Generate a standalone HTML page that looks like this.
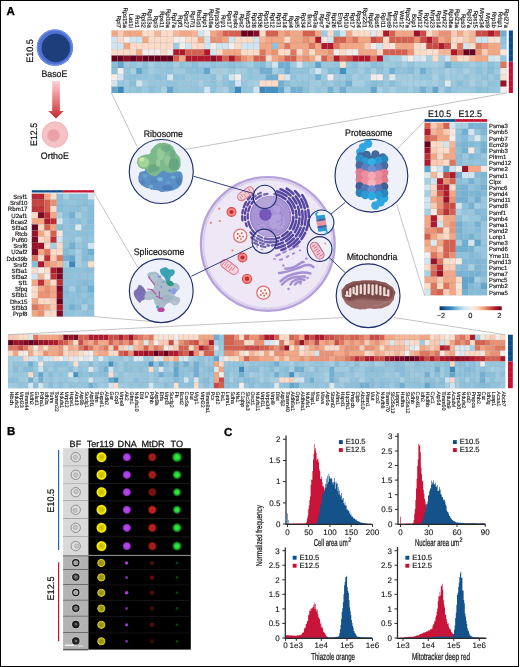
<!DOCTYPE html>
<html><head><meta charset="utf-8"><title>Figure</title><style>html,body{margin:0;padding:0;background:#fff}svg{display:block}</style></head><body><svg width="520" height="667" viewBox="0 0 520 667" style="text-rendering:geometricPrecision"><g stroke="#8a8f99" stroke-width="0.35" stroke-opacity="0.4"><rect x="111.50" y="30.50" width="6.17" height="6.25" fill="#f4a582"/><rect x="117.67" y="30.50" width="6.17" height="6.25" fill="#facbb2"/><rect x="123.84" y="30.50" width="6.17" height="6.25" fill="#f4a582"/><rect x="130.02" y="30.50" width="6.17" height="6.25" fill="#f4a582"/><rect x="136.19" y="30.50" width="6.17" height="6.25" fill="#f4a582"/><rect x="142.36" y="30.50" width="6.17" height="6.25" fill="#fddbc7"/><rect x="148.53" y="30.50" width="6.17" height="6.25" fill="#fddbc7"/><rect x="154.70" y="30.50" width="6.17" height="6.25" fill="#f7b597"/><rect x="160.88" y="30.50" width="6.17" height="6.25" fill="#fddbc7"/><rect x="167.05" y="30.50" width="6.17" height="6.25" fill="#fddbc7"/><rect x="173.22" y="30.50" width="6.17" height="6.25" fill="#f7b597"/><rect x="179.39" y="30.50" width="6.17" height="6.25" fill="#f4a582"/><rect x="185.56" y="30.50" width="6.17" height="6.25" fill="#f4a582"/><rect x="191.74" y="30.50" width="6.17" height="6.25" fill="#f7b597"/><rect x="197.91" y="30.50" width="6.17" height="6.25" fill="#d1e5f0"/><rect x="204.08" y="30.50" width="6.17" height="6.25" fill="#f3eeeb"/><rect x="210.25" y="30.50" width="6.17" height="6.25" fill="#f4a582"/><rect x="216.42" y="30.50" width="6.17" height="6.25" fill="#eb9072"/><rect x="222.60" y="30.50" width="6.17" height="6.25" fill="#d6604d"/><rect x="228.77" y="30.50" width="6.17" height="6.25" fill="#d6604d"/><rect x="234.94" y="30.50" width="6.17" height="6.25" fill="#d6604d"/><rect x="241.11" y="30.50" width="6.17" height="6.25" fill="#67001f"/><rect x="247.28" y="30.50" width="6.17" height="6.25" fill="#67001f"/><rect x="253.46" y="30.50" width="6.17" height="6.25" fill="#8c0c25"/><rect x="259.63" y="30.50" width="6.17" height="6.25" fill="#fddbc7"/><rect x="265.80" y="30.50" width="6.17" height="6.25" fill="#d6604d"/><rect x="271.97" y="30.50" width="6.17" height="6.25" fill="#d6604d"/><rect x="278.14" y="30.50" width="6.17" height="6.25" fill="#f4a582"/><rect x="284.32" y="30.50" width="6.17" height="6.25" fill="#eb9072"/><rect x="290.49" y="30.50" width="6.17" height="6.25" fill="#f4a582"/><rect x="296.66" y="30.50" width="6.17" height="6.25" fill="#f4a582"/><rect x="302.83" y="30.50" width="6.17" height="6.25" fill="#d6604d"/><rect x="309.00" y="30.50" width="6.17" height="6.25" fill="#d6604d"/><rect x="315.18" y="30.50" width="6.17" height="6.25" fill="#f4a582"/><rect x="321.35" y="30.50" width="6.17" height="6.25" fill="#9dcae1"/><rect x="327.52" y="30.50" width="6.17" height="6.25" fill="#fddbc7"/><rect x="333.69" y="30.50" width="6.17" height="6.25" fill="#91c4de"/><rect x="339.86" y="30.50" width="6.17" height="6.25" fill="#d1e5f0"/><rect x="346.04" y="30.50" width="6.17" height="6.25" fill="#f4a582"/><rect x="352.21" y="30.50" width="6.17" height="6.25" fill="#fddbc7"/><rect x="358.38" y="30.50" width="6.17" height="6.25" fill="#fddbc7"/><rect x="364.55" y="30.50" width="6.17" height="6.25" fill="#fddbc7"/><rect x="370.72" y="30.50" width="6.17" height="6.25" fill="#dbe8ee"/><rect x="376.90" y="30.50" width="6.17" height="6.25" fill="#fddbc7"/><rect x="383.07" y="30.50" width="6.17" height="6.25" fill="#b2182b"/><rect x="389.24" y="30.50" width="6.17" height="6.25" fill="#d6604d"/><rect x="395.41" y="30.50" width="6.17" height="6.25" fill="#f4a582"/><rect x="401.58" y="30.50" width="6.17" height="6.25" fill="#f4a582"/><rect x="407.76" y="30.50" width="6.17" height="6.25" fill="#f4a582"/><rect x="413.93" y="30.50" width="6.17" height="6.25" fill="#9b1127"/><rect x="420.10" y="30.50" width="6.17" height="6.25" fill="#cb4a43"/><rect x="426.27" y="30.50" width="6.17" height="6.25" fill="#fddbc7"/><rect x="432.44" y="30.50" width="6.17" height="6.25" fill="#f7b597"/><rect x="438.62" y="30.50" width="6.17" height="6.25" fill="#eb9072"/><rect x="444.79" y="30.50" width="6.17" height="6.25" fill="#eb9072"/><rect x="450.96" y="30.50" width="6.17" height="6.25" fill="#facbb2"/><rect x="457.13" y="30.50" width="6.17" height="6.25" fill="#f4a582"/><rect x="463.30" y="30.50" width="6.17" height="6.25" fill="#facbb2"/><rect x="469.48" y="30.50" width="6.17" height="6.25" fill="#f7b597"/><rect x="475.65" y="30.50" width="6.17" height="6.25" fill="#cb4a43"/><rect x="481.82" y="30.50" width="6.17" height="6.25" fill="#cb4a43"/><rect x="487.99" y="30.50" width="6.17" height="6.25" fill="#b2182b"/><rect x="494.16" y="30.50" width="6.17" height="6.25" fill="#cb4a43"/><rect x="500.34" y="30.50" width="6.17" height="6.25" fill="#70afd2"/><rect x="111.50" y="36.75" width="6.17" height="6.25" fill="#d1e5f0"/><rect x="117.67" y="36.75" width="6.17" height="6.25" fill="#fddbc7"/><rect x="123.84" y="36.75" width="6.17" height="6.25" fill="#f3eeeb"/><rect x="130.02" y="36.75" width="6.17" height="6.25" fill="#d1e5f0"/><rect x="136.19" y="36.75" width="6.17" height="6.25" fill="#d1e5f0"/><rect x="142.36" y="36.75" width="6.17" height="6.25" fill="#f4a582"/><rect x="148.53" y="36.75" width="6.17" height="6.25" fill="#fddbc7"/><rect x="154.70" y="36.75" width="6.17" height="6.25" fill="#fddbc7"/><rect x="160.88" y="36.75" width="6.17" height="6.25" fill="#fddbc7"/><rect x="167.05" y="36.75" width="6.17" height="6.25" fill="#fddbc7"/><rect x="173.22" y="36.75" width="6.17" height="6.25" fill="#f3eeeb"/><rect x="179.39" y="36.75" width="6.17" height="6.25" fill="#f3eeeb"/><rect x="185.56" y="36.75" width="6.17" height="6.25" fill="#fddbc7"/><rect x="191.74" y="36.75" width="6.17" height="6.25" fill="#fddbc7"/><rect x="197.91" y="36.75" width="6.17" height="6.25" fill="#f4a582"/><rect x="204.08" y="36.75" width="6.17" height="6.25" fill="#d1e5f0"/><rect x="210.25" y="36.75" width="6.17" height="6.25" fill="#eb9072"/><rect x="216.42" y="36.75" width="6.17" height="6.25" fill="#eb9072"/><rect x="222.60" y="36.75" width="6.17" height="6.25" fill="#f4a582"/><rect x="228.77" y="36.75" width="6.17" height="6.25" fill="#d1e5f0"/><rect x="234.94" y="36.75" width="6.17" height="6.25" fill="#fddbc7"/><rect x="241.11" y="36.75" width="6.17" height="6.25" fill="#fddbc7"/><rect x="247.28" y="36.75" width="6.17" height="6.25" fill="#fddbc7"/><rect x="253.46" y="36.75" width="6.17" height="6.25" fill="#d1e5f0"/><rect x="259.63" y="36.75" width="6.17" height="6.25" fill="#f7b597"/><rect x="265.80" y="36.75" width="6.17" height="6.25" fill="#f4a582"/><rect x="271.97" y="36.75" width="6.17" height="6.25" fill="#f4a582"/><rect x="278.14" y="36.75" width="6.17" height="6.25" fill="#f4a582"/><rect x="284.32" y="36.75" width="6.17" height="6.25" fill="#fddbc7"/><rect x="290.49" y="36.75" width="6.17" height="6.25" fill="#f4a582"/><rect x="296.66" y="36.75" width="6.17" height="6.25" fill="#f4a582"/><rect x="302.83" y="36.75" width="6.17" height="6.25" fill="#eb9072"/><rect x="309.00" y="36.75" width="6.17" height="6.25" fill="#f4a582"/><rect x="315.18" y="36.75" width="6.17" height="6.25" fill="#b2182b"/><rect x="321.35" y="36.75" width="6.17" height="6.25" fill="#f6e8e0"/><rect x="327.52" y="36.75" width="6.17" height="6.25" fill="#d1e5f0"/><rect x="333.69" y="36.75" width="6.17" height="6.25" fill="#d6604d"/><rect x="339.86" y="36.75" width="6.17" height="6.25" fill="#d6604d"/><rect x="346.04" y="36.75" width="6.17" height="6.25" fill="#eb9072"/><rect x="352.21" y="36.75" width="6.17" height="6.25" fill="#df755d"/><rect x="358.38" y="36.75" width="6.17" height="6.25" fill="#f4a582"/><rect x="364.55" y="36.75" width="6.17" height="6.25" fill="#f4a582"/><rect x="370.72" y="36.75" width="6.17" height="6.25" fill="#cb4a43"/><rect x="376.90" y="36.75" width="6.17" height="6.25" fill="#d6604d"/><rect x="383.07" y="36.75" width="6.17" height="6.25" fill="#fddbc7"/><rect x="389.24" y="36.75" width="6.17" height="6.25" fill="#d6604d"/><rect x="395.41" y="36.75" width="6.17" height="6.25" fill="#d6604d"/><rect x="401.58" y="36.75" width="6.17" height="6.25" fill="#d6604d"/><rect x="407.76" y="36.75" width="6.17" height="6.25" fill="#d6604d"/><rect x="413.93" y="36.75" width="6.17" height="6.25" fill="#eb9072"/><rect x="420.10" y="36.75" width="6.17" height="6.25" fill="#cb4a43"/><rect x="426.27" y="36.75" width="6.17" height="6.25" fill="#b2182b"/><rect x="432.44" y="36.75" width="6.17" height="6.25" fill="#d6604d"/><rect x="438.62" y="36.75" width="6.17" height="6.25" fill="#f4a582"/><rect x="444.79" y="36.75" width="6.17" height="6.25" fill="#eb9072"/><rect x="450.96" y="36.75" width="6.17" height="6.25" fill="#fddbc7"/><rect x="457.13" y="36.75" width="6.17" height="6.25" fill="#fddbc7"/><rect x="463.30" y="36.75" width="6.17" height="6.25" fill="#facbb2"/><rect x="469.48" y="36.75" width="6.17" height="6.25" fill="#f7b597"/><rect x="475.65" y="36.75" width="6.17" height="6.25" fill="#d1e5f0"/><rect x="481.82" y="36.75" width="6.17" height="6.25" fill="#d1e5f0"/><rect x="487.99" y="36.75" width="6.17" height="6.25" fill="#fae1d2"/><rect x="494.16" y="36.75" width="6.17" height="6.25" fill="#fae1d2"/><rect x="500.34" y="36.75" width="6.17" height="6.25" fill="#8fc3dd"/><rect x="111.50" y="43.00" width="6.17" height="6.25" fill="#d1e5f0"/><rect x="117.67" y="43.00" width="6.17" height="6.25" fill="#d1e5f0"/><rect x="123.84" y="43.00" width="6.17" height="6.25" fill="#f4a582"/><rect x="130.02" y="43.00" width="6.17" height="6.25" fill="#fddbc7"/><rect x="136.19" y="43.00" width="6.17" height="6.25" fill="#fddbc7"/><rect x="142.36" y="43.00" width="6.17" height="6.25" fill="#fddbc7"/><rect x="148.53" y="43.00" width="6.17" height="6.25" fill="#fddbc7"/><rect x="154.70" y="43.00" width="6.17" height="6.25" fill="#fddbc7"/><rect x="160.88" y="43.00" width="6.17" height="6.25" fill="#fddbc7"/><rect x="167.05" y="43.00" width="6.17" height="6.25" fill="#fddbc7"/><rect x="173.22" y="43.00" width="6.17" height="6.25" fill="#9dcbe1"/><rect x="179.39" y="43.00" width="6.17" height="6.25" fill="#f3eeeb"/><rect x="185.56" y="43.00" width="6.17" height="6.25" fill="#d1e5f0"/><rect x="191.74" y="43.00" width="6.17" height="6.25" fill="#fddbc7"/><rect x="197.91" y="43.00" width="6.17" height="6.25" fill="#fddbc7"/><rect x="204.08" y="43.00" width="6.17" height="6.25" fill="#d1e5f0"/><rect x="210.25" y="43.00" width="6.17" height="6.25" fill="#f3eeeb"/><rect x="216.42" y="43.00" width="6.17" height="6.25" fill="#d1e5f0"/><rect x="222.60" y="43.00" width="6.17" height="6.25" fill="#d1e5f0"/><rect x="228.77" y="43.00" width="6.17" height="6.25" fill="#f3eeeb"/><rect x="234.94" y="43.00" width="6.17" height="6.25" fill="#fddbc7"/><rect x="241.11" y="43.00" width="6.17" height="6.25" fill="#d1e5f0"/><rect x="247.28" y="43.00" width="6.17" height="6.25" fill="#d1e5f0"/><rect x="253.46" y="43.00" width="6.17" height="6.25" fill="#d1e5f0"/><rect x="259.63" y="43.00" width="6.17" height="6.25" fill="#f4a582"/><rect x="265.80" y="43.00" width="6.17" height="6.25" fill="#f4a582"/><rect x="271.97" y="43.00" width="6.17" height="6.25" fill="#8dc2dc"/><rect x="278.14" y="43.00" width="6.17" height="6.25" fill="#f4a582"/><rect x="284.32" y="43.00" width="6.17" height="6.25" fill="#df755d"/><rect x="290.49" y="43.00" width="6.17" height="6.25" fill="#f4a582"/><rect x="296.66" y="43.00" width="6.17" height="6.25" fill="#f4a582"/><rect x="302.83" y="43.00" width="6.17" height="6.25" fill="#f4a582"/><rect x="309.00" y="43.00" width="6.17" height="6.25" fill="#df755d"/><rect x="315.18" y="43.00" width="6.17" height="6.25" fill="#f4a582"/><rect x="321.35" y="43.00" width="6.17" height="6.25" fill="#b2182b"/><rect x="327.52" y="43.00" width="6.17" height="6.25" fill="#b2182b"/><rect x="333.69" y="43.00" width="6.17" height="6.25" fill="#df755d"/><rect x="339.86" y="43.00" width="6.17" height="6.25" fill="#f4a582"/><rect x="346.04" y="43.00" width="6.17" height="6.25" fill="#f4a582"/><rect x="352.21" y="43.00" width="6.17" height="6.25" fill="#f4a582"/><rect x="358.38" y="43.00" width="6.17" height="6.25" fill="#f4a582"/><rect x="364.55" y="43.00" width="6.17" height="6.25" fill="#facbb2"/><rect x="370.72" y="43.00" width="6.17" height="6.25" fill="#f3eeeb"/><rect x="376.90" y="43.00" width="6.17" height="6.25" fill="#d1e5f0"/><rect x="383.07" y="43.00" width="6.17" height="6.25" fill="#fddbc7"/><rect x="389.24" y="43.00" width="6.17" height="6.25" fill="#f6e8e0"/><rect x="395.41" y="43.00" width="6.17" height="6.25" fill="#f4a582"/><rect x="401.58" y="43.00" width="6.17" height="6.25" fill="#f4a582"/><rect x="407.76" y="43.00" width="6.17" height="6.25" fill="#f4a582"/><rect x="413.93" y="43.00" width="6.17" height="6.25" fill="#fddbc7"/><rect x="420.10" y="43.00" width="6.17" height="6.25" fill="#fae1d2"/><rect x="426.27" y="43.00" width="6.17" height="6.25" fill="#cb4a43"/><rect x="432.44" y="43.00" width="6.17" height="6.25" fill="#cb4a43"/><rect x="438.62" y="43.00" width="6.17" height="6.25" fill="#b2182b"/><rect x="444.79" y="43.00" width="6.17" height="6.25" fill="#cb4a43"/><rect x="450.96" y="43.00" width="6.17" height="6.25" fill="#fddbc7"/><rect x="457.13" y="43.00" width="6.17" height="6.25" fill="#df755d"/><rect x="463.30" y="43.00" width="6.17" height="6.25" fill="#d1e5f0"/><rect x="469.48" y="43.00" width="6.17" height="6.25" fill="#fddbc7"/><rect x="475.65" y="43.00" width="6.17" height="6.25" fill="#df755d"/><rect x="481.82" y="43.00" width="6.17" height="6.25" fill="#eb9072"/><rect x="487.99" y="43.00" width="6.17" height="6.25" fill="#f4a582"/><rect x="494.16" y="43.00" width="6.17" height="6.25" fill="#f4a582"/><rect x="500.34" y="43.00" width="6.17" height="6.25" fill="#95c6df"/><rect x="111.50" y="49.25" width="6.17" height="6.25" fill="#fddbc7"/><rect x="117.67" y="49.25" width="6.17" height="6.25" fill="#fddbc7"/><rect x="123.84" y="49.25" width="6.17" height="6.25" fill="#fddbc7"/><rect x="130.02" y="49.25" width="6.17" height="6.25" fill="#fddbc7"/><rect x="136.19" y="49.25" width="6.17" height="6.25" fill="#f4a582"/><rect x="142.36" y="49.25" width="6.17" height="6.25" fill="#f3eeeb"/><rect x="148.53" y="49.25" width="6.17" height="6.25" fill="#f3eeeb"/><rect x="154.70" y="49.25" width="6.17" height="6.25" fill="#f3eeeb"/><rect x="160.88" y="49.25" width="6.17" height="6.25" fill="#fddbc7"/><rect x="167.05" y="49.25" width="6.17" height="6.25" fill="#f3eeeb"/><rect x="173.22" y="49.25" width="6.17" height="6.25" fill="#b2182b"/><rect x="179.39" y="49.25" width="6.17" height="6.25" fill="#b2182b"/><rect x="185.56" y="49.25" width="6.17" height="6.25" fill="#d6604d"/><rect x="191.74" y="49.25" width="6.17" height="6.25" fill="#d6604d"/><rect x="197.91" y="49.25" width="6.17" height="6.25" fill="#d6604d"/><rect x="204.08" y="49.25" width="6.17" height="6.25" fill="#b2182b"/><rect x="210.25" y="49.25" width="6.17" height="6.25" fill="#d1e5f0"/><rect x="216.42" y="49.25" width="6.17" height="6.25" fill="#fddbc7"/><rect x="222.60" y="49.25" width="6.17" height="6.25" fill="#f4a582"/><rect x="228.77" y="49.25" width="6.17" height="6.25" fill="#f4a582"/><rect x="234.94" y="49.25" width="6.17" height="6.25" fill="#f4a582"/><rect x="241.11" y="49.25" width="6.17" height="6.25" fill="#fddbc7"/><rect x="247.28" y="49.25" width="6.17" height="6.25" fill="#fddbc7"/><rect x="253.46" y="49.25" width="6.17" height="6.25" fill="#fddbc7"/><rect x="259.63" y="49.25" width="6.17" height="6.25" fill="#df755d"/><rect x="265.80" y="49.25" width="6.17" height="6.25" fill="#f4a582"/><rect x="271.97" y="49.25" width="6.17" height="6.25" fill="#eb9072"/><rect x="278.14" y="49.25" width="6.17" height="6.25" fill="#fddbc7"/><rect x="284.32" y="49.25" width="6.17" height="6.25" fill="#fddbc7"/><rect x="290.49" y="49.25" width="6.17" height="6.25" fill="#df755d"/><rect x="296.66" y="49.25" width="6.17" height="6.25" fill="#fddbc7"/><rect x="302.83" y="49.25" width="6.17" height="6.25" fill="#f4a582"/><rect x="309.00" y="49.25" width="6.17" height="6.25" fill="#fddbc7"/><rect x="315.18" y="49.25" width="6.17" height="6.25" fill="#f4a582"/><rect x="321.35" y="49.25" width="6.17" height="6.25" fill="#f4a582"/><rect x="327.52" y="49.25" width="6.17" height="6.25" fill="#eb9072"/><rect x="333.69" y="49.25" width="6.17" height="6.25" fill="#f3eeeb"/><rect x="339.86" y="49.25" width="6.17" height="6.25" fill="#fddbc7"/><rect x="346.04" y="49.25" width="6.17" height="6.25" fill="#f6e8e0"/><rect x="352.21" y="49.25" width="6.17" height="6.25" fill="#f3eeeb"/><rect x="358.38" y="49.25" width="6.17" height="6.25" fill="#f4a582"/><rect x="364.55" y="49.25" width="6.17" height="6.25" fill="#f4a582"/><rect x="370.72" y="49.25" width="6.17" height="6.25" fill="#f4a582"/><rect x="376.90" y="49.25" width="6.17" height="6.25" fill="#fddbc7"/><rect x="383.07" y="49.25" width="6.17" height="6.25" fill="#d6604d"/><rect x="389.24" y="49.25" width="6.17" height="6.25" fill="#d6604d"/><rect x="395.41" y="49.25" width="6.17" height="6.25" fill="#d6604d"/><rect x="401.58" y="49.25" width="6.17" height="6.25" fill="#d6604d"/><rect x="407.76" y="49.25" width="6.17" height="6.25" fill="#eb9072"/><rect x="413.93" y="49.25" width="6.17" height="6.25" fill="#fddbc7"/><rect x="420.10" y="49.25" width="6.17" height="6.25" fill="#fddbc7"/><rect x="426.27" y="49.25" width="6.17" height="6.25" fill="#fae1d2"/><rect x="432.44" y="49.25" width="6.17" height="6.25" fill="#fddbc7"/><rect x="438.62" y="49.25" width="6.17" height="6.25" fill="#f7b597"/><rect x="444.79" y="49.25" width="6.17" height="6.25" fill="#f7b597"/><rect x="450.96" y="49.25" width="6.17" height="6.25" fill="#b2182b"/><rect x="457.13" y="49.25" width="6.17" height="6.25" fill="#d6604d"/><rect x="463.30" y="49.25" width="6.17" height="6.25" fill="#67001f"/><rect x="469.48" y="49.25" width="6.17" height="6.25" fill="#67001f"/><rect x="475.65" y="49.25" width="6.17" height="6.25" fill="#eb9072"/><rect x="481.82" y="49.25" width="6.17" height="6.25" fill="#facbb2"/><rect x="487.99" y="49.25" width="6.17" height="6.25" fill="#f4a582"/><rect x="494.16" y="49.25" width="6.17" height="6.25" fill="#f4a582"/><rect x="500.34" y="49.25" width="6.17" height="6.25" fill="#f6e8e0"/><rect x="111.50" y="55.50" width="6.17" height="6.25" fill="#67001f"/><rect x="117.67" y="55.50" width="6.17" height="6.25" fill="#67001f"/><rect x="123.84" y="55.50" width="6.17" height="6.25" fill="#8c0c25"/><rect x="130.02" y="55.50" width="6.17" height="6.25" fill="#67001f"/><rect x="136.19" y="55.50" width="6.17" height="6.25" fill="#8c0c25"/><rect x="142.36" y="55.50" width="6.17" height="6.25" fill="#67001f"/><rect x="148.53" y="55.50" width="6.17" height="6.25" fill="#67001f"/><rect x="154.70" y="55.50" width="6.17" height="6.25" fill="#67001f"/><rect x="160.88" y="55.50" width="6.17" height="6.25" fill="#67001f"/><rect x="167.05" y="55.50" width="6.17" height="6.25" fill="#67001f"/><rect x="173.22" y="55.50" width="6.17" height="6.25" fill="#d6604d"/><rect x="179.39" y="55.50" width="6.17" height="6.25" fill="#f4a582"/><rect x="185.56" y="55.50" width="6.17" height="6.25" fill="#b2182b"/><rect x="191.74" y="55.50" width="6.17" height="6.25" fill="#b2182b"/><rect x="197.91" y="55.50" width="6.17" height="6.25" fill="#b2182b"/><rect x="204.08" y="55.50" width="6.17" height="6.25" fill="#b2182b"/><rect x="210.25" y="55.50" width="6.17" height="6.25" fill="#8c0c25"/><rect x="216.42" y="55.50" width="6.17" height="6.25" fill="#b2182b"/><rect x="222.60" y="55.50" width="6.17" height="6.25" fill="#d6604d"/><rect x="228.77" y="55.50" width="6.17" height="6.25" fill="#b2182b"/><rect x="234.94" y="55.50" width="6.17" height="6.25" fill="#d6604d"/><rect x="241.11" y="55.50" width="6.17" height="6.25" fill="#eb9072"/><rect x="247.28" y="55.50" width="6.17" height="6.25" fill="#f4a582"/><rect x="253.46" y="55.50" width="6.17" height="6.25" fill="#d6604d"/><rect x="259.63" y="55.50" width="6.17" height="6.25" fill="#d6604d"/><rect x="265.80" y="55.50" width="6.17" height="6.25" fill="#fddbc7"/><rect x="271.97" y="55.50" width="6.17" height="6.25" fill="#f4a582"/><rect x="278.14" y="55.50" width="6.17" height="6.25" fill="#eb9072"/><rect x="284.32" y="55.50" width="6.17" height="6.25" fill="#d6604d"/><rect x="290.49" y="55.50" width="6.17" height="6.25" fill="#d6604d"/><rect x="296.66" y="55.50" width="6.17" height="6.25" fill="#f4a582"/><rect x="302.83" y="55.50" width="6.17" height="6.25" fill="#eb9072"/><rect x="309.00" y="55.50" width="6.17" height="6.25" fill="#f4a582"/><rect x="315.18" y="55.50" width="6.17" height="6.25" fill="#fddbc7"/><rect x="321.35" y="55.50" width="6.17" height="6.25" fill="#d6604d"/><rect x="327.52" y="55.50" width="6.17" height="6.25" fill="#eb9072"/><rect x="333.69" y="55.50" width="6.17" height="6.25" fill="#b2182b"/><rect x="339.86" y="55.50" width="6.17" height="6.25" fill="#d6604d"/><rect x="346.04" y="55.50" width="6.17" height="6.25" fill="#cb4a43"/><rect x="352.21" y="55.50" width="6.17" height="6.25" fill="#b2182b"/><rect x="358.38" y="55.50" width="6.17" height="6.25" fill="#b2182b"/><rect x="364.55" y="55.50" width="6.17" height="6.25" fill="#b2182b"/><rect x="370.72" y="55.50" width="6.17" height="6.25" fill="#df755d"/><rect x="376.90" y="55.50" width="6.17" height="6.25" fill="#b2182b"/><rect x="383.07" y="55.50" width="6.17" height="6.25" fill="#97c7df"/><rect x="389.24" y="55.50" width="6.17" height="6.25" fill="#a5cfe3"/><rect x="395.41" y="55.50" width="6.17" height="6.25" fill="#a5cfe3"/><rect x="401.58" y="55.50" width="6.17" height="6.25" fill="#d1e5f0"/><rect x="407.76" y="55.50" width="6.17" height="6.25" fill="#f3eeeb"/><rect x="413.93" y="55.50" width="6.17" height="6.25" fill="#d1e5f0"/><rect x="420.10" y="55.50" width="6.17" height="6.25" fill="#dbe8ee"/><rect x="426.27" y="55.50" width="6.17" height="6.25" fill="#a5cfe3"/><rect x="432.44" y="55.50" width="6.17" height="6.25" fill="#fddbc7"/><rect x="438.62" y="55.50" width="6.17" height="6.25" fill="#a5cfe3"/><rect x="444.79" y="55.50" width="6.17" height="6.25" fill="#d1e5f0"/><rect x="450.96" y="55.50" width="6.17" height="6.25" fill="#f7b597"/><rect x="457.13" y="55.50" width="6.17" height="6.25" fill="#fddbc7"/><rect x="463.30" y="55.50" width="6.17" height="6.25" fill="#fddbc7"/><rect x="469.48" y="55.50" width="6.17" height="6.25" fill="#f7b597"/><rect x="475.65" y="55.50" width="6.17" height="6.25" fill="#f4a582"/><rect x="481.82" y="55.50" width="6.17" height="6.25" fill="#f4a582"/><rect x="487.99" y="55.50" width="6.17" height="6.25" fill="#d1e5f0"/><rect x="494.16" y="55.50" width="6.17" height="6.25" fill="#dbe8ee"/><rect x="500.34" y="55.50" width="6.17" height="6.25" fill="#98c8e0"/><rect x="111.50" y="61.75" width="6.17" height="6.25" fill="#89bfdb"/><rect x="117.67" y="61.75" width="6.17" height="6.25" fill="#61a6cd"/><rect x="123.84" y="61.75" width="6.17" height="6.25" fill="#9dcae1"/><rect x="130.02" y="61.75" width="6.17" height="6.25" fill="#91c5de"/><rect x="136.19" y="61.75" width="6.17" height="6.25" fill="#9ecbe1"/><rect x="142.36" y="61.75" width="6.17" height="6.25" fill="#8bc0db"/><rect x="148.53" y="61.75" width="6.17" height="6.25" fill="#a3cee3"/><rect x="154.70" y="61.75" width="6.17" height="6.25" fill="#92c5de"/><rect x="160.88" y="61.75" width="6.17" height="6.25" fill="#97c7df"/><rect x="167.05" y="61.75" width="6.17" height="6.25" fill="#8fc3dd"/><rect x="173.22" y="61.75" width="6.17" height="6.25" fill="#a3cee3"/><rect x="179.39" y="61.75" width="6.17" height="6.25" fill="#8dc2dc"/><rect x="185.56" y="61.75" width="6.17" height="6.25" fill="#95c6df"/><rect x="191.74" y="61.75" width="6.17" height="6.25" fill="#86beda"/><rect x="197.91" y="61.75" width="6.17" height="6.25" fill="#9bcae1"/><rect x="204.08" y="61.75" width="6.17" height="6.25" fill="#99c9e0"/><rect x="210.25" y="61.75" width="6.17" height="6.25" fill="#8bc1dc"/><rect x="216.42" y="61.75" width="6.17" height="6.25" fill="#94c6df"/><rect x="222.60" y="61.75" width="6.17" height="6.25" fill="#91c4de"/><rect x="228.77" y="61.75" width="6.17" height="6.25" fill="#89bfdb"/><rect x="234.94" y="61.75" width="6.17" height="6.25" fill="#90c4dd"/><rect x="241.11" y="61.75" width="6.17" height="6.25" fill="#94c6df"/><rect x="247.28" y="61.75" width="6.17" height="6.25" fill="#a1cde2"/><rect x="253.46" y="61.75" width="6.17" height="6.25" fill="#8bc0dc"/><rect x="259.63" y="61.75" width="6.17" height="6.25" fill="#83bcd9"/><rect x="265.80" y="61.75" width="6.17" height="6.25" fill="#a5cfe3"/><rect x="271.97" y="61.75" width="6.17" height="6.25" fill="#d1e5f0"/><rect x="278.14" y="61.75" width="6.17" height="6.25" fill="#70afd2"/><rect x="284.32" y="61.75" width="6.17" height="6.25" fill="#70afd2"/><rect x="290.49" y="61.75" width="6.17" height="6.25" fill="#9ecbe1"/><rect x="296.66" y="61.75" width="6.17" height="6.25" fill="#d1e5f0"/><rect x="302.83" y="61.75" width="6.17" height="6.25" fill="#9dcbe1"/><rect x="309.00" y="61.75" width="6.17" height="6.25" fill="#97c7df"/><rect x="315.18" y="61.75" width="6.17" height="6.25" fill="#61a6cd"/><rect x="321.35" y="61.75" width="6.17" height="6.25" fill="#98c8e0"/><rect x="327.52" y="61.75" width="6.17" height="6.25" fill="#96c7df"/><rect x="333.69" y="61.75" width="6.17" height="6.25" fill="#91c4de"/><rect x="339.86" y="61.75" width="6.17" height="6.25" fill="#fae1d2"/><rect x="346.04" y="61.75" width="6.17" height="6.25" fill="#96c7df"/><rect x="352.21" y="61.75" width="6.17" height="6.25" fill="#88bfdb"/><rect x="358.38" y="61.75" width="6.17" height="6.25" fill="#a4cee3"/><rect x="364.55" y="61.75" width="6.17" height="6.25" fill="#9ccae1"/><rect x="370.72" y="61.75" width="6.17" height="6.25" fill="#88bfdb"/><rect x="376.90" y="61.75" width="6.17" height="6.25" fill="#91c5de"/><rect x="383.07" y="61.75" width="6.17" height="6.25" fill="#a0cce2"/><rect x="389.24" y="61.75" width="6.17" height="6.25" fill="#9ac9e0"/><rect x="395.41" y="61.75" width="6.17" height="6.25" fill="#92c5de"/><rect x="401.58" y="61.75" width="6.17" height="6.25" fill="#9fcce2"/><rect x="407.76" y="61.75" width="6.17" height="6.25" fill="#90c4dd"/><rect x="413.93" y="61.75" width="6.17" height="6.25" fill="#a0cce2"/><rect x="420.10" y="61.75" width="6.17" height="6.25" fill="#9ecbe1"/><rect x="426.27" y="61.75" width="6.17" height="6.25" fill="#9dcbe1"/><rect x="432.44" y="61.75" width="6.17" height="6.25" fill="#a6cfe4"/><rect x="438.62" y="61.75" width="6.17" height="6.25" fill="#9bcae1"/><rect x="444.79" y="61.75" width="6.17" height="6.25" fill="#70afd2"/><rect x="450.96" y="61.75" width="6.17" height="6.25" fill="#90c4dd"/><rect x="457.13" y="61.75" width="6.17" height="6.25" fill="#8ec3dd"/><rect x="463.30" y="61.75" width="6.17" height="6.25" fill="#97c8df"/><rect x="469.48" y="61.75" width="6.17" height="6.25" fill="#a1cce2"/><rect x="475.65" y="61.75" width="6.17" height="6.25" fill="#91c4de"/><rect x="481.82" y="61.75" width="6.17" height="6.25" fill="#9bcae1"/><rect x="487.99" y="61.75" width="6.17" height="6.25" fill="#8cc1dc"/><rect x="494.16" y="61.75" width="6.17" height="6.25" fill="#98c8e0"/><rect x="500.34" y="61.75" width="6.17" height="6.25" fill="#df755d"/><rect x="111.50" y="68.00" width="6.17" height="6.25" fill="#8ac0db"/><rect x="117.67" y="68.00" width="6.17" height="6.25" fill="#f3eeeb"/><rect x="123.84" y="68.00" width="6.17" height="6.25" fill="#92c5de"/><rect x="130.02" y="68.00" width="6.17" height="6.25" fill="#a6cfe4"/><rect x="136.19" y="68.00" width="6.17" height="6.25" fill="#61a6cd"/><rect x="142.36" y="68.00" width="6.17" height="6.25" fill="#8cc1dc"/><rect x="148.53" y="68.00" width="6.17" height="6.25" fill="#a1cde2"/><rect x="154.70" y="68.00" width="6.17" height="6.25" fill="#98c8e0"/><rect x="160.88" y="68.00" width="6.17" height="6.25" fill="#93c5de"/><rect x="167.05" y="68.00" width="6.17" height="6.25" fill="#8ec3dd"/><rect x="173.22" y="68.00" width="6.17" height="6.25" fill="#9ccae1"/><rect x="179.39" y="68.00" width="6.17" height="6.25" fill="#9bcae1"/><rect x="185.56" y="68.00" width="6.17" height="6.25" fill="#8bc1dc"/><rect x="191.74" y="68.00" width="6.17" height="6.25" fill="#8cc1dc"/><rect x="197.91" y="68.00" width="6.17" height="6.25" fill="#8cc2dc"/><rect x="204.08" y="68.00" width="6.17" height="6.25" fill="#61a6cd"/><rect x="210.25" y="68.00" width="6.17" height="6.25" fill="#a2cde3"/><rect x="216.42" y="68.00" width="6.17" height="6.25" fill="#a0cce2"/><rect x="222.60" y="68.00" width="6.17" height="6.25" fill="#a6cfe4"/><rect x="228.77" y="68.00" width="6.17" height="6.25" fill="#97c8e0"/><rect x="234.94" y="68.00" width="6.17" height="6.25" fill="#a5cfe3"/><rect x="241.11" y="68.00" width="6.17" height="6.25" fill="#9ecbe1"/><rect x="247.28" y="68.00" width="6.17" height="6.25" fill="#8dc2dc"/><rect x="253.46" y="68.00" width="6.17" height="6.25" fill="#94c6df"/><rect x="259.63" y="68.00" width="6.17" height="6.25" fill="#70afd2"/><rect x="265.80" y="68.00" width="6.17" height="6.25" fill="#70afd2"/><rect x="271.97" y="68.00" width="6.17" height="6.25" fill="#a3cee3"/><rect x="278.14" y="68.00" width="6.17" height="6.25" fill="#94c6df"/><rect x="284.32" y="68.00" width="6.17" height="6.25" fill="#70afd2"/><rect x="290.49" y="68.00" width="6.17" height="6.25" fill="#8fc3dd"/><rect x="296.66" y="68.00" width="6.17" height="6.25" fill="#90c3dd"/><rect x="302.83" y="68.00" width="6.17" height="6.25" fill="#8fc3dd"/><rect x="309.00" y="68.00" width="6.17" height="6.25" fill="#a5cfe3"/><rect x="315.18" y="68.00" width="6.17" height="6.25" fill="#d1e5f0"/><rect x="321.35" y="68.00" width="6.17" height="6.25" fill="#a1cde2"/><rect x="327.52" y="68.00" width="6.17" height="6.25" fill="#83bcd9"/><rect x="333.69" y="68.00" width="6.17" height="6.25" fill="#87beda"/><rect x="339.86" y="68.00" width="6.17" height="6.25" fill="#4191c2"/><rect x="346.04" y="68.00" width="6.17" height="6.25" fill="#93c6de"/><rect x="352.21" y="68.00" width="6.17" height="6.25" fill="#90c4dd"/><rect x="358.38" y="68.00" width="6.17" height="6.25" fill="#9fcce2"/><rect x="364.55" y="68.00" width="6.17" height="6.25" fill="#8dc2dc"/><rect x="370.72" y="68.00" width="6.17" height="6.25" fill="#a5cfe3"/><rect x="376.90" y="68.00" width="6.17" height="6.25" fill="#8ec2dd"/><rect x="383.07" y="68.00" width="6.17" height="6.25" fill="#9dcae1"/><rect x="389.24" y="68.00" width="6.17" height="6.25" fill="#70afd2"/><rect x="395.41" y="68.00" width="6.17" height="6.25" fill="#8ec2dd"/><rect x="401.58" y="68.00" width="6.17" height="6.25" fill="#8dc2dc"/><rect x="407.76" y="68.00" width="6.17" height="6.25" fill="#85bdda"/><rect x="413.93" y="68.00" width="6.17" height="6.25" fill="#9ccae1"/><rect x="420.10" y="68.00" width="6.17" height="6.25" fill="#70afd2"/><rect x="426.27" y="68.00" width="6.17" height="6.25" fill="#90c4dd"/><rect x="432.44" y="68.00" width="6.17" height="6.25" fill="#9bcae1"/><rect x="438.62" y="68.00" width="6.17" height="6.25" fill="#97c7df"/><rect x="444.79" y="68.00" width="6.17" height="6.25" fill="#a6cfe4"/><rect x="450.96" y="68.00" width="6.17" height="6.25" fill="#9fcce2"/><rect x="457.13" y="68.00" width="6.17" height="6.25" fill="#94c6df"/><rect x="463.30" y="68.00" width="6.17" height="6.25" fill="#a5cfe3"/><rect x="469.48" y="68.00" width="6.17" height="6.25" fill="#98c8e0"/><rect x="475.65" y="68.00" width="6.17" height="6.25" fill="#8bc0dc"/><rect x="481.82" y="68.00" width="6.17" height="6.25" fill="#96c7df"/><rect x="487.99" y="68.00" width="6.17" height="6.25" fill="#87beda"/><rect x="494.16" y="68.00" width="6.17" height="6.25" fill="#9ccae1"/><rect x="500.34" y="68.00" width="6.17" height="6.25" fill="#f6e8e0"/><rect x="111.50" y="74.25" width="6.17" height="6.25" fill="#f3eeeb"/><rect x="117.67" y="74.25" width="6.17" height="6.25" fill="#d1e5f0"/><rect x="123.84" y="74.25" width="6.17" height="6.25" fill="#8fc3dd"/><rect x="130.02" y="74.25" width="6.17" height="6.25" fill="#8bc0dc"/><rect x="136.19" y="74.25" width="6.17" height="6.25" fill="#8fc3dd"/><rect x="142.36" y="74.25" width="6.17" height="6.25" fill="#8fc3dd"/><rect x="148.53" y="74.25" width="6.17" height="6.25" fill="#92c5de"/><rect x="154.70" y="74.25" width="6.17" height="6.25" fill="#89bfdb"/><rect x="160.88" y="74.25" width="6.17" height="6.25" fill="#8ec2dd"/><rect x="167.05" y="74.25" width="6.17" height="6.25" fill="#d1e5f0"/><rect x="173.22" y="74.25" width="6.17" height="6.25" fill="#8bc1dc"/><rect x="179.39" y="74.25" width="6.17" height="6.25" fill="#8cc1dc"/><rect x="185.56" y="74.25" width="6.17" height="6.25" fill="#97c8df"/><rect x="191.74" y="74.25" width="6.17" height="6.25" fill="#94c6de"/><rect x="197.91" y="74.25" width="6.17" height="6.25" fill="#98c8e0"/><rect x="204.08" y="74.25" width="6.17" height="6.25" fill="#97c8e0"/><rect x="210.25" y="74.25" width="6.17" height="6.25" fill="#89bfdb"/><rect x="216.42" y="74.25" width="6.17" height="6.25" fill="#a7d0e4"/><rect x="222.60" y="74.25" width="6.17" height="6.25" fill="#92c5de"/><rect x="228.77" y="74.25" width="6.17" height="6.25" fill="#d1e5f0"/><rect x="234.94" y="74.25" width="6.17" height="6.25" fill="#f3eeeb"/><rect x="241.11" y="74.25" width="6.17" height="6.25" fill="#99c9e0"/><rect x="247.28" y="74.25" width="6.17" height="6.25" fill="#8ec3dd"/><rect x="253.46" y="74.25" width="6.17" height="6.25" fill="#92c5de"/><rect x="259.63" y="74.25" width="6.17" height="6.25" fill="#96c7df"/><rect x="265.80" y="74.25" width="6.17" height="6.25" fill="#70afd2"/><rect x="271.97" y="74.25" width="6.17" height="6.25" fill="#70afd2"/><rect x="278.14" y="74.25" width="6.17" height="6.25" fill="#fddbc7"/><rect x="284.32" y="74.25" width="6.17" height="6.25" fill="#d1e5f0"/><rect x="290.49" y="74.25" width="6.17" height="6.25" fill="#8fc3dd"/><rect x="296.66" y="74.25" width="6.17" height="6.25" fill="#99c9e0"/><rect x="302.83" y="74.25" width="6.17" height="6.25" fill="#9bc9e1"/><rect x="309.00" y="74.25" width="6.17" height="6.25" fill="#94c6de"/><rect x="315.18" y="74.25" width="6.17" height="6.25" fill="#70afd2"/><rect x="321.35" y="74.25" width="6.17" height="6.25" fill="#9ac9e0"/><rect x="327.52" y="74.25" width="6.17" height="6.25" fill="#f3eeeb"/><rect x="333.69" y="74.25" width="6.17" height="6.25" fill="#9dcbe1"/><rect x="339.86" y="74.25" width="6.17" height="6.25" fill="#9fcce2"/><rect x="346.04" y="74.25" width="6.17" height="6.25" fill="#8fc3dd"/><rect x="352.21" y="74.25" width="6.17" height="6.25" fill="#a2cde2"/><rect x="358.38" y="74.25" width="6.17" height="6.25" fill="#95c7df"/><rect x="364.55" y="74.25" width="6.17" height="6.25" fill="#9ecbe1"/><rect x="370.72" y="74.25" width="6.17" height="6.25" fill="#f3eeeb"/><rect x="376.90" y="74.25" width="6.17" height="6.25" fill="#f3eeeb"/><rect x="383.07" y="74.25" width="6.17" height="6.25" fill="#99c8e0"/><rect x="389.24" y="74.25" width="6.17" height="6.25" fill="#dbe8ee"/><rect x="395.41" y="74.25" width="6.17" height="6.25" fill="#9fcbe2"/><rect x="401.58" y="74.25" width="6.17" height="6.25" fill="#9ccae1"/><rect x="407.76" y="74.25" width="6.17" height="6.25" fill="#9fcce2"/><rect x="413.93" y="74.25" width="6.17" height="6.25" fill="#9bcae1"/><rect x="420.10" y="74.25" width="6.17" height="6.25" fill="#92c5de"/><rect x="426.27" y="74.25" width="6.17" height="6.25" fill="#8fc3dd"/><rect x="432.44" y="74.25" width="6.17" height="6.25" fill="#a5cfe3"/><rect x="438.62" y="74.25" width="6.17" height="6.25" fill="#8dc2dc"/><rect x="444.79" y="74.25" width="6.17" height="6.25" fill="#a3cee3"/><rect x="450.96" y="74.25" width="6.17" height="6.25" fill="#99c9e0"/><rect x="457.13" y="74.25" width="6.17" height="6.25" fill="#9ccae1"/><rect x="463.30" y="74.25" width="6.17" height="6.25" fill="#92c5de"/><rect x="469.48" y="74.25" width="6.17" height="6.25" fill="#a0cce2"/><rect x="475.65" y="74.25" width="6.17" height="6.25" fill="#98c8e0"/><rect x="481.82" y="74.25" width="6.17" height="6.25" fill="#8fc3dd"/><rect x="487.99" y="74.25" width="6.17" height="6.25" fill="#9ac9e0"/><rect x="494.16" y="74.25" width="6.17" height="6.25" fill="#8cc1dc"/><rect x="500.34" y="74.25" width="6.17" height="6.25" fill="#fae1d2"/><rect x="111.50" y="80.50" width="6.17" height="6.25" fill="#d1e5f0"/><rect x="117.67" y="80.50" width="6.17" height="6.25" fill="#94c6df"/><rect x="123.84" y="80.50" width="6.17" height="6.25" fill="#9bcae1"/><rect x="130.02" y="80.50" width="6.17" height="6.25" fill="#88bfdb"/><rect x="136.19" y="80.50" width="6.17" height="6.25" fill="#d1e5f0"/><rect x="142.36" y="80.50" width="6.17" height="6.25" fill="#a2cde3"/><rect x="148.53" y="80.50" width="6.17" height="6.25" fill="#94c6df"/><rect x="154.70" y="80.50" width="6.17" height="6.25" fill="#97c7df"/><rect x="160.88" y="80.50" width="6.17" height="6.25" fill="#97c7df"/><rect x="167.05" y="80.50" width="6.17" height="6.25" fill="#90c4dd"/><rect x="173.22" y="80.50" width="6.17" height="6.25" fill="#90c4dd"/><rect x="179.39" y="80.50" width="6.17" height="6.25" fill="#93c6de"/><rect x="185.56" y="80.50" width="6.17" height="6.25" fill="#93c5de"/><rect x="191.74" y="80.50" width="6.17" height="6.25" fill="#96c7df"/><rect x="197.91" y="80.50" width="6.17" height="6.25" fill="#a5cfe3"/><rect x="204.08" y="80.50" width="6.17" height="6.25" fill="#94c6df"/><rect x="210.25" y="80.50" width="6.17" height="6.25" fill="#8cc1dc"/><rect x="216.42" y="80.50" width="6.17" height="6.25" fill="#9ccae1"/><rect x="222.60" y="80.50" width="6.17" height="6.25" fill="#8ec2dd"/><rect x="228.77" y="80.50" width="6.17" height="6.25" fill="#83bcd9"/><rect x="234.94" y="80.50" width="6.17" height="6.25" fill="#d1e5f0"/><rect x="241.11" y="80.50" width="6.17" height="6.25" fill="#93c6de"/><rect x="247.28" y="80.50" width="6.17" height="6.25" fill="#9ecbe2"/><rect x="253.46" y="80.50" width="6.17" height="6.25" fill="#a4cee3"/><rect x="259.63" y="80.50" width="6.17" height="6.25" fill="#fddbc7"/><rect x="265.80" y="80.50" width="6.17" height="6.25" fill="#fddbc7"/><rect x="271.97" y="80.50" width="6.17" height="6.25" fill="#fddbc7"/><rect x="278.14" y="80.50" width="6.17" height="6.25" fill="#70afd2"/><rect x="284.32" y="80.50" width="6.17" height="6.25" fill="#87beda"/><rect x="290.49" y="80.50" width="6.17" height="6.25" fill="#95c7df"/><rect x="296.66" y="80.50" width="6.17" height="6.25" fill="#91c5de"/><rect x="302.83" y="80.50" width="6.17" height="6.25" fill="#90c4dd"/><rect x="309.00" y="80.50" width="6.17" height="6.25" fill="#9ccae1"/><rect x="315.18" y="80.50" width="6.17" height="6.25" fill="#a0cce2"/><rect x="321.35" y="80.50" width="6.17" height="6.25" fill="#90c4dd"/><rect x="327.52" y="80.50" width="6.17" height="6.25" fill="#99c9e0"/><rect x="333.69" y="80.50" width="6.17" height="6.25" fill="#8cc1dc"/><rect x="339.86" y="80.50" width="6.17" height="6.25" fill="#90c4dd"/><rect x="346.04" y="80.50" width="6.17" height="6.25" fill="#70afd2"/><rect x="352.21" y="80.50" width="6.17" height="6.25" fill="#a3cee3"/><rect x="358.38" y="80.50" width="6.17" height="6.25" fill="#a5cfe3"/><rect x="364.55" y="80.50" width="6.17" height="6.25" fill="#91c4de"/><rect x="370.72" y="80.50" width="6.17" height="6.25" fill="#86beda"/><rect x="376.90" y="80.50" width="6.17" height="6.25" fill="#8cc1dc"/><rect x="383.07" y="80.50" width="6.17" height="6.25" fill="#96c7df"/><rect x="389.24" y="80.50" width="6.17" height="6.25" fill="#86bdda"/><rect x="395.41" y="80.50" width="6.17" height="6.25" fill="#96c7df"/><rect x="401.58" y="80.50" width="6.17" height="6.25" fill="#a3cde3"/><rect x="407.76" y="80.50" width="6.17" height="6.25" fill="#a2cde2"/><rect x="413.93" y="80.50" width="6.17" height="6.25" fill="#a5cfe4"/><rect x="420.10" y="80.50" width="6.17" height="6.25" fill="#a5cfe3"/><rect x="426.27" y="80.50" width="6.17" height="6.25" fill="#9ac9e0"/><rect x="432.44" y="80.50" width="6.17" height="6.25" fill="#a2cde3"/><rect x="438.62" y="80.50" width="6.17" height="6.25" fill="#94c6df"/><rect x="444.79" y="80.50" width="6.17" height="6.25" fill="#dbe8ee"/><rect x="450.96" y="80.50" width="6.17" height="6.25" fill="#95c7df"/><rect x="457.13" y="80.50" width="6.17" height="6.25" fill="#87beda"/><rect x="463.30" y="80.50" width="6.17" height="6.25" fill="#93c5de"/><rect x="469.48" y="80.50" width="6.17" height="6.25" fill="#a8d0e4"/><rect x="475.65" y="80.50" width="6.17" height="6.25" fill="#93c6de"/><rect x="481.82" y="80.50" width="6.17" height="6.25" fill="#a1cde2"/><rect x="487.99" y="80.50" width="6.17" height="6.25" fill="#8ec2dd"/><rect x="494.16" y="80.50" width="6.17" height="6.25" fill="#91c5de"/><rect x="500.34" y="80.50" width="6.17" height="6.25" fill="#9b1127"/><rect x="111.50" y="86.75" width="6.17" height="6.25" fill="#61a6cd"/><rect x="117.67" y="86.75" width="6.17" height="6.25" fill="#3b88bd"/><rect x="123.84" y="86.75" width="6.17" height="6.25" fill="#99c8e0"/><rect x="130.02" y="86.75" width="6.17" height="6.25" fill="#96c7df"/><rect x="136.19" y="86.75" width="6.17" height="6.25" fill="#8cc1dc"/><rect x="142.36" y="86.75" width="6.17" height="6.25" fill="#9ac9e0"/><rect x="148.53" y="86.75" width="6.17" height="6.25" fill="#89bfdb"/><rect x="154.70" y="86.75" width="6.17" height="6.25" fill="#93c6de"/><rect x="160.88" y="86.75" width="6.17" height="6.25" fill="#a8d0e4"/><rect x="167.05" y="86.75" width="6.17" height="6.25" fill="#61a6cd"/><rect x="173.22" y="86.75" width="6.17" height="6.25" fill="#8ec2dc"/><rect x="179.39" y="86.75" width="6.17" height="6.25" fill="#94c6df"/><rect x="185.56" y="86.75" width="6.17" height="6.25" fill="#93c5de"/><rect x="191.74" y="86.75" width="6.17" height="6.25" fill="#91c5de"/><rect x="197.91" y="86.75" width="6.17" height="6.25" fill="#94c6df"/><rect x="204.08" y="86.75" width="6.17" height="6.25" fill="#d1e5f0"/><rect x="210.25" y="86.75" width="6.17" height="6.25" fill="#8dc2dc"/><rect x="216.42" y="86.75" width="6.17" height="6.25" fill="#9fcce2"/><rect x="222.60" y="86.75" width="6.17" height="6.25" fill="#a8d0e4"/><rect x="228.77" y="86.75" width="6.17" height="6.25" fill="#83bcd9"/><rect x="234.94" y="86.75" width="6.17" height="6.25" fill="#3b88bd"/><rect x="241.11" y="86.75" width="6.17" height="6.25" fill="#90c4dd"/><rect x="247.28" y="86.75" width="6.17" height="6.25" fill="#93c6de"/><rect x="253.46" y="86.75" width="6.17" height="6.25" fill="#d1e5f0"/><rect x="259.63" y="86.75" width="6.17" height="6.25" fill="#3b88bd"/><rect x="265.80" y="86.75" width="6.17" height="6.25" fill="#4191c2"/><rect x="271.97" y="86.75" width="6.17" height="6.25" fill="#4191c2"/><rect x="278.14" y="86.75" width="6.17" height="6.25" fill="#61a6cd"/><rect x="284.32" y="86.75" width="6.17" height="6.25" fill="#a5cfe3"/><rect x="290.49" y="86.75" width="6.17" height="6.25" fill="#70afd2"/><rect x="296.66" y="86.75" width="6.17" height="6.25" fill="#70afd2"/><rect x="302.83" y="86.75" width="6.17" height="6.25" fill="#8cc1dc"/><rect x="309.00" y="86.75" width="6.17" height="6.25" fill="#9fcce2"/><rect x="315.18" y="86.75" width="6.17" height="6.25" fill="#95c6df"/><rect x="321.35" y="86.75" width="6.17" height="6.25" fill="#9dcae1"/><rect x="327.52" y="86.75" width="6.17" height="6.25" fill="#70afd2"/><rect x="333.69" y="86.75" width="6.17" height="6.25" fill="#98c8e0"/><rect x="339.86" y="86.75" width="6.17" height="6.25" fill="#70afd2"/><rect x="346.04" y="86.75" width="6.17" height="6.25" fill="#95c7df"/><rect x="352.21" y="86.75" width="6.17" height="6.25" fill="#92c5de"/><rect x="358.38" y="86.75" width="6.17" height="6.25" fill="#91c5de"/><rect x="364.55" y="86.75" width="6.17" height="6.25" fill="#90c4dd"/><rect x="370.72" y="86.75" width="6.17" height="6.25" fill="#61a6cd"/><rect x="376.90" y="86.75" width="6.17" height="6.25" fill="#a5cfe3"/><rect x="383.07" y="86.75" width="6.17" height="6.25" fill="#96c7df"/><rect x="389.24" y="86.75" width="6.17" height="6.25" fill="#a5cfe3"/><rect x="395.41" y="86.75" width="6.17" height="6.25" fill="#97c7df"/><rect x="401.58" y="86.75" width="6.17" height="6.25" fill="#92c5de"/><rect x="407.76" y="86.75" width="6.17" height="6.25" fill="#9bcae1"/><rect x="413.93" y="86.75" width="6.17" height="6.25" fill="#90c4dd"/><rect x="420.10" y="86.75" width="6.17" height="6.25" fill="#70afd2"/><rect x="426.27" y="86.75" width="6.17" height="6.25" fill="#91c4de"/><rect x="432.44" y="86.75" width="6.17" height="6.25" fill="#61a6cd"/><rect x="438.62" y="86.75" width="6.17" height="6.25" fill="#9fcbe2"/><rect x="444.79" y="86.75" width="6.17" height="6.25" fill="#83bcd9"/><rect x="450.96" y="86.75" width="6.17" height="6.25" fill="#92c5de"/><rect x="457.13" y="86.75" width="6.17" height="6.25" fill="#97c7df"/><rect x="463.30" y="86.75" width="6.17" height="6.25" fill="#95c7df"/><rect x="469.48" y="86.75" width="6.17" height="6.25" fill="#93c6de"/><rect x="475.65" y="86.75" width="6.17" height="6.25" fill="#88bfdb"/><rect x="481.82" y="86.75" width="6.17" height="6.25" fill="#8ec3dd"/><rect x="487.99" y="86.75" width="6.17" height="6.25" fill="#94c6df"/><rect x="494.16" y="86.75" width="6.17" height="6.25" fill="#97c8df"/><rect x="500.34" y="86.75" width="6.17" height="6.25" fill="#f3eeeb"/></g>
<rect x="508.8" y="30.5" width="4.1" height="31.25" fill="#0d4d8c"/><rect x="508.8" y="61.75" width="4.1" height="31.25" fill="#c8102e"/>
<g font-family="Liberation Sans, Arial, Helvetica, sans-serif" font-size="5.95" fill="#111" stroke="#111" stroke-width="0.15">
<text transform="translate(116.70,27.9) rotate(91.5)" text-anchor="end">Rpl7</text>
<text transform="translate(122.85,27.9) rotate(91.5)" text-anchor="end">Rps15a</text>
<text transform="translate(129.00,27.9) rotate(91.5)" text-anchor="end">Las1l</text>
<text transform="translate(135.15,27.9) rotate(91.5)" text-anchor="end">Rrs1</text>
<text transform="translate(141.30,27.9) rotate(91.5)" text-anchor="end">Rpl32</text>
<text transform="translate(147.45,27.9) rotate(91.5)" text-anchor="end">Rpl13a</text>
<text transform="translate(153.60,27.9) rotate(91.5)" text-anchor="end">Rpl3</text>
<text transform="translate(159.75,27.9) rotate(91.5)" text-anchor="end">Rps11</text>
<text transform="translate(165.90,27.9) rotate(91.5)" text-anchor="end">Rpl10a</text>
<text transform="translate(172.05,27.9) rotate(91.5)" text-anchor="end">Rpl7a</text>
<text transform="translate(178.20,27.9) rotate(91.5)" text-anchor="end">Rpf1</text>
<text transform="translate(184.35,27.9) rotate(91.5)" text-anchor="end">Rps27</text>
<text transform="translate(190.50,27.9) rotate(91.5)" text-anchor="end">Rpl7l1</text>
<text transform="translate(196.65,27.9) rotate(91.5)" text-anchor="end">Rsl1d1</text>
<text transform="translate(202.80,27.9) rotate(91.5)" text-anchor="end">Rplp1</text>
<text transform="translate(208.95,27.9) rotate(91.5)" text-anchor="end">Rpl18a</text>
<text transform="translate(215.10,27.9) rotate(91.5)" text-anchor="end">Mrps30</text>
<text transform="translate(221.25,27.9) rotate(91.5)" text-anchor="end">Rrp1</text>
<text transform="translate(227.40,27.9) rotate(91.5)" text-anchor="end">Rps17</text>
<text transform="translate(233.55,27.9) rotate(91.5)" text-anchor="end">Rps4x</text>
<text transform="translate(239.70,27.9) rotate(91.5)" text-anchor="end">Rps2</text>
<text transform="translate(245.85,27.9) rotate(91.5)" text-anchor="end">Nop53</text>
<text transform="translate(252.00,27.9) rotate(91.5)" text-anchor="end">Rpl38</text>
<text transform="translate(258.15,27.9) rotate(91.5)" text-anchor="end">Rpl36</text>
<text transform="translate(264.30,27.9) rotate(91.5)" text-anchor="end">Rps10</text>
<text transform="translate(270.45,27.9) rotate(91.5)" text-anchor="end">Rpl12</text>
<text transform="translate(276.60,27.9) rotate(91.5)" text-anchor="end">Rpl31</text>
<text transform="translate(282.75,27.9) rotate(91.5)" text-anchor="end">Rpl14</text>
<text transform="translate(288.90,27.9) rotate(91.5)" text-anchor="end">Rpl4</text>
<text transform="translate(295.05,27.9) rotate(91.5)" text-anchor="end">Rpl5</text>
<text transform="translate(301.20,27.9) rotate(91.5)" text-anchor="end">Rpl34</text>
<text transform="translate(307.35,27.9) rotate(91.5)" text-anchor="end">Brix1</text>
<text transform="translate(313.50,27.9) rotate(91.5)" text-anchor="end">Rps3a</text>
<text transform="translate(319.65,27.9) rotate(91.5)" text-anchor="end">Rps7</text>
<text transform="translate(325.80,27.9) rotate(91.5)" text-anchor="end">Rrp7a</text>
<text transform="translate(331.95,27.9) rotate(91.5)" text-anchor="end">Rpl26</text>
<text transform="translate(338.10,27.9) rotate(91.5)" text-anchor="end">Emg1</text>
<text transform="translate(344.25,27.9) rotate(91.5)" text-anchor="end">Rpl10</text>
<text transform="translate(350.40,27.9) rotate(91.5)" text-anchor="end">Rpl17</text>
<text transform="translate(356.55,27.9) rotate(91.5)" text-anchor="end">Rps24</text>
<text transform="translate(362.70,27.9) rotate(91.5)" text-anchor="end">Rpl22l1</text>
<text transform="translate(368.85,27.9) rotate(91.5)" text-anchor="end">Rplp2</text>
<text transform="translate(375.00,27.9) rotate(91.5)" text-anchor="end">Rps5</text>
<text transform="translate(381.15,27.9) rotate(91.5)" text-anchor="end">Rpl11</text>
<text transform="translate(387.30,27.9) rotate(91.5)" text-anchor="end">Mrps9</text>
<text transform="translate(393.45,27.9) rotate(91.5)" text-anchor="end">Rps12</text>
<text transform="translate(399.60,27.9) rotate(91.5)" text-anchor="end">Wdr12</text>
<text transform="translate(405.75,27.9) rotate(91.5)" text-anchor="end">Rps27a</text>
<text transform="translate(411.90,27.9) rotate(91.5)" text-anchor="end">Bop1</text>
<text transform="translate(418.05,27.9) rotate(91.5)" text-anchor="end">Mrpl12</text>
<text transform="translate(424.20,27.9) rotate(91.5)" text-anchor="end">Rpl27</text>
<text transform="translate(430.35,27.9) rotate(91.5)" text-anchor="end">Mrpl23</text>
<text transform="translate(436.50,27.9) rotate(91.5)" text-anchor="end">Rps14</text>
<text transform="translate(442.65,27.9) rotate(91.5)" text-anchor="end">Mrpl22</text>
<text transform="translate(448.80,27.9) rotate(91.5)" text-anchor="end">Rpl36a</text>
<text transform="translate(454.95,27.9) rotate(91.5)" text-anchor="end">Rpl23a</text>
<text transform="translate(461.10,27.9) rotate(91.5)" text-anchor="end">Rps3</text>
<text transform="translate(467.25,27.9) rotate(91.5)" text-anchor="end">Rpl37a</text>
<text transform="translate(473.40,27.9) rotate(91.5)" text-anchor="end">Rps15</text>
<text transform="translate(479.55,27.9) rotate(91.5)" text-anchor="end">Mrps34</text>
<text transform="translate(485.70,27.9) rotate(91.5)" text-anchor="end">Mrpl9</text>
<text transform="translate(491.85,27.9) rotate(91.5)" text-anchor="end">Rrp1b</text>
<text transform="translate(498.00,27.9) rotate(91.5)" text-anchor="end">Rrbp1</text>
<text transform="translate(504.15,27.9) rotate(91.5)" text-anchor="end">Rpl27a</text>
</g>
<g stroke="#8a8f99" stroke-width="0.35" stroke-opacity="0.4"><rect x="8.10" y="334.70" width="5.02" height="5.35" fill="#facbb2"/><rect x="13.12" y="334.70" width="5.02" height="5.35" fill="#facbb2"/><rect x="18.14" y="334.70" width="5.02" height="5.35" fill="#fddbc7"/><rect x="23.16" y="334.70" width="5.02" height="5.35" fill="#fddbc7"/><rect x="28.18" y="334.70" width="5.02" height="5.35" fill="#dbe8ee"/><rect x="33.20" y="334.70" width="5.02" height="5.35" fill="#df755d"/><rect x="38.23" y="334.70" width="5.02" height="5.35" fill="#f4a582"/><rect x="43.25" y="334.70" width="5.02" height="5.35" fill="#f4a582"/><rect x="48.27" y="334.70" width="5.02" height="5.35" fill="#f4a582"/><rect x="53.29" y="334.70" width="5.02" height="5.35" fill="#f4a582"/><rect x="58.31" y="334.70" width="5.02" height="5.35" fill="#eb9072"/><rect x="63.33" y="334.70" width="5.02" height="5.35" fill="#7e0723"/><rect x="68.35" y="334.70" width="5.02" height="5.35" fill="#9b1127"/><rect x="73.37" y="334.70" width="5.02" height="5.35" fill="#7e0723"/><rect x="78.39" y="334.70" width="5.02" height="5.35" fill="#d6604d"/><rect x="83.41" y="334.70" width="5.02" height="5.35" fill="#d6604d"/><rect x="88.44" y="334.70" width="5.02" height="5.35" fill="#b2182b"/><rect x="93.46" y="334.70" width="5.02" height="5.35" fill="#b2182b"/><rect x="98.48" y="334.70" width="5.02" height="5.35" fill="#b2182b"/><rect x="103.50" y="334.70" width="5.02" height="5.35" fill="#b2182b"/><rect x="108.52" y="334.70" width="5.02" height="5.35" fill="#cb4a43"/><rect x="113.54" y="334.70" width="5.02" height="5.35" fill="#cb4a43"/><rect x="118.56" y="334.70" width="5.02" height="5.35" fill="#b2182b"/><rect x="123.58" y="334.70" width="5.02" height="5.35" fill="#cb4a43"/><rect x="128.60" y="334.70" width="5.02" height="5.35" fill="#9b1127"/><rect x="133.62" y="334.70" width="5.02" height="5.35" fill="#d6604d"/><rect x="138.65" y="334.70" width="5.02" height="5.35" fill="#df755d"/><rect x="143.67" y="334.70" width="5.02" height="5.35" fill="#eb9072"/><rect x="148.69" y="334.70" width="5.02" height="5.35" fill="#df755d"/><rect x="153.71" y="334.70" width="5.02" height="5.35" fill="#fddbc7"/><rect x="158.73" y="334.70" width="5.02" height="5.35" fill="#fae1d2"/><rect x="163.75" y="334.70" width="5.02" height="5.35" fill="#fae1d2"/><rect x="168.77" y="334.70" width="5.02" height="5.35" fill="#fddbc7"/><rect x="173.79" y="334.70" width="5.02" height="5.35" fill="#f3eeeb"/><rect x="178.81" y="334.70" width="5.02" height="5.35" fill="#fddbc7"/><rect x="183.83" y="334.70" width="5.02" height="5.35" fill="#fddbc7"/><rect x="188.86" y="334.70" width="5.02" height="5.35" fill="#fddbc7"/><rect x="193.88" y="334.70" width="5.02" height="5.35" fill="#fddbc7"/><rect x="198.90" y="334.70" width="5.02" height="5.35" fill="#f4a582"/><rect x="203.92" y="334.70" width="5.02" height="5.35" fill="#f4a582"/><rect x="208.94" y="334.70" width="5.02" height="5.35" fill="#f4a582"/><rect x="213.96" y="334.70" width="5.02" height="5.35" fill="#70afd2"/><rect x="218.98" y="334.70" width="5.02" height="5.35" fill="#95c6df"/><rect x="224.00" y="334.70" width="5.02" height="5.35" fill="#d6604d"/><rect x="229.02" y="334.70" width="5.02" height="5.35" fill="#d6604d"/><rect x="234.04" y="334.70" width="5.02" height="5.35" fill="#eb9072"/><rect x="239.07" y="334.70" width="5.02" height="5.35" fill="#fddbc7"/><rect x="244.09" y="334.70" width="5.02" height="5.35" fill="#d6604d"/><rect x="249.11" y="334.70" width="5.02" height="5.35" fill="#eb9072"/><rect x="254.13" y="334.70" width="5.02" height="5.35" fill="#eb9072"/><rect x="259.15" y="334.70" width="5.02" height="5.35" fill="#d6604d"/><rect x="264.17" y="334.70" width="5.02" height="5.35" fill="#b2182b"/><rect x="269.19" y="334.70" width="5.02" height="5.35" fill="#b2182b"/><rect x="274.21" y="334.70" width="5.02" height="5.35" fill="#d6604d"/><rect x="279.23" y="334.70" width="5.02" height="5.35" fill="#fddbc7"/><rect x="284.25" y="334.70" width="5.02" height="5.35" fill="#fddbc7"/><rect x="289.28" y="334.70" width="5.02" height="5.35" fill="#d6604d"/><rect x="294.30" y="334.70" width="5.02" height="5.35" fill="#df755d"/><rect x="299.32" y="334.70" width="5.02" height="5.35" fill="#f4a582"/><rect x="304.34" y="334.70" width="5.02" height="5.35" fill="#b2182b"/><rect x="309.36" y="334.70" width="5.02" height="5.35" fill="#cb4a43"/><rect x="314.38" y="334.70" width="5.02" height="5.35" fill="#b2182b"/><rect x="319.40" y="334.70" width="5.02" height="5.35" fill="#b2182b"/><rect x="324.42" y="334.70" width="5.02" height="5.35" fill="#cb4a43"/><rect x="329.44" y="334.70" width="5.02" height="5.35" fill="#cb4a43"/><rect x="334.47" y="334.70" width="5.02" height="5.35" fill="#d6604d"/><rect x="339.49" y="334.70" width="5.02" height="5.35" fill="#d6604d"/><rect x="344.51" y="334.70" width="5.02" height="5.35" fill="#df755d"/><rect x="349.53" y="334.70" width="5.02" height="5.35" fill="#d6604d"/><rect x="354.55" y="334.70" width="5.02" height="5.35" fill="#d6604d"/><rect x="359.57" y="334.70" width="5.02" height="5.35" fill="#df755d"/><rect x="364.59" y="334.70" width="5.02" height="5.35" fill="#eb9072"/><rect x="369.61" y="334.70" width="5.02" height="5.35" fill="#cb4a43"/><rect x="374.63" y="334.70" width="5.02" height="5.35" fill="#cb4a43"/><rect x="379.65" y="334.70" width="5.02" height="5.35" fill="#d6604d"/><rect x="384.68" y="334.70" width="5.02" height="5.35" fill="#f4a582"/><rect x="389.70" y="334.70" width="5.02" height="5.35" fill="#f4a582"/><rect x="394.72" y="334.70" width="5.02" height="5.35" fill="#f7b597"/><rect x="399.74" y="334.70" width="5.02" height="5.35" fill="#f7b597"/><rect x="404.76" y="334.70" width="5.02" height="5.35" fill="#f7b597"/><rect x="409.78" y="334.70" width="5.02" height="5.35" fill="#f7b597"/><rect x="414.80" y="334.70" width="5.02" height="5.35" fill="#f7b597"/><rect x="419.82" y="334.70" width="5.02" height="5.35" fill="#f4a582"/><rect x="424.84" y="334.70" width="5.02" height="5.35" fill="#f4a582"/><rect x="429.86" y="334.70" width="5.02" height="5.35" fill="#fddbc7"/><rect x="434.88" y="334.70" width="5.02" height="5.35" fill="#facbb2"/><rect x="439.91" y="334.70" width="5.02" height="5.35" fill="#fddbc7"/><rect x="444.93" y="334.70" width="5.02" height="5.35" fill="#f6e8e0"/><rect x="449.95" y="334.70" width="5.02" height="5.35" fill="#fae1d2"/><rect x="454.97" y="334.70" width="5.02" height="5.35" fill="#eb9072"/><rect x="459.99" y="334.70" width="5.02" height="5.35" fill="#df755d"/><rect x="465.01" y="334.70" width="5.02" height="5.35" fill="#f4a582"/><rect x="470.03" y="334.70" width="5.02" height="5.35" fill="#b2182b"/><rect x="475.05" y="334.70" width="5.02" height="5.35" fill="#a5cfe3"/><rect x="480.07" y="334.70" width="5.02" height="5.35" fill="#f6e8e0"/><rect x="485.10" y="334.70" width="5.02" height="5.35" fill="#fddbc7"/><rect x="490.12" y="334.70" width="5.02" height="5.35" fill="#facbb2"/><rect x="495.14" y="334.70" width="5.02" height="5.35" fill="#f3eeeb"/><rect x="500.16" y="334.70" width="5.02" height="5.35" fill="#fddbc7"/><rect x="8.10" y="340.05" width="5.02" height="5.35" fill="#67001f"/><rect x="13.12" y="340.05" width="5.02" height="5.35" fill="#9b1127"/><rect x="18.14" y="340.05" width="5.02" height="5.35" fill="#9b1127"/><rect x="23.16" y="340.05" width="5.02" height="5.35" fill="#7e0723"/><rect x="28.18" y="340.05" width="5.02" height="5.35" fill="#67001f"/><rect x="33.20" y="340.05" width="5.02" height="5.35" fill="#7e0723"/><rect x="38.23" y="340.05" width="5.02" height="5.35" fill="#9b1127"/><rect x="43.25" y="340.05" width="5.02" height="5.35" fill="#9b1127"/><rect x="48.27" y="340.05" width="5.02" height="5.35" fill="#b2182b"/><rect x="53.29" y="340.05" width="5.02" height="5.35" fill="#b2182b"/><rect x="58.31" y="340.05" width="5.02" height="5.35" fill="#cb4a43"/><rect x="63.33" y="340.05" width="5.02" height="5.35" fill="#d6604d"/><rect x="68.35" y="340.05" width="5.02" height="5.35" fill="#eb9072"/><rect x="73.37" y="340.05" width="5.02" height="5.35" fill="#fddbc7"/><rect x="78.39" y="340.05" width="5.02" height="5.35" fill="#cb4a43"/><rect x="83.41" y="340.05" width="5.02" height="5.35" fill="#eb9072"/><rect x="88.44" y="340.05" width="5.02" height="5.35" fill="#f4a582"/><rect x="93.46" y="340.05" width="5.02" height="5.35" fill="#df755d"/><rect x="98.48" y="340.05" width="5.02" height="5.35" fill="#f4a582"/><rect x="103.50" y="340.05" width="5.02" height="5.35" fill="#f4a582"/><rect x="108.52" y="340.05" width="5.02" height="5.35" fill="#d6604d"/><rect x="113.54" y="340.05" width="5.02" height="5.35" fill="#eb9072"/><rect x="118.56" y="340.05" width="5.02" height="5.35" fill="#df755d"/><rect x="123.58" y="340.05" width="5.02" height="5.35" fill="#eb9072"/><rect x="128.60" y="340.05" width="5.02" height="5.35" fill="#d6604d"/><rect x="133.62" y="340.05" width="5.02" height="5.35" fill="#facbb2"/><rect x="138.65" y="340.05" width="5.02" height="5.35" fill="#f4a582"/><rect x="143.67" y="340.05" width="5.02" height="5.35" fill="#dbe8ee"/><rect x="148.69" y="340.05" width="5.02" height="5.35" fill="#f4a582"/><rect x="153.71" y="340.05" width="5.02" height="5.35" fill="#f3eeeb"/><rect x="158.73" y="340.05" width="5.02" height="5.35" fill="#facbb2"/><rect x="163.75" y="340.05" width="5.02" height="5.35" fill="#facbb2"/><rect x="168.77" y="340.05" width="5.02" height="5.35" fill="#cb4a43"/><rect x="173.79" y="340.05" width="5.02" height="5.35" fill="#fddbc7"/><rect x="178.81" y="340.05" width="5.02" height="5.35" fill="#eb9072"/><rect x="183.83" y="340.05" width="5.02" height="5.35" fill="#df755d"/><rect x="188.86" y="340.05" width="5.02" height="5.35" fill="#d6604d"/><rect x="193.88" y="340.05" width="5.02" height="5.35" fill="#cb4a43"/><rect x="198.90" y="340.05" width="5.02" height="5.35" fill="#f4a582"/><rect x="203.92" y="340.05" width="5.02" height="5.35" fill="#eb9072"/><rect x="208.94" y="340.05" width="5.02" height="5.35" fill="#b2182b"/><rect x="213.96" y="340.05" width="5.02" height="5.35" fill="#a5cfe3"/><rect x="218.98" y="340.05" width="5.02" height="5.35" fill="#97c7df"/><rect x="224.00" y="340.05" width="5.02" height="5.35" fill="#d6604d"/><rect x="229.02" y="340.05" width="5.02" height="5.35" fill="#d6604d"/><rect x="234.04" y="340.05" width="5.02" height="5.35" fill="#df755d"/><rect x="239.07" y="340.05" width="5.02" height="5.35" fill="#df755d"/><rect x="244.09" y="340.05" width="5.02" height="5.35" fill="#fddbc7"/><rect x="249.11" y="340.05" width="5.02" height="5.35" fill="#fddbc7"/><rect x="254.13" y="340.05" width="5.02" height="5.35" fill="#eb9072"/><rect x="259.15" y="340.05" width="5.02" height="5.35" fill="#eb9072"/><rect x="264.17" y="340.05" width="5.02" height="5.35" fill="#d1e5f0"/><rect x="269.19" y="340.05" width="5.02" height="5.35" fill="#dbe8ee"/><rect x="274.21" y="340.05" width="5.02" height="5.35" fill="#f3eeeb"/><rect x="279.23" y="340.05" width="5.02" height="5.35" fill="#df755d"/><rect x="284.25" y="340.05" width="5.02" height="5.35" fill="#fddbc7"/><rect x="289.28" y="340.05" width="5.02" height="5.35" fill="#f4a582"/><rect x="294.30" y="340.05" width="5.02" height="5.35" fill="#d6604d"/><rect x="299.32" y="340.05" width="5.02" height="5.35" fill="#9b1127"/><rect x="304.34" y="340.05" width="5.02" height="5.35" fill="#df755d"/><rect x="309.36" y="340.05" width="5.02" height="5.35" fill="#eb9072"/><rect x="314.38" y="340.05" width="5.02" height="5.35" fill="#cb4a43"/><rect x="319.40" y="340.05" width="5.02" height="5.35" fill="#f4a582"/><rect x="324.42" y="340.05" width="5.02" height="5.35" fill="#eb9072"/><rect x="329.44" y="340.05" width="5.02" height="5.35" fill="#f4a582"/><rect x="334.47" y="340.05" width="5.02" height="5.35" fill="#cb4a43"/><rect x="339.49" y="340.05" width="5.02" height="5.35" fill="#df755d"/><rect x="344.51" y="340.05" width="5.02" height="5.35" fill="#f4a582"/><rect x="349.53" y="340.05" width="5.02" height="5.35" fill="#eb9072"/><rect x="354.55" y="340.05" width="5.02" height="5.35" fill="#f4a582"/><rect x="359.57" y="340.05" width="5.02" height="5.35" fill="#eb9072"/><rect x="364.59" y="340.05" width="5.02" height="5.35" fill="#facbb2"/><rect x="369.61" y="340.05" width="5.02" height="5.35" fill="#f4a582"/><rect x="374.63" y="340.05" width="5.02" height="5.35" fill="#eb9072"/><rect x="379.65" y="340.05" width="5.02" height="5.35" fill="#f7b597"/><rect x="384.68" y="340.05" width="5.02" height="5.35" fill="#facbb2"/><rect x="389.70" y="340.05" width="5.02" height="5.35" fill="#dbe8ee"/><rect x="394.72" y="340.05" width="5.02" height="5.35" fill="#facbb2"/><rect x="399.74" y="340.05" width="5.02" height="5.35" fill="#facbb2"/><rect x="404.76" y="340.05" width="5.02" height="5.35" fill="#dbe8ee"/><rect x="409.78" y="340.05" width="5.02" height="5.35" fill="#fddbc7"/><rect x="414.80" y="340.05" width="5.02" height="5.35" fill="#fddbc7"/><rect x="419.82" y="340.05" width="5.02" height="5.35" fill="#9bcae1"/><rect x="424.84" y="340.05" width="5.02" height="5.35" fill="#f6e8e0"/><rect x="429.86" y="340.05" width="5.02" height="5.35" fill="#facbb2"/><rect x="434.88" y="340.05" width="5.02" height="5.35" fill="#facbb2"/><rect x="439.91" y="340.05" width="5.02" height="5.35" fill="#d1e5f0"/><rect x="444.93" y="340.05" width="5.02" height="5.35" fill="#fddbc7"/><rect x="449.95" y="340.05" width="5.02" height="5.35" fill="#f4a582"/><rect x="454.97" y="340.05" width="5.02" height="5.35" fill="#df755d"/><rect x="459.99" y="340.05" width="5.02" height="5.35" fill="#eb9072"/><rect x="465.01" y="340.05" width="5.02" height="5.35" fill="#df755d"/><rect x="470.03" y="340.05" width="5.02" height="5.35" fill="#fddbc7"/><rect x="475.05" y="340.05" width="5.02" height="5.35" fill="#d6604d"/><rect x="480.07" y="340.05" width="5.02" height="5.35" fill="#d6604d"/><rect x="485.10" y="340.05" width="5.02" height="5.35" fill="#df755d"/><rect x="490.12" y="340.05" width="5.02" height="5.35" fill="#eb9072"/><rect x="495.14" y="340.05" width="5.02" height="5.35" fill="#eb9072"/><rect x="500.16" y="340.05" width="5.02" height="5.35" fill="#eb9072"/><rect x="8.10" y="345.40" width="5.02" height="5.35" fill="#df755d"/><rect x="13.12" y="345.40" width="5.02" height="5.35" fill="#df755d"/><rect x="18.14" y="345.40" width="5.02" height="5.35" fill="#cb4a43"/><rect x="23.16" y="345.40" width="5.02" height="5.35" fill="#df755d"/><rect x="28.18" y="345.40" width="5.02" height="5.35" fill="#f7b597"/><rect x="33.20" y="345.40" width="5.02" height="5.35" fill="#f6e8e0"/><rect x="38.23" y="345.40" width="5.02" height="5.35" fill="#f7b597"/><rect x="43.25" y="345.40" width="5.02" height="5.35" fill="#fddbc7"/><rect x="48.27" y="345.40" width="5.02" height="5.35" fill="#f4a582"/><rect x="53.29" y="345.40" width="5.02" height="5.35" fill="#f4a582"/><rect x="58.31" y="345.40" width="5.02" height="5.35" fill="#eb9072"/><rect x="63.33" y="345.40" width="5.02" height="5.35" fill="#fddbc7"/><rect x="68.35" y="345.40" width="5.02" height="5.35" fill="#f4a582"/><rect x="73.37" y="345.40" width="5.02" height="5.35" fill="#f7b597"/><rect x="78.39" y="345.40" width="5.02" height="5.35" fill="#df755d"/><rect x="83.41" y="345.40" width="5.02" height="5.35" fill="#cb4a43"/><rect x="88.44" y="345.40" width="5.02" height="5.35" fill="#df755d"/><rect x="93.46" y="345.40" width="5.02" height="5.35" fill="#f4a582"/><rect x="98.48" y="345.40" width="5.02" height="5.35" fill="#eb9072"/><rect x="103.50" y="345.40" width="5.02" height="5.35" fill="#df755d"/><rect x="108.52" y="345.40" width="5.02" height="5.35" fill="#facbb2"/><rect x="113.54" y="345.40" width="5.02" height="5.35" fill="#d6604d"/><rect x="118.56" y="345.40" width="5.02" height="5.35" fill="#facbb2"/><rect x="123.58" y="345.40" width="5.02" height="5.35" fill="#fddbc7"/><rect x="128.60" y="345.40" width="5.02" height="5.35" fill="#d1e5f0"/><rect x="133.62" y="345.40" width="5.02" height="5.35" fill="#f7b597"/><rect x="138.65" y="345.40" width="5.02" height="5.35" fill="#f4a582"/><rect x="143.67" y="345.40" width="5.02" height="5.35" fill="#d6604d"/><rect x="148.69" y="345.40" width="5.02" height="5.35" fill="#f4a582"/><rect x="153.71" y="345.40" width="5.02" height="5.35" fill="#df755d"/><rect x="158.73" y="345.40" width="5.02" height="5.35" fill="#eb9072"/><rect x="163.75" y="345.40" width="5.02" height="5.35" fill="#f3eeeb"/><rect x="168.77" y="345.40" width="5.02" height="5.35" fill="#fddbc7"/><rect x="173.79" y="345.40" width="5.02" height="5.35" fill="#facbb2"/><rect x="178.81" y="345.40" width="5.02" height="5.35" fill="#d6604d"/><rect x="183.83" y="345.40" width="5.02" height="5.35" fill="#d6604d"/><rect x="188.86" y="345.40" width="5.02" height="5.35" fill="#fddbc7"/><rect x="193.88" y="345.40" width="5.02" height="5.35" fill="#eb9072"/><rect x="198.90" y="345.40" width="5.02" height="5.35" fill="#b2182b"/><rect x="203.92" y="345.40" width="5.02" height="5.35" fill="#cb4a43"/><rect x="208.94" y="345.40" width="5.02" height="5.35" fill="#df755d"/><rect x="213.96" y="345.40" width="5.02" height="5.35" fill="#d1e5f0"/><rect x="218.98" y="345.40" width="5.02" height="5.35" fill="#9ac9e0"/><rect x="224.00" y="345.40" width="5.02" height="5.35" fill="#d6604d"/><rect x="229.02" y="345.40" width="5.02" height="5.35" fill="#d6604d"/><rect x="234.04" y="345.40" width="5.02" height="5.35" fill="#d6604d"/><rect x="239.07" y="345.40" width="5.02" height="5.35" fill="#d6604d"/><rect x="244.09" y="345.40" width="5.02" height="5.35" fill="#cb4a43"/><rect x="249.11" y="345.40" width="5.02" height="5.35" fill="#cb4a43"/><rect x="254.13" y="345.40" width="5.02" height="5.35" fill="#cb4a43"/><rect x="259.15" y="345.40" width="5.02" height="5.35" fill="#d6604d"/><rect x="264.17" y="345.40" width="5.02" height="5.35" fill="#d6604d"/><rect x="269.19" y="345.40" width="5.02" height="5.35" fill="#df755d"/><rect x="274.21" y="345.40" width="5.02" height="5.35" fill="#eb9072"/><rect x="279.23" y="345.40" width="5.02" height="5.35" fill="#d6604d"/><rect x="284.25" y="345.40" width="5.02" height="5.35" fill="#9b1127"/><rect x="289.28" y="345.40" width="5.02" height="5.35" fill="#fddbc7"/><rect x="294.30" y="345.40" width="5.02" height="5.35" fill="#f4a582"/><rect x="299.32" y="345.40" width="5.02" height="5.35" fill="#f6e8e0"/><rect x="304.34" y="345.40" width="5.02" height="5.35" fill="#facbb2"/><rect x="309.36" y="345.40" width="5.02" height="5.35" fill="#f4a582"/><rect x="314.38" y="345.40" width="5.02" height="5.35" fill="#eb9072"/><rect x="319.40" y="345.40" width="5.02" height="5.35" fill="#f4a582"/><rect x="324.42" y="345.40" width="5.02" height="5.35" fill="#fddbc7"/><rect x="329.44" y="345.40" width="5.02" height="5.35" fill="#fddbc7"/><rect x="334.47" y="345.40" width="5.02" height="5.35" fill="#fddbc7"/><rect x="339.49" y="345.40" width="5.02" height="5.35" fill="#f4a582"/><rect x="344.51" y="345.40" width="5.02" height="5.35" fill="#eb9072"/><rect x="349.53" y="345.40" width="5.02" height="5.35" fill="#eb9072"/><rect x="354.55" y="345.40" width="5.02" height="5.35" fill="#eb9072"/><rect x="359.57" y="345.40" width="5.02" height="5.35" fill="#facbb2"/><rect x="364.59" y="345.40" width="5.02" height="5.35" fill="#eb9072"/><rect x="369.61" y="345.40" width="5.02" height="5.35" fill="#eb9072"/><rect x="374.63" y="345.40" width="5.02" height="5.35" fill="#f4a582"/><rect x="379.65" y="345.40" width="5.02" height="5.35" fill="#fddbc7"/><rect x="384.68" y="345.40" width="5.02" height="5.35" fill="#f4a582"/><rect x="389.70" y="345.40" width="5.02" height="5.35" fill="#f7b597"/><rect x="394.72" y="345.40" width="5.02" height="5.35" fill="#f7b597"/><rect x="399.74" y="345.40" width="5.02" height="5.35" fill="#f7b597"/><rect x="404.76" y="345.40" width="5.02" height="5.35" fill="#facbb2"/><rect x="409.78" y="345.40" width="5.02" height="5.35" fill="#dbe8ee"/><rect x="414.80" y="345.40" width="5.02" height="5.35" fill="#f3eeeb"/><rect x="419.82" y="345.40" width="5.02" height="5.35" fill="#f4a582"/><rect x="424.84" y="345.40" width="5.02" height="5.35" fill="#f7b597"/><rect x="429.86" y="345.40" width="5.02" height="5.35" fill="#facbb2"/><rect x="434.88" y="345.40" width="5.02" height="5.35" fill="#f7b597"/><rect x="439.91" y="345.40" width="5.02" height="5.35" fill="#b2182b"/><rect x="444.93" y="345.40" width="5.02" height="5.35" fill="#bd2e35"/><rect x="449.95" y="345.40" width="5.02" height="5.35" fill="#f7b597"/><rect x="454.97" y="345.40" width="5.02" height="5.35" fill="#dbe8ee"/><rect x="459.99" y="345.40" width="5.02" height="5.35" fill="#dbe8ee"/><rect x="465.01" y="345.40" width="5.02" height="5.35" fill="#dbe8ee"/><rect x="470.03" y="345.40" width="5.02" height="5.35" fill="#a5cfe3"/><rect x="475.05" y="345.40" width="5.02" height="5.35" fill="#df755d"/><rect x="480.07" y="345.40" width="5.02" height="5.35" fill="#f4a582"/><rect x="485.10" y="345.40" width="5.02" height="5.35" fill="#eb9072"/><rect x="490.12" y="345.40" width="5.02" height="5.35" fill="#eb9072"/><rect x="495.14" y="345.40" width="5.02" height="5.35" fill="#df755d"/><rect x="500.16" y="345.40" width="5.02" height="5.35" fill="#df755d"/><rect x="8.10" y="350.75" width="5.02" height="5.35" fill="#fddbc7"/><rect x="13.12" y="350.75" width="5.02" height="5.35" fill="#f4a582"/><rect x="18.14" y="350.75" width="5.02" height="5.35" fill="#f6e8e0"/><rect x="23.16" y="350.75" width="5.02" height="5.35" fill="#f3eeeb"/><rect x="28.18" y="350.75" width="5.02" height="5.35" fill="#f4a582"/><rect x="33.20" y="350.75" width="5.02" height="5.35" fill="#fddbc7"/><rect x="38.23" y="350.75" width="5.02" height="5.35" fill="#facbb2"/><rect x="43.25" y="350.75" width="5.02" height="5.35" fill="#eb9072"/><rect x="48.27" y="350.75" width="5.02" height="5.35" fill="#f4a582"/><rect x="53.29" y="350.75" width="5.02" height="5.35" fill="#f4a582"/><rect x="58.31" y="350.75" width="5.02" height="5.35" fill="#eb9072"/><rect x="63.33" y="350.75" width="5.02" height="5.35" fill="#fddbc7"/><rect x="68.35" y="350.75" width="5.02" height="5.35" fill="#facbb2"/><rect x="73.37" y="350.75" width="5.02" height="5.35" fill="#facbb2"/><rect x="78.39" y="350.75" width="5.02" height="5.35" fill="#fddbc7"/><rect x="83.41" y="350.75" width="5.02" height="5.35" fill="#f6e8e0"/><rect x="88.44" y="350.75" width="5.02" height="5.35" fill="#f3eeeb"/><rect x="93.46" y="350.75" width="5.02" height="5.35" fill="#f7b597"/><rect x="98.48" y="350.75" width="5.02" height="5.35" fill="#f4a582"/><rect x="103.50" y="350.75" width="5.02" height="5.35" fill="#f4a582"/><rect x="108.52" y="350.75" width="5.02" height="5.35" fill="#fddbc7"/><rect x="113.54" y="350.75" width="5.02" height="5.35" fill="#fddbc7"/><rect x="118.56" y="350.75" width="5.02" height="5.35" fill="#d6604d"/><rect x="123.58" y="350.75" width="5.02" height="5.35" fill="#cb4a43"/><rect x="128.60" y="350.75" width="5.02" height="5.35" fill="#eb9072"/><rect x="133.62" y="350.75" width="5.02" height="5.35" fill="#9b1127"/><rect x="138.65" y="350.75" width="5.02" height="5.35" fill="#b2182b"/><rect x="143.67" y="350.75" width="5.02" height="5.35" fill="#9b1127"/><rect x="148.69" y="350.75" width="5.02" height="5.35" fill="#b2182b"/><rect x="153.71" y="350.75" width="5.02" height="5.35" fill="#67001f"/><rect x="158.73" y="350.75" width="5.02" height="5.35" fill="#9b1127"/><rect x="163.75" y="350.75" width="5.02" height="5.35" fill="#67001f"/><rect x="168.77" y="350.75" width="5.02" height="5.35" fill="#b2182b"/><rect x="173.79" y="350.75" width="5.02" height="5.35" fill="#b2182b"/><rect x="178.81" y="350.75" width="5.02" height="5.35" fill="#cb4a43"/><rect x="183.83" y="350.75" width="5.02" height="5.35" fill="#d6604d"/><rect x="188.86" y="350.75" width="5.02" height="5.35" fill="#9b1127"/><rect x="193.88" y="350.75" width="5.02" height="5.35" fill="#eb9072"/><rect x="198.90" y="350.75" width="5.02" height="5.35" fill="#facbb2"/><rect x="203.92" y="350.75" width="5.02" height="5.35" fill="#d6604d"/><rect x="208.94" y="350.75" width="5.02" height="5.35" fill="#d6604d"/><rect x="213.96" y="350.75" width="5.02" height="5.35" fill="#a5cfe3"/><rect x="218.98" y="350.75" width="5.02" height="5.35" fill="#a5cfe3"/><rect x="224.00" y="350.75" width="5.02" height="5.35" fill="#eb9072"/><rect x="229.02" y="350.75" width="5.02" height="5.35" fill="#eb9072"/><rect x="234.04" y="350.75" width="5.02" height="5.35" fill="#f4a582"/><rect x="239.07" y="350.75" width="5.02" height="5.35" fill="#fddbc7"/><rect x="244.09" y="350.75" width="5.02" height="5.35" fill="#f6e8e0"/><rect x="249.11" y="350.75" width="5.02" height="5.35" fill="#f7b597"/><rect x="254.13" y="350.75" width="5.02" height="5.35" fill="#facbb2"/><rect x="259.15" y="350.75" width="5.02" height="5.35" fill="#fddbc7"/><rect x="264.17" y="350.75" width="5.02" height="5.35" fill="#f4a582"/><rect x="269.19" y="350.75" width="5.02" height="5.35" fill="#fddbc7"/><rect x="274.21" y="350.75" width="5.02" height="5.35" fill="#eb9072"/><rect x="279.23" y="350.75" width="5.02" height="5.35" fill="#eb9072"/><rect x="284.25" y="350.75" width="5.02" height="5.35" fill="#f4a582"/><rect x="289.28" y="350.75" width="5.02" height="5.35" fill="#f4a582"/><rect x="294.30" y="350.75" width="5.02" height="5.35" fill="#f4a582"/><rect x="299.32" y="350.75" width="5.02" height="5.35" fill="#fddbc7"/><rect x="304.34" y="350.75" width="5.02" height="5.35" fill="#facbb2"/><rect x="309.36" y="350.75" width="5.02" height="5.35" fill="#facbb2"/><rect x="314.38" y="350.75" width="5.02" height="5.35" fill="#d1e5f0"/><rect x="319.40" y="350.75" width="5.02" height="5.35" fill="#eb9072"/><rect x="324.42" y="350.75" width="5.02" height="5.35" fill="#eb9072"/><rect x="329.44" y="350.75" width="5.02" height="5.35" fill="#eb9072"/><rect x="334.47" y="350.75" width="5.02" height="5.35" fill="#f4a582"/><rect x="339.49" y="350.75" width="5.02" height="5.35" fill="#f4a582"/><rect x="344.51" y="350.75" width="5.02" height="5.35" fill="#eb9072"/><rect x="349.53" y="350.75" width="5.02" height="5.35" fill="#f4a582"/><rect x="354.55" y="350.75" width="5.02" height="5.35" fill="#f4a582"/><rect x="359.57" y="350.75" width="5.02" height="5.35" fill="#f4a582"/><rect x="364.59" y="350.75" width="5.02" height="5.35" fill="#fddbc7"/><rect x="369.61" y="350.75" width="5.02" height="5.35" fill="#facbb2"/><rect x="374.63" y="350.75" width="5.02" height="5.35" fill="#f4a582"/><rect x="379.65" y="350.75" width="5.02" height="5.35" fill="#f7b597"/><rect x="384.68" y="350.75" width="5.02" height="5.35" fill="#facbb2"/><rect x="389.70" y="350.75" width="5.02" height="5.35" fill="#facbb2"/><rect x="394.72" y="350.75" width="5.02" height="5.35" fill="#f7b597"/><rect x="399.74" y="350.75" width="5.02" height="5.35" fill="#facbb2"/><rect x="404.76" y="350.75" width="5.02" height="5.35" fill="#f3eeeb"/><rect x="409.78" y="350.75" width="5.02" height="5.35" fill="#f7b597"/><rect x="414.80" y="350.75" width="5.02" height="5.35" fill="#f4a582"/><rect x="419.82" y="350.75" width="5.02" height="5.35" fill="#df755d"/><rect x="424.84" y="350.75" width="5.02" height="5.35" fill="#df755d"/><rect x="429.86" y="350.75" width="5.02" height="5.35" fill="#eb9072"/><rect x="434.88" y="350.75" width="5.02" height="5.35" fill="#df755d"/><rect x="439.91" y="350.75" width="5.02" height="5.35" fill="#f6e8e0"/><rect x="444.93" y="350.75" width="5.02" height="5.35" fill="#f7b597"/><rect x="449.95" y="350.75" width="5.02" height="5.35" fill="#f4a582"/><rect x="454.97" y="350.75" width="5.02" height="5.35" fill="#f3eeeb"/><rect x="459.99" y="350.75" width="5.02" height="5.35" fill="#dbe8ee"/><rect x="465.01" y="350.75" width="5.02" height="5.35" fill="#fddbc7"/><rect x="470.03" y="350.75" width="5.02" height="5.35" fill="#fddbc7"/><rect x="475.05" y="350.75" width="5.02" height="5.35" fill="#fddbc7"/><rect x="480.07" y="350.75" width="5.02" height="5.35" fill="#f6e8e0"/><rect x="485.10" y="350.75" width="5.02" height="5.35" fill="#f4a582"/><rect x="490.12" y="350.75" width="5.02" height="5.35" fill="#eb9072"/><rect x="495.14" y="350.75" width="5.02" height="5.35" fill="#eb9072"/><rect x="500.16" y="350.75" width="5.02" height="5.35" fill="#f3eeeb"/><rect x="8.10" y="356.10" width="5.02" height="5.35" fill="#a5cfe3"/><rect x="13.12" y="356.10" width="5.02" height="5.35" fill="#a5cfe3"/><rect x="18.14" y="356.10" width="5.02" height="5.35" fill="#a5cfe3"/><rect x="23.16" y="356.10" width="5.02" height="5.35" fill="#fddbc7"/><rect x="28.18" y="356.10" width="5.02" height="5.35" fill="#d1e5f0"/><rect x="33.20" y="356.10" width="5.02" height="5.35" fill="#d1e5f0"/><rect x="38.23" y="356.10" width="5.02" height="5.35" fill="#a5cfe3"/><rect x="43.25" y="356.10" width="5.02" height="5.35" fill="#d1e5f0"/><rect x="48.27" y="356.10" width="5.02" height="5.35" fill="#d1e5f0"/><rect x="53.29" y="356.10" width="5.02" height="5.35" fill="#fae1d2"/><rect x="58.31" y="356.10" width="5.02" height="5.35" fill="#f3eeeb"/><rect x="63.33" y="356.10" width="5.02" height="5.35" fill="#d1e5f0"/><rect x="68.35" y="356.10" width="5.02" height="5.35" fill="#fae1d2"/><rect x="73.37" y="356.10" width="5.02" height="5.35" fill="#dbe8ee"/><rect x="78.39" y="356.10" width="5.02" height="5.35" fill="#f3eeeb"/><rect x="83.41" y="356.10" width="5.02" height="5.35" fill="#dbe8ee"/><rect x="88.44" y="356.10" width="5.02" height="5.35" fill="#f3eeeb"/><rect x="93.46" y="356.10" width="5.02" height="5.35" fill="#a5cfe3"/><rect x="98.48" y="356.10" width="5.02" height="5.35" fill="#dbe8ee"/><rect x="103.50" y="356.10" width="5.02" height="5.35" fill="#a5cfe3"/><rect x="108.52" y="356.10" width="5.02" height="5.35" fill="#97c7df"/><rect x="113.54" y="356.10" width="5.02" height="5.35" fill="#9ac9e0"/><rect x="118.56" y="356.10" width="5.02" height="5.35" fill="#93c6de"/><rect x="123.58" y="356.10" width="5.02" height="5.35" fill="#a5cfe3"/><rect x="128.60" y="356.10" width="5.02" height="5.35" fill="#91c5de"/><rect x="133.62" y="356.10" width="5.02" height="5.35" fill="#dbe8ee"/><rect x="138.65" y="356.10" width="5.02" height="5.35" fill="#dbe8ee"/><rect x="143.67" y="356.10" width="5.02" height="5.35" fill="#9ccae1"/><rect x="148.69" y="356.10" width="5.02" height="5.35" fill="#a5cfe3"/><rect x="153.71" y="356.10" width="5.02" height="5.35" fill="#fae1d2"/><rect x="158.73" y="356.10" width="5.02" height="5.35" fill="#dbe8ee"/><rect x="163.75" y="356.10" width="5.02" height="5.35" fill="#f7b597"/><rect x="168.77" y="356.10" width="5.02" height="5.35" fill="#facbb2"/><rect x="173.79" y="356.10" width="5.02" height="5.35" fill="#f4a582"/><rect x="178.81" y="356.10" width="5.02" height="5.35" fill="#d1e5f0"/><rect x="183.83" y="356.10" width="5.02" height="5.35" fill="#dbe8ee"/><rect x="188.86" y="356.10" width="5.02" height="5.35" fill="#a5cfe3"/><rect x="193.88" y="356.10" width="5.02" height="5.35" fill="#9ccae1"/><rect x="198.90" y="356.10" width="5.02" height="5.35" fill="#90c4dd"/><rect x="203.92" y="356.10" width="5.02" height="5.35" fill="#9bcae1"/><rect x="208.94" y="356.10" width="5.02" height="5.35" fill="#91c4de"/><rect x="213.96" y="356.10" width="5.02" height="5.35" fill="#61a6cd"/><rect x="218.98" y="356.10" width="5.02" height="5.35" fill="#d1e5f0"/><rect x="224.00" y="356.10" width="5.02" height="5.35" fill="#f6e8e0"/><rect x="229.02" y="356.10" width="5.02" height="5.35" fill="#fddbc7"/><rect x="234.04" y="356.10" width="5.02" height="5.35" fill="#fddbc7"/><rect x="239.07" y="356.10" width="5.02" height="5.35" fill="#f7b597"/><rect x="244.09" y="356.10" width="5.02" height="5.35" fill="#d6604d"/><rect x="249.11" y="356.10" width="5.02" height="5.35" fill="#eb9072"/><rect x="254.13" y="356.10" width="5.02" height="5.35" fill="#eb9072"/><rect x="259.15" y="356.10" width="5.02" height="5.35" fill="#f4a582"/><rect x="264.17" y="356.10" width="5.02" height="5.35" fill="#f4a582"/><rect x="269.19" y="356.10" width="5.02" height="5.35" fill="#f4a582"/><rect x="274.21" y="356.10" width="5.02" height="5.35" fill="#facbb2"/><rect x="279.23" y="356.10" width="5.02" height="5.35" fill="#f4a582"/><rect x="284.25" y="356.10" width="5.02" height="5.35" fill="#facbb2"/><rect x="289.28" y="356.10" width="5.02" height="5.35" fill="#f4a582"/><rect x="294.30" y="356.10" width="5.02" height="5.35" fill="#f4a582"/><rect x="299.32" y="356.10" width="5.02" height="5.35" fill="#eb9072"/><rect x="304.34" y="356.10" width="5.02" height="5.35" fill="#f4a582"/><rect x="309.36" y="356.10" width="5.02" height="5.35" fill="#eb9072"/><rect x="314.38" y="356.10" width="5.02" height="5.35" fill="#eb9072"/><rect x="319.40" y="356.10" width="5.02" height="5.35" fill="#eb9072"/><rect x="324.42" y="356.10" width="5.02" height="5.35" fill="#eb9072"/><rect x="329.44" y="356.10" width="5.02" height="5.35" fill="#f4a582"/><rect x="334.47" y="356.10" width="5.02" height="5.35" fill="#eb9072"/><rect x="339.49" y="356.10" width="5.02" height="5.35" fill="#eb9072"/><rect x="344.51" y="356.10" width="5.02" height="5.35" fill="#df755d"/><rect x="349.53" y="356.10" width="5.02" height="5.35" fill="#d6604d"/><rect x="354.55" y="356.10" width="5.02" height="5.35" fill="#bd2e35"/><rect x="359.57" y="356.10" width="5.02" height="5.35" fill="#cb4a43"/><rect x="364.59" y="356.10" width="5.02" height="5.35" fill="#b2182b"/><rect x="369.61" y="356.10" width="5.02" height="5.35" fill="#b2182b"/><rect x="374.63" y="356.10" width="5.02" height="5.35" fill="#cb4a43"/><rect x="379.65" y="356.10" width="5.02" height="5.35" fill="#cb4a43"/><rect x="384.68" y="356.10" width="5.02" height="5.35" fill="#9b1127"/><rect x="389.70" y="356.10" width="5.02" height="5.35" fill="#9b1127"/><rect x="394.72" y="356.10" width="5.02" height="5.35" fill="#7e0723"/><rect x="399.74" y="356.10" width="5.02" height="5.35" fill="#7e0723"/><rect x="404.76" y="356.10" width="5.02" height="5.35" fill="#67001f"/><rect x="409.78" y="356.10" width="5.02" height="5.35" fill="#67001f"/><rect x="414.80" y="356.10" width="5.02" height="5.35" fill="#7e0723"/><rect x="419.82" y="356.10" width="5.02" height="5.35" fill="#b2182b"/><rect x="424.84" y="356.10" width="5.02" height="5.35" fill="#cb4a43"/><rect x="429.86" y="356.10" width="5.02" height="5.35" fill="#b2182b"/><rect x="434.88" y="356.10" width="5.02" height="5.35" fill="#cb4a43"/><rect x="439.91" y="356.10" width="5.02" height="5.35" fill="#b2182b"/><rect x="444.93" y="356.10" width="5.02" height="5.35" fill="#b2182b"/><rect x="449.95" y="356.10" width="5.02" height="5.35" fill="#9b1127"/><rect x="454.97" y="356.10" width="5.02" height="5.35" fill="#8c0c25"/><rect x="459.99" y="356.10" width="5.02" height="5.35" fill="#9b1127"/><rect x="465.01" y="356.10" width="5.02" height="5.35" fill="#9b1127"/><rect x="470.03" y="356.10" width="5.02" height="5.35" fill="#b2182b"/><rect x="475.05" y="356.10" width="5.02" height="5.35" fill="#bd2e35"/><rect x="480.07" y="356.10" width="5.02" height="5.35" fill="#bd2e35"/><rect x="485.10" y="356.10" width="5.02" height="5.35" fill="#d6604d"/><rect x="490.12" y="356.10" width="5.02" height="5.35" fill="#d6604d"/><rect x="495.14" y="356.10" width="5.02" height="5.35" fill="#d6604d"/><rect x="500.16" y="356.10" width="5.02" height="5.35" fill="#b2182b"/><rect x="8.10" y="361.45" width="5.02" height="5.35" fill="#a0cce2"/><rect x="13.12" y="361.45" width="5.02" height="5.35" fill="#8ec3dd"/><rect x="18.14" y="361.45" width="5.02" height="5.35" fill="#8ec3dd"/><rect x="23.16" y="361.45" width="5.02" height="5.35" fill="#97c7df"/><rect x="28.18" y="361.45" width="5.02" height="5.35" fill="#70afd2"/><rect x="33.20" y="361.45" width="5.02" height="5.35" fill="#94c6df"/><rect x="38.23" y="361.45" width="5.02" height="5.35" fill="#f6e8e0"/><rect x="43.25" y="361.45" width="5.02" height="5.35" fill="#98c8e0"/><rect x="48.27" y="361.45" width="5.02" height="5.35" fill="#98c8e0"/><rect x="53.29" y="361.45" width="5.02" height="5.35" fill="#8ac0db"/><rect x="58.31" y="361.45" width="5.02" height="5.35" fill="#8bc0dc"/><rect x="63.33" y="361.45" width="5.02" height="5.35" fill="#8ac0db"/><rect x="68.35" y="361.45" width="5.02" height="5.35" fill="#9dcae1"/><rect x="73.37" y="361.45" width="5.02" height="5.35" fill="#fae1d2"/><rect x="78.39" y="361.45" width="5.02" height="5.35" fill="#99c9e0"/><rect x="83.41" y="361.45" width="5.02" height="5.35" fill="#9ccae1"/><rect x="88.44" y="361.45" width="5.02" height="5.35" fill="#83bcd9"/><rect x="93.46" y="361.45" width="5.02" height="5.35" fill="#9ccae1"/><rect x="98.48" y="361.45" width="5.02" height="5.35" fill="#8ec3dd"/><rect x="103.50" y="361.45" width="5.02" height="5.35" fill="#88bfdb"/><rect x="108.52" y="361.45" width="5.02" height="5.35" fill="#4191c2"/><rect x="113.54" y="361.45" width="5.02" height="5.35" fill="#8bc1dc"/><rect x="118.56" y="361.45" width="5.02" height="5.35" fill="#9ccae1"/><rect x="123.58" y="361.45" width="5.02" height="5.35" fill="#89bfdb"/><rect x="128.60" y="361.45" width="5.02" height="5.35" fill="#90c4dd"/><rect x="133.62" y="361.45" width="5.02" height="5.35" fill="#93c5de"/><rect x="138.65" y="361.45" width="5.02" height="5.35" fill="#90c3dd"/><rect x="143.67" y="361.45" width="5.02" height="5.35" fill="#8bc0dc"/><rect x="148.69" y="361.45" width="5.02" height="5.35" fill="#4191c2"/><rect x="153.71" y="361.45" width="5.02" height="5.35" fill="#95c6df"/><rect x="158.73" y="361.45" width="5.02" height="5.35" fill="#61a6cd"/><rect x="163.75" y="361.45" width="5.02" height="5.35" fill="#89bfdb"/><rect x="168.77" y="361.45" width="5.02" height="5.35" fill="#99c9e0"/><rect x="173.79" y="361.45" width="5.02" height="5.35" fill="#70afd2"/><rect x="178.81" y="361.45" width="5.02" height="5.35" fill="#8ec2dd"/><rect x="183.83" y="361.45" width="5.02" height="5.35" fill="#70afd2"/><rect x="188.86" y="361.45" width="5.02" height="5.35" fill="#96c7df"/><rect x="193.88" y="361.45" width="5.02" height="5.35" fill="#70afd2"/><rect x="198.90" y="361.45" width="5.02" height="5.35" fill="#8cc1dc"/><rect x="203.92" y="361.45" width="5.02" height="5.35" fill="#9bc9e0"/><rect x="208.94" y="361.45" width="5.02" height="5.35" fill="#96c7df"/><rect x="213.96" y="361.45" width="5.02" height="5.35" fill="#f4a582"/><rect x="218.98" y="361.45" width="5.02" height="5.35" fill="#fddbc7"/><rect x="224.00" y="361.45" width="5.02" height="5.35" fill="#98c8e0"/><rect x="229.02" y="361.45" width="5.02" height="5.35" fill="#92c5de"/><rect x="234.04" y="361.45" width="5.02" height="5.35" fill="#91c4de"/><rect x="239.07" y="361.45" width="5.02" height="5.35" fill="#8cc1dc"/><rect x="244.09" y="361.45" width="5.02" height="5.35" fill="#a0cce2"/><rect x="249.11" y="361.45" width="5.02" height="5.35" fill="#91c4de"/><rect x="254.13" y="361.45" width="5.02" height="5.35" fill="#95c7df"/><rect x="259.15" y="361.45" width="5.02" height="5.35" fill="#90c4dd"/><rect x="264.17" y="361.45" width="5.02" height="5.35" fill="#8ec2dd"/><rect x="269.19" y="361.45" width="5.02" height="5.35" fill="#89bfdb"/><rect x="274.21" y="361.45" width="5.02" height="5.35" fill="#70afd2"/><rect x="279.23" y="361.45" width="5.02" height="5.35" fill="#95c7df"/><rect x="284.25" y="361.45" width="5.02" height="5.35" fill="#98c8e0"/><rect x="289.28" y="361.45" width="5.02" height="5.35" fill="#a5cfe3"/><rect x="294.30" y="361.45" width="5.02" height="5.35" fill="#8dc2dc"/><rect x="299.32" y="361.45" width="5.02" height="5.35" fill="#94c6df"/><rect x="304.34" y="361.45" width="5.02" height="5.35" fill="#a2cde3"/><rect x="309.36" y="361.45" width="5.02" height="5.35" fill="#96c7df"/><rect x="314.38" y="361.45" width="5.02" height="5.35" fill="#92c5de"/><rect x="319.40" y="361.45" width="5.02" height="5.35" fill="#90c4dd"/><rect x="324.42" y="361.45" width="5.02" height="5.35" fill="#99c8e0"/><rect x="329.44" y="361.45" width="5.02" height="5.35" fill="#a5cfe3"/><rect x="334.47" y="361.45" width="5.02" height="5.35" fill="#85bdd9"/><rect x="339.49" y="361.45" width="5.02" height="5.35" fill="#9dcae1"/><rect x="344.51" y="361.45" width="5.02" height="5.35" fill="#91c4de"/><rect x="349.53" y="361.45" width="5.02" height="5.35" fill="#9ecbe1"/><rect x="354.55" y="361.45" width="5.02" height="5.35" fill="#89bfdb"/><rect x="359.57" y="361.45" width="5.02" height="5.35" fill="#a1cde2"/><rect x="364.59" y="361.45" width="5.02" height="5.35" fill="#9dcae1"/><rect x="369.61" y="361.45" width="5.02" height="5.35" fill="#8ec2dd"/><rect x="374.63" y="361.45" width="5.02" height="5.35" fill="#a5cfe3"/><rect x="379.65" y="361.45" width="5.02" height="5.35" fill="#a0cce2"/><rect x="384.68" y="361.45" width="5.02" height="5.35" fill="#8ac0db"/><rect x="389.70" y="361.45" width="5.02" height="5.35" fill="#91c4de"/><rect x="394.72" y="361.45" width="5.02" height="5.35" fill="#86beda"/><rect x="399.74" y="361.45" width="5.02" height="5.35" fill="#8cc1dc"/><rect x="404.76" y="361.45" width="5.02" height="5.35" fill="#9ccae1"/><rect x="409.78" y="361.45" width="5.02" height="5.35" fill="#99c9e0"/><rect x="414.80" y="361.45" width="5.02" height="5.35" fill="#8cc1dc"/><rect x="419.82" y="361.45" width="5.02" height="5.35" fill="#91c4de"/><rect x="424.84" y="361.45" width="5.02" height="5.35" fill="#97c7df"/><rect x="429.86" y="361.45" width="5.02" height="5.35" fill="#97c8df"/><rect x="434.88" y="361.45" width="5.02" height="5.35" fill="#8cc1dc"/><rect x="439.91" y="361.45" width="5.02" height="5.35" fill="#94c6de"/><rect x="444.93" y="361.45" width="5.02" height="5.35" fill="#8cc1dc"/><rect x="449.95" y="361.45" width="5.02" height="5.35" fill="#fddbc7"/><rect x="454.97" y="361.45" width="5.02" height="5.35" fill="#8dc2dc"/><rect x="459.99" y="361.45" width="5.02" height="5.35" fill="#87beda"/><rect x="465.01" y="361.45" width="5.02" height="5.35" fill="#98c8e0"/><rect x="470.03" y="361.45" width="5.02" height="5.35" fill="#89bfdb"/><rect x="475.05" y="361.45" width="5.02" height="5.35" fill="#9ac9e0"/><rect x="480.07" y="361.45" width="5.02" height="5.35" fill="#f3eeeb"/><rect x="485.10" y="361.45" width="5.02" height="5.35" fill="#99c9e0"/><rect x="490.12" y="361.45" width="5.02" height="5.35" fill="#94c6de"/><rect x="495.14" y="361.45" width="5.02" height="5.35" fill="#94c6de"/><rect x="500.16" y="361.45" width="5.02" height="5.35" fill="#91c4de"/><rect x="8.10" y="366.80" width="5.02" height="5.35" fill="#9bcae1"/><rect x="13.12" y="366.80" width="5.02" height="5.35" fill="#87beda"/><rect x="18.14" y="366.80" width="5.02" height="5.35" fill="#97c8e0"/><rect x="23.16" y="366.80" width="5.02" height="5.35" fill="#85bdda"/><rect x="28.18" y="366.80" width="5.02" height="5.35" fill="#83bcd9"/><rect x="33.20" y="366.80" width="5.02" height="5.35" fill="#97c8df"/><rect x="38.23" y="366.80" width="5.02" height="5.35" fill="#d1e5f0"/><rect x="43.25" y="366.80" width="5.02" height="5.35" fill="#8dc2dc"/><rect x="48.27" y="366.80" width="5.02" height="5.35" fill="#9dcae1"/><rect x="53.29" y="366.80" width="5.02" height="5.35" fill="#8ec3dd"/><rect x="58.31" y="366.80" width="5.02" height="5.35" fill="#97c8df"/><rect x="63.33" y="366.80" width="5.02" height="5.35" fill="#95c7df"/><rect x="68.35" y="366.80" width="5.02" height="5.35" fill="#86bdda"/><rect x="73.37" y="366.80" width="5.02" height="5.35" fill="#a5cfe3"/><rect x="78.39" y="366.80" width="5.02" height="5.35" fill="#8fc3dd"/><rect x="83.41" y="366.80" width="5.02" height="5.35" fill="#96c7df"/><rect x="88.44" y="366.80" width="5.02" height="5.35" fill="#dbe8ee"/><rect x="93.46" y="366.80" width="5.02" height="5.35" fill="#a6cfe4"/><rect x="98.48" y="366.80" width="5.02" height="5.35" fill="#88bfdb"/><rect x="103.50" y="366.80" width="5.02" height="5.35" fill="#70afd2"/><rect x="108.52" y="366.80" width="5.02" height="5.35" fill="#d1e5f0"/><rect x="113.54" y="366.80" width="5.02" height="5.35" fill="#93c6de"/><rect x="118.56" y="366.80" width="5.02" height="5.35" fill="#9dcbe1"/><rect x="123.58" y="366.80" width="5.02" height="5.35" fill="#89c0db"/><rect x="128.60" y="366.80" width="5.02" height="5.35" fill="#8bc0dc"/><rect x="133.62" y="366.80" width="5.02" height="5.35" fill="#91c5de"/><rect x="138.65" y="366.80" width="5.02" height="5.35" fill="#8ac0db"/><rect x="143.67" y="366.80" width="5.02" height="5.35" fill="#92c5de"/><rect x="148.69" y="366.80" width="5.02" height="5.35" fill="#fddbc7"/><rect x="153.71" y="366.80" width="5.02" height="5.35" fill="#9bc9e0"/><rect x="158.73" y="366.80" width="5.02" height="5.35" fill="#dbe8ee"/><rect x="163.75" y="366.80" width="5.02" height="5.35" fill="#98c8e0"/><rect x="168.77" y="366.80" width="5.02" height="5.35" fill="#a1cce2"/><rect x="173.79" y="366.80" width="5.02" height="5.35" fill="#61a6cd"/><rect x="178.81" y="366.80" width="5.02" height="5.35" fill="#8ec3dd"/><rect x="183.83" y="366.80" width="5.02" height="5.35" fill="#92c5de"/><rect x="188.86" y="366.80" width="5.02" height="5.35" fill="#8ac0db"/><rect x="193.88" y="366.80" width="5.02" height="5.35" fill="#70afd2"/><rect x="198.90" y="366.80" width="5.02" height="5.35" fill="#99c9e0"/><rect x="203.92" y="366.80" width="5.02" height="5.35" fill="#8ec2dd"/><rect x="208.94" y="366.80" width="5.02" height="5.35" fill="#84bcd9"/><rect x="213.96" y="366.80" width="5.02" height="5.35" fill="#dbe8ee"/><rect x="218.98" y="366.80" width="5.02" height="5.35" fill="#f4a582"/><rect x="224.00" y="366.80" width="5.02" height="5.35" fill="#90c3dd"/><rect x="229.02" y="366.80" width="5.02" height="5.35" fill="#94c6df"/><rect x="234.04" y="366.80" width="5.02" height="5.35" fill="#93c6de"/><rect x="239.07" y="366.80" width="5.02" height="5.35" fill="#3b88bd"/><rect x="244.09" y="366.80" width="5.02" height="5.35" fill="#93c5de"/><rect x="249.11" y="366.80" width="5.02" height="5.35" fill="#89bfdb"/><rect x="254.13" y="366.80" width="5.02" height="5.35" fill="#88bfdb"/><rect x="259.15" y="366.80" width="5.02" height="5.35" fill="#9ecbe1"/><rect x="264.17" y="366.80" width="5.02" height="5.35" fill="#95c7df"/><rect x="269.19" y="366.80" width="5.02" height="5.35" fill="#85bdd9"/><rect x="274.21" y="366.80" width="5.02" height="5.35" fill="#9dcbe1"/><rect x="279.23" y="366.80" width="5.02" height="5.35" fill="#8dc2dc"/><rect x="284.25" y="366.80" width="5.02" height="5.35" fill="#86bdda"/><rect x="289.28" y="366.80" width="5.02" height="5.35" fill="#a5cfe3"/><rect x="294.30" y="366.80" width="5.02" height="5.35" fill="#70afd2"/><rect x="299.32" y="366.80" width="5.02" height="5.35" fill="#70afd2"/><rect x="304.34" y="366.80" width="5.02" height="5.35" fill="#95c7df"/><rect x="309.36" y="366.80" width="5.02" height="5.35" fill="#a5cfe4"/><rect x="314.38" y="366.80" width="5.02" height="5.35" fill="#89bfdb"/><rect x="319.40" y="366.80" width="5.02" height="5.35" fill="#98c8e0"/><rect x="324.42" y="366.80" width="5.02" height="5.35" fill="#99c9e0"/><rect x="329.44" y="366.80" width="5.02" height="5.35" fill="#70afd2"/><rect x="334.47" y="366.80" width="5.02" height="5.35" fill="#9ecbe2"/><rect x="339.49" y="366.80" width="5.02" height="5.35" fill="#9dcbe1"/><rect x="344.51" y="366.80" width="5.02" height="5.35" fill="#a0cce2"/><rect x="349.53" y="366.80" width="5.02" height="5.35" fill="#87beda"/><rect x="354.55" y="366.80" width="5.02" height="5.35" fill="#96c7df"/><rect x="359.57" y="366.80" width="5.02" height="5.35" fill="#9ecbe1"/><rect x="364.59" y="366.80" width="5.02" height="5.35" fill="#8cc1dc"/><rect x="369.61" y="366.80" width="5.02" height="5.35" fill="#83bbd9"/><rect x="374.63" y="366.80" width="5.02" height="5.35" fill="#8dc2dc"/><rect x="379.65" y="366.80" width="5.02" height="5.35" fill="#8cc1dc"/><rect x="384.68" y="366.80" width="5.02" height="5.35" fill="#93c6de"/><rect x="389.70" y="366.80" width="5.02" height="5.35" fill="#94c6de"/><rect x="394.72" y="366.80" width="5.02" height="5.35" fill="#87beda"/><rect x="399.74" y="366.80" width="5.02" height="5.35" fill="#84bcd9"/><rect x="404.76" y="366.80" width="5.02" height="5.35" fill="#92c5de"/><rect x="409.78" y="366.80" width="5.02" height="5.35" fill="#9ac9e0"/><rect x="414.80" y="366.80" width="5.02" height="5.35" fill="#92c5de"/><rect x="419.82" y="366.80" width="5.02" height="5.35" fill="#96c7df"/><rect x="424.84" y="366.80" width="5.02" height="5.35" fill="#94c6df"/><rect x="429.86" y="366.80" width="5.02" height="5.35" fill="#99c8e0"/><rect x="434.88" y="366.80" width="5.02" height="5.35" fill="#70afd2"/><rect x="439.91" y="366.80" width="5.02" height="5.35" fill="#a0cce2"/><rect x="444.93" y="366.80" width="5.02" height="5.35" fill="#8ec3dd"/><rect x="449.95" y="366.80" width="5.02" height="5.35" fill="#3b88bd"/><rect x="454.97" y="366.80" width="5.02" height="5.35" fill="#96c7df"/><rect x="459.99" y="366.80" width="5.02" height="5.35" fill="#91c4de"/><rect x="465.01" y="366.80" width="5.02" height="5.35" fill="#83bcd9"/><rect x="470.03" y="366.80" width="5.02" height="5.35" fill="#8ac0db"/><rect x="475.05" y="366.80" width="5.02" height="5.35" fill="#98c8e0"/><rect x="480.07" y="366.80" width="5.02" height="5.35" fill="#8bc1dc"/><rect x="485.10" y="366.80" width="5.02" height="5.35" fill="#98c8e0"/><rect x="490.12" y="366.80" width="5.02" height="5.35" fill="#a5cfe3"/><rect x="495.14" y="366.80" width="5.02" height="5.35" fill="#9fcbe2"/><rect x="500.16" y="366.80" width="5.02" height="5.35" fill="#98c8e0"/><rect x="8.10" y="372.15" width="5.02" height="5.35" fill="#9dcbe1"/><rect x="13.12" y="372.15" width="5.02" height="5.35" fill="#92c5de"/><rect x="18.14" y="372.15" width="5.02" height="5.35" fill="#96c7df"/><rect x="23.16" y="372.15" width="5.02" height="5.35" fill="#99c8e0"/><rect x="28.18" y="372.15" width="5.02" height="5.35" fill="#fddbc7"/><rect x="33.20" y="372.15" width="5.02" height="5.35" fill="#91c5de"/><rect x="38.23" y="372.15" width="5.02" height="5.35" fill="#61a6cd"/><rect x="43.25" y="372.15" width="5.02" height="5.35" fill="#99c9e0"/><rect x="48.27" y="372.15" width="5.02" height="5.35" fill="#85bdda"/><rect x="53.29" y="372.15" width="5.02" height="5.35" fill="#93c6de"/><rect x="58.31" y="372.15" width="5.02" height="5.35" fill="#8dc2dc"/><rect x="63.33" y="372.15" width="5.02" height="5.35" fill="#95c7df"/><rect x="68.35" y="372.15" width="5.02" height="5.35" fill="#dbe8ee"/><rect x="73.37" y="372.15" width="5.02" height="5.35" fill="#4191c2"/><rect x="78.39" y="372.15" width="5.02" height="5.35" fill="#88beda"/><rect x="83.41" y="372.15" width="5.02" height="5.35" fill="#8ec3dd"/><rect x="88.44" y="372.15" width="5.02" height="5.35" fill="#83bcd9"/><rect x="93.46" y="372.15" width="5.02" height="5.35" fill="#8bc1dc"/><rect x="98.48" y="372.15" width="5.02" height="5.35" fill="#88bfdb"/><rect x="103.50" y="372.15" width="5.02" height="5.35" fill="#88bfdb"/><rect x="108.52" y="372.15" width="5.02" height="5.35" fill="#fddbc7"/><rect x="113.54" y="372.15" width="5.02" height="5.35" fill="#9dcbe1"/><rect x="118.56" y="372.15" width="5.02" height="5.35" fill="#8dc2dc"/><rect x="123.58" y="372.15" width="5.02" height="5.35" fill="#9dcbe1"/><rect x="128.60" y="372.15" width="5.02" height="5.35" fill="#95c7df"/><rect x="133.62" y="372.15" width="5.02" height="5.35" fill="#98c8e0"/><rect x="138.65" y="372.15" width="5.02" height="5.35" fill="#93c5de"/><rect x="143.67" y="372.15" width="5.02" height="5.35" fill="#92c5de"/><rect x="148.69" y="372.15" width="5.02" height="5.35" fill="#9dcae1"/><rect x="153.71" y="372.15" width="5.02" height="5.35" fill="#8fc3dd"/><rect x="158.73" y="372.15" width="5.02" height="5.35" fill="#70afd2"/><rect x="163.75" y="372.15" width="5.02" height="5.35" fill="#8bc1dc"/><rect x="168.77" y="372.15" width="5.02" height="5.35" fill="#8bc0dc"/><rect x="173.79" y="372.15" width="5.02" height="5.35" fill="#61a6cd"/><rect x="178.81" y="372.15" width="5.02" height="5.35" fill="#8ac0db"/><rect x="183.83" y="372.15" width="5.02" height="5.35" fill="#92c5de"/><rect x="188.86" y="372.15" width="5.02" height="5.35" fill="#98c8e0"/><rect x="193.88" y="372.15" width="5.02" height="5.35" fill="#70afd2"/><rect x="198.90" y="372.15" width="5.02" height="5.35" fill="#92c5de"/><rect x="203.92" y="372.15" width="5.02" height="5.35" fill="#95c6df"/><rect x="208.94" y="372.15" width="5.02" height="5.35" fill="#8dc2dc"/><rect x="213.96" y="372.15" width="5.02" height="5.35" fill="#f4a582"/><rect x="218.98" y="372.15" width="5.02" height="5.35" fill="#f3eeeb"/><rect x="224.00" y="372.15" width="5.02" height="5.35" fill="#8bc0db"/><rect x="229.02" y="372.15" width="5.02" height="5.35" fill="#a0cce2"/><rect x="234.04" y="372.15" width="5.02" height="5.35" fill="#96c7df"/><rect x="239.07" y="372.15" width="5.02" height="5.35" fill="#70afd2"/><rect x="244.09" y="372.15" width="5.02" height="5.35" fill="#8fc3dd"/><rect x="249.11" y="372.15" width="5.02" height="5.35" fill="#a4cee3"/><rect x="254.13" y="372.15" width="5.02" height="5.35" fill="#99c8e0"/><rect x="259.15" y="372.15" width="5.02" height="5.35" fill="#9fcce2"/><rect x="264.17" y="372.15" width="5.02" height="5.35" fill="#8fc3dd"/><rect x="269.19" y="372.15" width="5.02" height="5.35" fill="#9ac9e0"/><rect x="274.21" y="372.15" width="5.02" height="5.35" fill="#70afd2"/><rect x="279.23" y="372.15" width="5.02" height="5.35" fill="#91c4de"/><rect x="284.25" y="372.15" width="5.02" height="5.35" fill="#88bfdb"/><rect x="289.28" y="372.15" width="5.02" height="5.35" fill="#4191c2"/><rect x="294.30" y="372.15" width="5.02" height="5.35" fill="#a5cfe3"/><rect x="299.32" y="372.15" width="5.02" height="5.35" fill="#8fc3dd"/><rect x="304.34" y="372.15" width="5.02" height="5.35" fill="#8ac0db"/><rect x="309.36" y="372.15" width="5.02" height="5.35" fill="#8cc1dc"/><rect x="314.38" y="372.15" width="5.02" height="5.35" fill="#93c5de"/><rect x="319.40" y="372.15" width="5.02" height="5.35" fill="#97c8df"/><rect x="324.42" y="372.15" width="5.02" height="5.35" fill="#a5cfe3"/><rect x="329.44" y="372.15" width="5.02" height="5.35" fill="#70afd2"/><rect x="334.47" y="372.15" width="5.02" height="5.35" fill="#8cc1dc"/><rect x="339.49" y="372.15" width="5.02" height="5.35" fill="#89bfdb"/><rect x="344.51" y="372.15" width="5.02" height="5.35" fill="#96c7df"/><rect x="349.53" y="372.15" width="5.02" height="5.35" fill="#92c5de"/><rect x="354.55" y="372.15" width="5.02" height="5.35" fill="#a4cee3"/><rect x="359.57" y="372.15" width="5.02" height="5.35" fill="#9ccae1"/><rect x="364.59" y="372.15" width="5.02" height="5.35" fill="#8cc1dc"/><rect x="369.61" y="372.15" width="5.02" height="5.35" fill="#8fc3dd"/><rect x="374.63" y="372.15" width="5.02" height="5.35" fill="#8dc2dc"/><rect x="379.65" y="372.15" width="5.02" height="5.35" fill="#91c5de"/><rect x="384.68" y="372.15" width="5.02" height="5.35" fill="#9ac9e0"/><rect x="389.70" y="372.15" width="5.02" height="5.35" fill="#96c7df"/><rect x="394.72" y="372.15" width="5.02" height="5.35" fill="#9fcce2"/><rect x="399.74" y="372.15" width="5.02" height="5.35" fill="#86bdda"/><rect x="404.76" y="372.15" width="5.02" height="5.35" fill="#8fc3dd"/><rect x="409.78" y="372.15" width="5.02" height="5.35" fill="#9ac9e0"/><rect x="414.80" y="372.15" width="5.02" height="5.35" fill="#9dcbe1"/><rect x="419.82" y="372.15" width="5.02" height="5.35" fill="#98c8e0"/><rect x="424.84" y="372.15" width="5.02" height="5.35" fill="#70afd2"/><rect x="429.86" y="372.15" width="5.02" height="5.35" fill="#9dcbe1"/><rect x="434.88" y="372.15" width="5.02" height="5.35" fill="#87beda"/><rect x="439.91" y="372.15" width="5.02" height="5.35" fill="#9fcce2"/><rect x="444.93" y="372.15" width="5.02" height="5.35" fill="#8cc1dc"/><rect x="449.95" y="372.15" width="5.02" height="5.35" fill="#61a6cd"/><rect x="454.97" y="372.15" width="5.02" height="5.35" fill="#8fc3dd"/><rect x="459.99" y="372.15" width="5.02" height="5.35" fill="#90c4dd"/><rect x="465.01" y="372.15" width="5.02" height="5.35" fill="#8cc1dc"/><rect x="470.03" y="372.15" width="5.02" height="5.35" fill="#92c5de"/><rect x="475.05" y="372.15" width="5.02" height="5.35" fill="#96c7df"/><rect x="480.07" y="372.15" width="5.02" height="5.35" fill="#70afd2"/><rect x="485.10" y="372.15" width="5.02" height="5.35" fill="#88bfdb"/><rect x="490.12" y="372.15" width="5.02" height="5.35" fill="#8ac0db"/><rect x="495.14" y="372.15" width="5.02" height="5.35" fill="#9dcae1"/><rect x="500.16" y="372.15" width="5.02" height="5.35" fill="#8ac0db"/><rect x="8.10" y="377.50" width="5.02" height="5.35" fill="#8ac0db"/><rect x="13.12" y="377.50" width="5.02" height="5.35" fill="#8cc1dc"/><rect x="18.14" y="377.50" width="5.02" height="5.35" fill="#9ac9e0"/><rect x="23.16" y="377.50" width="5.02" height="5.35" fill="#9fcce2"/><rect x="28.18" y="377.50" width="5.02" height="5.35" fill="#70afd2"/><rect x="33.20" y="377.50" width="5.02" height="5.35" fill="#a5cfe3"/><rect x="38.23" y="377.50" width="5.02" height="5.35" fill="#70afd2"/><rect x="43.25" y="377.50" width="5.02" height="5.35" fill="#99c9e0"/><rect x="48.27" y="377.50" width="5.02" height="5.35" fill="#8fc3dd"/><rect x="53.29" y="377.50" width="5.02" height="5.35" fill="#9bc9e0"/><rect x="58.31" y="377.50" width="5.02" height="5.35" fill="#91c4de"/><rect x="63.33" y="377.50" width="5.02" height="5.35" fill="#93c6de"/><rect x="68.35" y="377.50" width="5.02" height="5.35" fill="#9fcbe2"/><rect x="73.37" y="377.50" width="5.02" height="5.35" fill="#a5cfe3"/><rect x="78.39" y="377.50" width="5.02" height="5.35" fill="#98c8e0"/><rect x="83.41" y="377.50" width="5.02" height="5.35" fill="#9ac9e0"/><rect x="88.44" y="377.50" width="5.02" height="5.35" fill="#d1e5f0"/><rect x="93.46" y="377.50" width="5.02" height="5.35" fill="#9bcae1"/><rect x="98.48" y="377.50" width="5.02" height="5.35" fill="#9ccae1"/><rect x="103.50" y="377.50" width="5.02" height="5.35" fill="#93c5de"/><rect x="108.52" y="377.50" width="5.02" height="5.35" fill="#61a6cd"/><rect x="113.54" y="377.50" width="5.02" height="5.35" fill="#4191c2"/><rect x="118.56" y="377.50" width="5.02" height="5.35" fill="#92c5de"/><rect x="123.58" y="377.50" width="5.02" height="5.35" fill="#98c8e0"/><rect x="128.60" y="377.50" width="5.02" height="5.35" fill="#98c8e0"/><rect x="133.62" y="377.50" width="5.02" height="5.35" fill="#85bdda"/><rect x="138.65" y="377.50" width="5.02" height="5.35" fill="#92c5de"/><rect x="143.67" y="377.50" width="5.02" height="5.35" fill="#93c5de"/><rect x="148.69" y="377.50" width="5.02" height="5.35" fill="#9fcce2"/><rect x="153.71" y="377.50" width="5.02" height="5.35" fill="#8ec2dd"/><rect x="158.73" y="377.50" width="5.02" height="5.35" fill="#a4cee3"/><rect x="163.75" y="377.50" width="5.02" height="5.35" fill="#97c8df"/><rect x="168.77" y="377.50" width="5.02" height="5.35" fill="#95c6df"/><rect x="173.79" y="377.50" width="5.02" height="5.35" fill="#83bcd9"/><rect x="178.81" y="377.50" width="5.02" height="5.35" fill="#91c4de"/><rect x="183.83" y="377.50" width="5.02" height="5.35" fill="#d1e5f0"/><rect x="188.86" y="377.50" width="5.02" height="5.35" fill="#8fc3dd"/><rect x="193.88" y="377.50" width="5.02" height="5.35" fill="#dbe8ee"/><rect x="198.90" y="377.50" width="5.02" height="5.35" fill="#8dc2dc"/><rect x="203.92" y="377.50" width="5.02" height="5.35" fill="#84bcd9"/><rect x="208.94" y="377.50" width="5.02" height="5.35" fill="#9ac9e0"/><rect x="213.96" y="377.50" width="5.02" height="5.35" fill="#f4a582"/><rect x="218.98" y="377.50" width="5.02" height="5.35" fill="#cb4a43"/><rect x="224.00" y="377.50" width="5.02" height="5.35" fill="#8ec2dc"/><rect x="229.02" y="377.50" width="5.02" height="5.35" fill="#a5cfe3"/><rect x="234.04" y="377.50" width="5.02" height="5.35" fill="#8fc3dd"/><rect x="239.07" y="377.50" width="5.02" height="5.35" fill="#94c6df"/><rect x="244.09" y="377.50" width="5.02" height="5.35" fill="#83bcd9"/><rect x="249.11" y="377.50" width="5.02" height="5.35" fill="#8ac0db"/><rect x="254.13" y="377.50" width="5.02" height="5.35" fill="#91c4de"/><rect x="259.15" y="377.50" width="5.02" height="5.35" fill="#a3cee3"/><rect x="264.17" y="377.50" width="5.02" height="5.35" fill="#95c6df"/><rect x="269.19" y="377.50" width="5.02" height="5.35" fill="#a2cde3"/><rect x="274.21" y="377.50" width="5.02" height="5.35" fill="#a5cfe3"/><rect x="279.23" y="377.50" width="5.02" height="5.35" fill="#fddbc7"/><rect x="284.25" y="377.50" width="5.02" height="5.35" fill="#fddbc7"/><rect x="289.28" y="377.50" width="5.02" height="5.35" fill="#facbb2"/><rect x="294.30" y="377.50" width="5.02" height="5.35" fill="#d1e5f0"/><rect x="299.32" y="377.50" width="5.02" height="5.35" fill="#d1e5f0"/><rect x="304.34" y="377.50" width="5.02" height="5.35" fill="#8bc1dc"/><rect x="309.36" y="377.50" width="5.02" height="5.35" fill="#70afd2"/><rect x="314.38" y="377.50" width="5.02" height="5.35" fill="#96c7df"/><rect x="319.40" y="377.50" width="5.02" height="5.35" fill="#96c7df"/><rect x="324.42" y="377.50" width="5.02" height="5.35" fill="#a5cfe3"/><rect x="329.44" y="377.50" width="5.02" height="5.35" fill="#70afd2"/><rect x="334.47" y="377.50" width="5.02" height="5.35" fill="#8bc0dc"/><rect x="339.49" y="377.50" width="5.02" height="5.35" fill="#a5cfe3"/><rect x="344.51" y="377.50" width="5.02" height="5.35" fill="#a2cde3"/><rect x="349.53" y="377.50" width="5.02" height="5.35" fill="#91c4de"/><rect x="354.55" y="377.50" width="5.02" height="5.35" fill="#8fc3dd"/><rect x="359.57" y="377.50" width="5.02" height="5.35" fill="#a5cfe3"/><rect x="364.59" y="377.50" width="5.02" height="5.35" fill="#90c4dd"/><rect x="369.61" y="377.50" width="5.02" height="5.35" fill="#86bdda"/><rect x="374.63" y="377.50" width="5.02" height="5.35" fill="#94c6de"/><rect x="379.65" y="377.50" width="5.02" height="5.35" fill="#8ac0db"/><rect x="384.68" y="377.50" width="5.02" height="5.35" fill="#90c4dd"/><rect x="389.70" y="377.50" width="5.02" height="5.35" fill="#97c7df"/><rect x="394.72" y="377.50" width="5.02" height="5.35" fill="#8ec3dd"/><rect x="399.74" y="377.50" width="5.02" height="5.35" fill="#a5cfe3"/><rect x="404.76" y="377.50" width="5.02" height="5.35" fill="#8ec3dd"/><rect x="409.78" y="377.50" width="5.02" height="5.35" fill="#92c5de"/><rect x="414.80" y="377.50" width="5.02" height="5.35" fill="#8fc3dd"/><rect x="419.82" y="377.50" width="5.02" height="5.35" fill="#9ccae1"/><rect x="424.84" y="377.50" width="5.02" height="5.35" fill="#8fc3dd"/><rect x="429.86" y="377.50" width="5.02" height="5.35" fill="#8bc1dc"/><rect x="434.88" y="377.50" width="5.02" height="5.35" fill="#9ac9e0"/><rect x="439.91" y="377.50" width="5.02" height="5.35" fill="#8ac0db"/><rect x="444.93" y="377.50" width="5.02" height="5.35" fill="#d1e5f0"/><rect x="449.95" y="377.50" width="5.02" height="5.35" fill="#fddbc7"/><rect x="454.97" y="377.50" width="5.02" height="5.35" fill="#9ecbe2"/><rect x="459.99" y="377.50" width="5.02" height="5.35" fill="#8dc2dc"/><rect x="465.01" y="377.50" width="5.02" height="5.35" fill="#a5cfe3"/><rect x="470.03" y="377.50" width="5.02" height="5.35" fill="#8fc3dd"/><rect x="475.05" y="377.50" width="5.02" height="5.35" fill="#95c7df"/><rect x="480.07" y="377.50" width="5.02" height="5.35" fill="#70afd2"/><rect x="485.10" y="377.50" width="5.02" height="5.35" fill="#9ccae1"/><rect x="490.12" y="377.50" width="5.02" height="5.35" fill="#8bc0db"/><rect x="495.14" y="377.50" width="5.02" height="5.35" fill="#9ac9e0"/><rect x="500.16" y="377.50" width="5.02" height="5.35" fill="#99c8e0"/><rect x="8.10" y="382.85" width="5.02" height="5.35" fill="#9fcce2"/><rect x="13.12" y="382.85" width="5.02" height="5.35" fill="#9ccae1"/><rect x="18.14" y="382.85" width="5.02" height="5.35" fill="#90c4dd"/><rect x="23.16" y="382.85" width="5.02" height="5.35" fill="#93c6de"/><rect x="28.18" y="382.85" width="5.02" height="5.35" fill="#dbe8ee"/><rect x="33.20" y="382.85" width="5.02" height="5.35" fill="#88beda"/><rect x="38.23" y="382.85" width="5.02" height="5.35" fill="#d1e5f0"/><rect x="43.25" y="382.85" width="5.02" height="5.35" fill="#a0cce2"/><rect x="48.27" y="382.85" width="5.02" height="5.35" fill="#88beda"/><rect x="53.29" y="382.85" width="5.02" height="5.35" fill="#99c8e0"/><rect x="58.31" y="382.85" width="5.02" height="5.35" fill="#8ac0db"/><rect x="63.33" y="382.85" width="5.02" height="5.35" fill="#9bcae1"/><rect x="68.35" y="382.85" width="5.02" height="5.35" fill="#8ec2dd"/><rect x="73.37" y="382.85" width="5.02" height="5.35" fill="#90c4dd"/><rect x="78.39" y="382.85" width="5.02" height="5.35" fill="#92c5de"/><rect x="83.41" y="382.85" width="5.02" height="5.35" fill="#92c5de"/><rect x="88.44" y="382.85" width="5.02" height="5.35" fill="#70afd2"/><rect x="93.46" y="382.85" width="5.02" height="5.35" fill="#89c0db"/><rect x="98.48" y="382.85" width="5.02" height="5.35" fill="#9fcce2"/><rect x="103.50" y="382.85" width="5.02" height="5.35" fill="#96c7df"/><rect x="108.52" y="382.85" width="5.02" height="5.35" fill="#d1e5f0"/><rect x="113.54" y="382.85" width="5.02" height="5.35" fill="#fddbc7"/><rect x="118.56" y="382.85" width="5.02" height="5.35" fill="#9ccae1"/><rect x="123.58" y="382.85" width="5.02" height="5.35" fill="#9ac9e0"/><rect x="128.60" y="382.85" width="5.02" height="5.35" fill="#90c4dd"/><rect x="133.62" y="382.85" width="5.02" height="5.35" fill="#94c6df"/><rect x="138.65" y="382.85" width="5.02" height="5.35" fill="#8ec2dd"/><rect x="143.67" y="382.85" width="5.02" height="5.35" fill="#94c6df"/><rect x="148.69" y="382.85" width="5.02" height="5.35" fill="#d1e5f0"/><rect x="153.71" y="382.85" width="5.02" height="5.35" fill="#9ac9e0"/><rect x="158.73" y="382.85" width="5.02" height="5.35" fill="#96c7df"/><rect x="163.75" y="382.85" width="5.02" height="5.35" fill="#86bdda"/><rect x="168.77" y="382.85" width="5.02" height="5.35" fill="#92c5de"/><rect x="173.79" y="382.85" width="5.02" height="5.35" fill="#fae1d2"/><rect x="178.81" y="382.85" width="5.02" height="5.35" fill="#90c4dd"/><rect x="183.83" y="382.85" width="5.02" height="5.35" fill="#8cc2dc"/><rect x="188.86" y="382.85" width="5.02" height="5.35" fill="#88bfdb"/><rect x="193.88" y="382.85" width="5.02" height="5.35" fill="#fddbc7"/><rect x="198.90" y="382.85" width="5.02" height="5.35" fill="#9ac9e0"/><rect x="203.92" y="382.85" width="5.02" height="5.35" fill="#8cc1dc"/><rect x="208.94" y="382.85" width="5.02" height="5.35" fill="#a0cce2"/><rect x="213.96" y="382.85" width="5.02" height="5.35" fill="#cb4a43"/><rect x="218.98" y="382.85" width="5.02" height="5.35" fill="#d6604d"/><rect x="224.00" y="382.85" width="5.02" height="5.35" fill="#8ec2dd"/><rect x="229.02" y="382.85" width="5.02" height="5.35" fill="#93c5de"/><rect x="234.04" y="382.85" width="5.02" height="5.35" fill="#8fc3dd"/><rect x="239.07" y="382.85" width="5.02" height="5.35" fill="#f3eeeb"/><rect x="244.09" y="382.85" width="5.02" height="5.35" fill="#97c7df"/><rect x="249.11" y="382.85" width="5.02" height="5.35" fill="#86bdda"/><rect x="254.13" y="382.85" width="5.02" height="5.35" fill="#97c7df"/><rect x="259.15" y="382.85" width="5.02" height="5.35" fill="#8dc2dc"/><rect x="264.17" y="382.85" width="5.02" height="5.35" fill="#89bfdb"/><rect x="269.19" y="382.85" width="5.02" height="5.35" fill="#8ec2dd"/><rect x="274.21" y="382.85" width="5.02" height="5.35" fill="#dbe8ee"/><rect x="279.23" y="382.85" width="5.02" height="5.35" fill="#90c4dd"/><rect x="284.25" y="382.85" width="5.02" height="5.35" fill="#8bc1dc"/><rect x="289.28" y="382.85" width="5.02" height="5.35" fill="#61a6cd"/><rect x="294.30" y="382.85" width="5.02" height="5.35" fill="#70afd2"/><rect x="299.32" y="382.85" width="5.02" height="5.35" fill="#98c8e0"/><rect x="304.34" y="382.85" width="5.02" height="5.35" fill="#95c6df"/><rect x="309.36" y="382.85" width="5.02" height="5.35" fill="#91c5de"/><rect x="314.38" y="382.85" width="5.02" height="5.35" fill="#8fc3dd"/><rect x="319.40" y="382.85" width="5.02" height="5.35" fill="#94c6df"/><rect x="324.42" y="382.85" width="5.02" height="5.35" fill="#8fc3dd"/><rect x="329.44" y="382.85" width="5.02" height="5.35" fill="#dbe8ee"/><rect x="334.47" y="382.85" width="5.02" height="5.35" fill="#97c7df"/><rect x="339.49" y="382.85" width="5.02" height="5.35" fill="#9ac9e0"/><rect x="344.51" y="382.85" width="5.02" height="5.35" fill="#8ac0db"/><rect x="349.53" y="382.85" width="5.02" height="5.35" fill="#8ac0db"/><rect x="354.55" y="382.85" width="5.02" height="5.35" fill="#87beda"/><rect x="359.57" y="382.85" width="5.02" height="5.35" fill="#70afd2"/><rect x="364.59" y="382.85" width="5.02" height="5.35" fill="#70afd2"/><rect x="369.61" y="382.85" width="5.02" height="5.35" fill="#86bdda"/><rect x="374.63" y="382.85" width="5.02" height="5.35" fill="#93c6de"/><rect x="379.65" y="382.85" width="5.02" height="5.35" fill="#86bdda"/><rect x="384.68" y="382.85" width="5.02" height="5.35" fill="#8fc3dd"/><rect x="389.70" y="382.85" width="5.02" height="5.35" fill="#9bc9e0"/><rect x="394.72" y="382.85" width="5.02" height="5.35" fill="#88bfdb"/><rect x="399.74" y="382.85" width="5.02" height="5.35" fill="#70afd2"/><rect x="404.76" y="382.85" width="5.02" height="5.35" fill="#92c5de"/><rect x="409.78" y="382.85" width="5.02" height="5.35" fill="#8fc3dd"/><rect x="414.80" y="382.85" width="5.02" height="5.35" fill="#8dc2dc"/><rect x="419.82" y="382.85" width="5.02" height="5.35" fill="#8fc3dd"/><rect x="424.84" y="382.85" width="5.02" height="5.35" fill="#61a6cd"/><rect x="429.86" y="382.85" width="5.02" height="5.35" fill="#86bdda"/><rect x="434.88" y="382.85" width="5.02" height="5.35" fill="#90c4dd"/><rect x="439.91" y="382.85" width="5.02" height="5.35" fill="#8dc2dc"/><rect x="444.93" y="382.85" width="5.02" height="5.35" fill="#a5cfe3"/><rect x="449.95" y="382.85" width="5.02" height="5.35" fill="#d1e5f0"/><rect x="454.97" y="382.85" width="5.02" height="5.35" fill="#a2cde2"/><rect x="459.99" y="382.85" width="5.02" height="5.35" fill="#8ec2dd"/><rect x="465.01" y="382.85" width="5.02" height="5.35" fill="#8ec3dd"/><rect x="470.03" y="382.85" width="5.02" height="5.35" fill="#91c4de"/><rect x="475.05" y="382.85" width="5.02" height="5.35" fill="#89bfdb"/><rect x="480.07" y="382.85" width="5.02" height="5.35" fill="#83bcd9"/><rect x="485.10" y="382.85" width="5.02" height="5.35" fill="#87beda"/><rect x="490.12" y="382.85" width="5.02" height="5.35" fill="#8fc3dd"/><rect x="495.14" y="382.85" width="5.02" height="5.35" fill="#90c4dd"/><rect x="500.16" y="382.85" width="5.02" height="5.35" fill="#99c9e0"/></g>
<rect x="508" y="334.7" width="4.8" height="26.75" fill="#0d4d8c"/><rect x="508" y="361.45" width="4.8" height="26.75" fill="#c8102e"/>
<g font-family="Liberation Sans, Arial, Helvetica, sans-serif" font-size="5.25" fill="#111" stroke="#111" stroke-width="0.12">
<text transform="translate(9.71,391.6) rotate(90)">Hibch</text>
<text transform="translate(14.73,391.6) rotate(90)">Ndufv2</text>
<text transform="translate(19.75,391.6) rotate(90)">Mrpl23</text>
<text transform="translate(24.77,391.6) rotate(90)">Timm44</text>
<text transform="translate(29.79,391.6) rotate(90)">Mdh2</text>
<text transform="translate(34.82,391.6) rotate(90)">Glud1</text>
<text transform="translate(39.84,391.6) rotate(90)">Pdha1</text>
<text transform="translate(44.86,391.6) rotate(90)">Idh3a</text>
<text transform="translate(49.88,391.6) rotate(90)">Tufm</text>
<text transform="translate(54.90,391.6) rotate(90)">Tomm22</text>
<text transform="translate(59.92,391.6) rotate(90)">Ndufs1</text>
<text transform="translate(64.94,391.6) rotate(90)">Mrpl12</text>
<text transform="translate(69.96,391.6) rotate(90)">Hspe1</text>
<text transform="translate(74.98,391.6) rotate(90)">Atad3</text>
<text transform="translate(80.00,391.6) rotate(90)">Atp5b</text>
<text transform="translate(85.03,391.6) rotate(90)">Suclg1</text>
<text transform="translate(90.05,391.6) rotate(90)">Atp5f1</text>
<text transform="translate(95.07,391.6) rotate(90)">Tsfm</text>
<text transform="translate(100.09,391.6) rotate(90)">Grpel1</text>
<text transform="translate(105.11,391.6) rotate(90)">Aldh2</text>
<text transform="translate(110.13,391.6) rotate(90)">Gsr</text>
<text transform="translate(115.15,391.6) rotate(90)">Coq9</text>
<text transform="translate(120.17,391.6) rotate(90)">Mrps9</text>
<text transform="translate(125.19,391.6) rotate(90)">Ak2</text>
<text transform="translate(130.21,391.6) rotate(90)">Gfm1</text>
<text transform="translate(135.24,391.6) rotate(90)">Ndufa10</text>
<text transform="translate(140.26,391.6) rotate(90)">Dld</text>
<text transform="translate(145.28,391.6) rotate(90)">Cs</text>
<text transform="translate(150.30,391.6) rotate(90)">Pdhb</text>
<text transform="translate(155.32,391.6) rotate(90)">Atp5h</text>
<text transform="translate(160.34,391.6) rotate(90)">Etfa</text>
<text transform="translate(165.36,391.6) rotate(90)">Mrpl3</text>
<text transform="translate(170.38,391.6) rotate(90)">Suclg2</text>
<text transform="translate(175.40,391.6) rotate(90)">Fh</text>
<text transform="translate(180.42,391.6) rotate(90)">Bcat2</text>
<text transform="translate(185.45,391.6) rotate(90)">Cox5a</text>
<text transform="translate(190.47,391.6) rotate(90)">Dut</text>
<text transform="translate(195.49,391.6) rotate(90)">Myg1</text>
<text transform="translate(200.51,391.6) rotate(90)">Mrpl22</text>
<text transform="translate(205.53,391.6) rotate(90)">Timm8a1</text>
<text transform="translate(210.55,391.6) rotate(90)">Pcx</text>
<text transform="translate(215.57,391.6) rotate(90)">Gpd2</text>
<text transform="translate(220.59,391.6) rotate(90)">Fis1</text>
<text transform="translate(225.61,391.6) rotate(90)">Letm1</text>
<text transform="translate(230.63,391.6) rotate(90)">Sdha</text>
<text transform="translate(235.66,391.6) rotate(90)">Nfs1</text>
<text transform="translate(240.68,391.6) rotate(90)">C1qbp</text>
<text transform="translate(245.70,391.6) rotate(90)">Slc25a3</text>
<text transform="translate(250.72,391.6) rotate(90)">Oxct1</text>
<text transform="translate(255.74,391.6) rotate(90)">Ndufa11</text>
<text transform="translate(260.76,391.6) rotate(90)">Mrpl11</text>
<text transform="translate(265.78,391.6) rotate(90)">Mrps34</text>
<text transform="translate(270.80,391.6) rotate(90)">Mrpl9</text>
<text transform="translate(275.82,391.6) rotate(90)">Dlst</text>
<text transform="translate(280.84,391.6) rotate(90)">Atp5j2</text>
<text transform="translate(285.87,391.6) rotate(90)">Tomm40</text>
<text transform="translate(290.89,391.6) rotate(90)">Aldh5a1</text>
<text transform="translate(295.91,391.6) rotate(90)">Opa1</text>
<text transform="translate(300.93,391.6) rotate(90)">Aldh4a1</text>
<text transform="translate(305.95,391.6) rotate(90)">Ndufv1</text>
<text transform="translate(310.97,391.6) rotate(90)">Trap1</text>
<text transform="translate(315.99,391.6) rotate(90)">Mcu</text>
<text transform="translate(321.01,391.6) rotate(90)">Mavs</text>
<text transform="translate(326.03,391.6) rotate(90)">Atp5o</text>
<text transform="translate(331.05,391.6) rotate(90)">Stoml2</text>
<text transform="translate(336.08,391.6) rotate(90)">Aifm1</text>
<text transform="translate(341.10,391.6) rotate(90)">Hspd1</text>
<text transform="translate(346.12,391.6) rotate(90)">Uqcrfs1</text>
<text transform="translate(351.14,391.6) rotate(90)">Pmpcb</text>
<text transform="translate(356.16,391.6) rotate(90)">Clpb</text>
<text transform="translate(361.18,391.6) rotate(90)">Abcb10</text>
<text transform="translate(366.20,391.6) rotate(90)">Pitrm1</text>
<text transform="translate(371.22,391.6) rotate(90)">Mut</text>
<text transform="translate(376.24,391.6) rotate(90)">Aco2</text>
<text transform="translate(381.26,391.6) rotate(90)">Ndufb8</text>
<text transform="translate(386.29,391.6) rotate(90)">Tomm70</text>
<text transform="translate(391.31,391.6) rotate(90)">Slc25a13</text>
<text transform="translate(396.33,391.6) rotate(90)">Lrpprc</text>
<text transform="translate(401.35,391.6) rotate(90)">Hadha</text>
<text transform="translate(406.37,391.6) rotate(90)">Slc25a12</text>
<text transform="translate(411.39,391.6) rotate(90)">Sdhb</text>
<text transform="translate(416.41,391.6) rotate(90)">Cox4i1</text>
<text transform="translate(421.43,391.6) rotate(90)">Idh2</text>
<text transform="translate(426.45,391.6) rotate(90)">Hadhb</text>
<text transform="translate(431.47,391.6) rotate(90)">Cyc1</text>
<text transform="translate(436.50,391.6) rotate(90)">Atp5d</text>
<text transform="translate(441.52,391.6) rotate(90)">Timm50</text>
<text transform="translate(446.54,391.6) rotate(90)">Ndufa9</text>
<text transform="translate(451.56,391.6) rotate(90)">Acadvl</text>
<text transform="translate(456.58,391.6) rotate(90)">Mrps30</text>
<text transform="translate(461.60,391.6) rotate(90)">Ndufs2</text>
<text transform="translate(466.62,391.6) rotate(90)">Got2</text>
<text transform="translate(471.64,391.6) rotate(90)">Pmpca</text>
<text transform="translate(476.66,391.6) rotate(90)">Phb2</text>
<text transform="translate(481.68,391.6) rotate(90)">Cat</text>
<text transform="translate(486.71,391.6) rotate(90)">Idh3g</text>
<text transform="translate(491.73,391.6) rotate(90)">Lonp1</text>
<text transform="translate(496.75,391.6) rotate(90)">Acaa1</text>
<text transform="translate(501.77,391.6) rotate(90)">Abcb7</text>
</g>
<g stroke="#8a8f99" stroke-width="0.35" stroke-opacity="0.4"><rect x="31.80" y="193.70" width="6.23" height="6.14" fill="#b92632"/><rect x="38.03" y="193.70" width="6.23" height="6.14" fill="#b92632"/><rect x="44.26" y="193.70" width="6.23" height="6.14" fill="#f4a582"/><rect x="50.49" y="193.70" width="6.23" height="6.14" fill="#fddbc7"/><rect x="56.72" y="193.70" width="6.23" height="6.14" fill="#8ac0db"/><rect x="62.95" y="193.70" width="6.23" height="6.14" fill="#a5cfe3"/><rect x="69.18" y="193.70" width="6.23" height="6.14" fill="#8cc1dc"/><rect x="75.41" y="193.70" width="6.23" height="6.14" fill="#8bc1dc"/><rect x="81.64" y="193.70" width="6.23" height="6.14" fill="#8bc1dc"/><rect x="87.87" y="193.70" width="6.23" height="6.14" fill="#d1e5f0"/><rect x="31.80" y="199.84" width="6.23" height="6.14" fill="#c8433f"/><rect x="38.03" y="199.84" width="6.23" height="6.14" fill="#c8433f"/><rect x="44.26" y="199.84" width="6.23" height="6.14" fill="#d6604d"/><rect x="50.49" y="199.84" width="6.23" height="6.14" fill="#eb9072"/><rect x="56.72" y="199.84" width="6.23" height="6.14" fill="#88bfdb"/><rect x="62.95" y="199.84" width="6.23" height="6.14" fill="#90c4dd"/><rect x="69.18" y="199.84" width="6.23" height="6.14" fill="#92c5de"/><rect x="75.41" y="199.84" width="6.23" height="6.14" fill="#8ec3dd"/><rect x="81.64" y="199.84" width="6.23" height="6.14" fill="#89bfdb"/><rect x="87.87" y="199.84" width="6.23" height="6.14" fill="#91c4de"/><rect x="31.80" y="205.99" width="6.23" height="6.14" fill="#c03539"/><rect x="38.03" y="205.99" width="6.23" height="6.14" fill="#c03539"/><rect x="44.26" y="205.99" width="6.23" height="6.14" fill="#d6604d"/><rect x="50.49" y="205.99" width="6.23" height="6.14" fill="#fddbc7"/><rect x="56.72" y="205.99" width="6.23" height="6.14" fill="#86beda"/><rect x="62.95" y="205.99" width="6.23" height="6.14" fill="#90c4dd"/><rect x="69.18" y="205.99" width="6.23" height="6.14" fill="#8cc1dc"/><rect x="75.41" y="205.99" width="6.23" height="6.14" fill="#89bfdb"/><rect x="81.64" y="205.99" width="6.23" height="6.14" fill="#95c6df"/><rect x="87.87" y="205.99" width="6.23" height="6.14" fill="#87beda"/><rect x="31.80" y="212.13" width="6.23" height="6.14" fill="#fddbc7"/><rect x="38.03" y="212.13" width="6.23" height="6.14" fill="#7e0723"/><rect x="44.26" y="212.13" width="6.23" height="6.14" fill="#bd2e35"/><rect x="50.49" y="212.13" width="6.23" height="6.14" fill="#f4a582"/><rect x="56.72" y="212.13" width="6.23" height="6.14" fill="#a5cfe3"/><rect x="62.95" y="212.13" width="6.23" height="6.14" fill="#8ac0db"/><rect x="69.18" y="212.13" width="6.23" height="6.14" fill="#70afd2"/><rect x="75.41" y="212.13" width="6.23" height="6.14" fill="#a5cfe3"/><rect x="81.64" y="212.13" width="6.23" height="6.14" fill="#8fc3dd"/><rect x="87.87" y="212.13" width="6.23" height="6.14" fill="#86beda"/><rect x="31.80" y="218.28" width="6.23" height="6.14" fill="#f4a582"/><rect x="38.03" y="218.28" width="6.23" height="6.14" fill="#f4a582"/><rect x="44.26" y="218.28" width="6.23" height="6.14" fill="#b2182b"/><rect x="50.49" y="218.28" width="6.23" height="6.14" fill="#bd2e35"/><rect x="56.72" y="218.28" width="6.23" height="6.14" fill="#d1e5f0"/><rect x="62.95" y="218.28" width="6.23" height="6.14" fill="#91c4de"/><rect x="69.18" y="218.28" width="6.23" height="6.14" fill="#86bdda"/><rect x="75.41" y="218.28" width="6.23" height="6.14" fill="#88bfdb"/><rect x="81.64" y="218.28" width="6.23" height="6.14" fill="#93c5de"/><rect x="87.87" y="218.28" width="6.23" height="6.14" fill="#83bcd9"/><rect x="31.80" y="224.42" width="6.23" height="6.14" fill="#67001f"/><rect x="38.03" y="224.42" width="6.23" height="6.14" fill="#fddbc7"/><rect x="44.26" y="224.42" width="6.23" height="6.14" fill="#d6604d"/><rect x="50.49" y="224.42" width="6.23" height="6.14" fill="#f4a582"/><rect x="56.72" y="224.42" width="6.23" height="6.14" fill="#86beda"/><rect x="62.95" y="224.42" width="6.23" height="6.14" fill="#93c5de"/><rect x="69.18" y="224.42" width="6.23" height="6.14" fill="#88bfdb"/><rect x="75.41" y="224.42" width="6.23" height="6.14" fill="#dbe8ee"/><rect x="81.64" y="224.42" width="6.23" height="6.14" fill="#8bc1dc"/><rect x="87.87" y="224.42" width="6.23" height="6.14" fill="#8ac0db"/><rect x="31.80" y="230.57" width="6.23" height="6.14" fill="#9b1127"/><rect x="38.03" y="230.57" width="6.23" height="6.14" fill="#f4a582"/><rect x="44.26" y="230.57" width="6.23" height="6.14" fill="#fddbc7"/><rect x="50.49" y="230.57" width="6.23" height="6.14" fill="#d6604d"/><rect x="56.72" y="230.57" width="6.23" height="6.14" fill="#f6e8e0"/><rect x="62.95" y="230.57" width="6.23" height="6.14" fill="#8fc3dd"/><rect x="69.18" y="230.57" width="6.23" height="6.14" fill="#8fc3dd"/><rect x="75.41" y="230.57" width="6.23" height="6.14" fill="#88bfdb"/><rect x="81.64" y="230.57" width="6.23" height="6.14" fill="#8ac0db"/><rect x="87.87" y="230.57" width="6.23" height="6.14" fill="#8dc2dc"/><rect x="31.80" y="236.71" width="6.23" height="6.14" fill="#7e0723"/><rect x="38.03" y="236.71" width="6.23" height="6.14" fill="#fddbc7"/><rect x="44.26" y="236.71" width="6.23" height="6.14" fill="#facbb2"/><rect x="50.49" y="236.71" width="6.23" height="6.14" fill="#bd2e35"/><rect x="56.72" y="236.71" width="6.23" height="6.14" fill="#d1e5f0"/><rect x="62.95" y="236.71" width="6.23" height="6.14" fill="#93c6de"/><rect x="69.18" y="236.71" width="6.23" height="6.14" fill="#8dc2dc"/><rect x="75.41" y="236.71" width="6.23" height="6.14" fill="#a5cfe3"/><rect x="81.64" y="236.71" width="6.23" height="6.14" fill="#8fc3dd"/><rect x="87.87" y="236.71" width="6.23" height="6.14" fill="#92c5de"/><rect x="31.80" y="242.86" width="6.23" height="6.14" fill="#9b1127"/><rect x="38.03" y="242.86" width="6.23" height="6.14" fill="#9b1127"/><rect x="44.26" y="242.86" width="6.23" height="6.14" fill="#fddbc7"/><rect x="50.49" y="242.86" width="6.23" height="6.14" fill="#a5cfe3"/><rect x="56.72" y="242.86" width="6.23" height="6.14" fill="#fddbc7"/><rect x="62.95" y="242.86" width="6.23" height="6.14" fill="#90c4dd"/><rect x="69.18" y="242.86" width="6.23" height="6.14" fill="#70afd2"/><rect x="75.41" y="242.86" width="6.23" height="6.14" fill="#92c5de"/><rect x="81.64" y="242.86" width="6.23" height="6.14" fill="#8bc1dc"/><rect x="87.87" y="242.86" width="6.23" height="6.14" fill="#d1e5f0"/><rect x="31.80" y="249.00" width="6.23" height="6.14" fill="#7e0723"/><rect x="38.03" y="249.00" width="6.23" height="6.14" fill="#f4a582"/><rect x="44.26" y="249.00" width="6.23" height="6.14" fill="#df755d"/><rect x="50.49" y="249.00" width="6.23" height="6.14" fill="#fddbc7"/><rect x="56.72" y="249.00" width="6.23" height="6.14" fill="#fddbc7"/><rect x="62.95" y="249.00" width="6.23" height="6.14" fill="#83bcd9"/><rect x="69.18" y="249.00" width="6.23" height="6.14" fill="#90c4dd"/><rect x="75.41" y="249.00" width="6.23" height="6.14" fill="#a5cfe3"/><rect x="81.64" y="249.00" width="6.23" height="6.14" fill="#87beda"/><rect x="87.87" y="249.00" width="6.23" height="6.14" fill="#70afd2"/><rect x="31.80" y="255.15" width="6.23" height="6.14" fill="#df755d"/><rect x="38.03" y="255.15" width="6.23" height="6.14" fill="#fddbc7"/><rect x="44.26" y="255.15" width="6.23" height="6.14" fill="#bd2e35"/><rect x="50.49" y="255.15" width="6.23" height="6.14" fill="#facbb2"/><rect x="56.72" y="255.15" width="6.23" height="6.14" fill="#df755d"/><rect x="62.95" y="255.15" width="6.23" height="6.14" fill="#70afd2"/><rect x="69.18" y="255.15" width="6.23" height="6.14" fill="#61a6cd"/><rect x="75.41" y="255.15" width="6.23" height="6.14" fill="#a5cfe3"/><rect x="81.64" y="255.15" width="6.23" height="6.14" fill="#83bcd9"/><rect x="87.87" y="255.15" width="6.23" height="6.14" fill="#89bfdb"/><rect x="31.80" y="261.29" width="6.23" height="6.14" fill="#87beda"/><rect x="38.03" y="261.29" width="6.23" height="6.14" fill="#b2182b"/><rect x="44.26" y="261.29" width="6.23" height="6.14" fill="#eb9072"/><rect x="50.49" y="261.29" width="6.23" height="6.14" fill="#f4a582"/><rect x="56.72" y="261.29" width="6.23" height="6.14" fill="#f7b597"/><rect x="62.95" y="261.29" width="6.23" height="6.14" fill="#a5cfe3"/><rect x="69.18" y="261.29" width="6.23" height="6.14" fill="#3b88bd"/><rect x="75.41" y="261.29" width="6.23" height="6.14" fill="#a5cfe3"/><rect x="81.64" y="261.29" width="6.23" height="6.14" fill="#92c5de"/><rect x="87.87" y="261.29" width="6.23" height="6.14" fill="#fddbc7"/><rect x="31.80" y="267.44" width="6.23" height="6.14" fill="#fddbc7"/><rect x="38.03" y="267.44" width="6.23" height="6.14" fill="#f3eeeb"/><rect x="44.26" y="267.44" width="6.23" height="6.14" fill="#fddbc7"/><rect x="50.49" y="267.44" width="6.23" height="6.14" fill="#b2182b"/><rect x="56.72" y="267.44" width="6.23" height="6.14" fill="#7e0723"/><rect x="62.95" y="267.44" width="6.23" height="6.14" fill="#88bfdb"/><rect x="69.18" y="267.44" width="6.23" height="6.14" fill="#8dc2dc"/><rect x="75.41" y="267.44" width="6.23" height="6.14" fill="#8bc0db"/><rect x="81.64" y="267.44" width="6.23" height="6.14" fill="#8ac0db"/><rect x="87.87" y="267.44" width="6.23" height="6.14" fill="#88beda"/><rect x="31.80" y="273.58" width="6.23" height="6.14" fill="#d1e5f0"/><rect x="38.03" y="273.58" width="6.23" height="6.14" fill="#f7b597"/><rect x="44.26" y="273.58" width="6.23" height="6.14" fill="#f3eeeb"/><rect x="50.49" y="273.58" width="6.23" height="6.14" fill="#bd2e35"/><rect x="56.72" y="273.58" width="6.23" height="6.14" fill="#7e0723"/><rect x="62.95" y="273.58" width="6.23" height="6.14" fill="#8cc1dc"/><rect x="69.18" y="273.58" width="6.23" height="6.14" fill="#8dc2dc"/><rect x="75.41" y="273.58" width="6.23" height="6.14" fill="#8ec2dc"/><rect x="81.64" y="273.58" width="6.23" height="6.14" fill="#90c4dd"/><rect x="87.87" y="273.58" width="6.23" height="6.14" fill="#93c5de"/><rect x="31.80" y="279.73" width="6.23" height="6.14" fill="#f4a582"/><rect x="38.03" y="279.73" width="6.23" height="6.14" fill="#bd2e35"/><rect x="44.26" y="279.73" width="6.23" height="6.14" fill="#f4a582"/><rect x="50.49" y="279.73" width="6.23" height="6.14" fill="#fddbc7"/><rect x="56.72" y="279.73" width="6.23" height="6.14" fill="#bd2e35"/><rect x="62.95" y="279.73" width="6.23" height="6.14" fill="#8ec2dd"/><rect x="69.18" y="279.73" width="6.23" height="6.14" fill="#8ec2dd"/><rect x="75.41" y="279.73" width="6.23" height="6.14" fill="#88bfdb"/><rect x="81.64" y="279.73" width="6.23" height="6.14" fill="#83bcd9"/><rect x="87.87" y="279.73" width="6.23" height="6.14" fill="#8bc1dc"/><rect x="31.80" y="285.88" width="6.23" height="6.14" fill="#fddbc7"/><rect x="38.03" y="285.88" width="6.23" height="6.14" fill="#f4a582"/><rect x="44.26" y="285.88" width="6.23" height="6.14" fill="#eb9072"/><rect x="50.49" y="285.88" width="6.23" height="6.14" fill="#f4a582"/><rect x="56.72" y="285.88" width="6.23" height="6.14" fill="#7e0723"/><rect x="62.95" y="285.88" width="6.23" height="6.14" fill="#8ac0db"/><rect x="69.18" y="285.88" width="6.23" height="6.14" fill="#a5cfe3"/><rect x="75.41" y="285.88" width="6.23" height="6.14" fill="#83bcd9"/><rect x="81.64" y="285.88" width="6.23" height="6.14" fill="#90c4dd"/><rect x="87.87" y="285.88" width="6.23" height="6.14" fill="#70afd2"/><rect x="31.80" y="292.02" width="6.23" height="6.14" fill="#fddbc7"/><rect x="38.03" y="292.02" width="6.23" height="6.14" fill="#eb9072"/><rect x="44.26" y="292.02" width="6.23" height="6.14" fill="#eb9072"/><rect x="50.49" y="292.02" width="6.23" height="6.14" fill="#f4a582"/><rect x="56.72" y="292.02" width="6.23" height="6.14" fill="#9b1127"/><rect x="62.95" y="292.02" width="6.23" height="6.14" fill="#88beda"/><rect x="69.18" y="292.02" width="6.23" height="6.14" fill="#8dc2dc"/><rect x="75.41" y="292.02" width="6.23" height="6.14" fill="#89bfdb"/><rect x="81.64" y="292.02" width="6.23" height="6.14" fill="#93c6de"/><rect x="87.87" y="292.02" width="6.23" height="6.14" fill="#88bfdb"/><rect x="31.80" y="298.16" width="6.23" height="6.14" fill="#f4a582"/><rect x="38.03" y="298.16" width="6.23" height="6.14" fill="#fddbc7"/><rect x="44.26" y="298.16" width="6.23" height="6.14" fill="#fddbc7"/><rect x="50.49" y="298.16" width="6.23" height="6.14" fill="#facbb2"/><rect x="56.72" y="298.16" width="6.23" height="6.14" fill="#67001f"/><rect x="62.95" y="298.16" width="6.23" height="6.14" fill="#8ec3dd"/><rect x="69.18" y="298.16" width="6.23" height="6.14" fill="#8ac0db"/><rect x="75.41" y="298.16" width="6.23" height="6.14" fill="#8fc3dd"/><rect x="81.64" y="298.16" width="6.23" height="6.14" fill="#86bdda"/><rect x="87.87" y="298.16" width="6.23" height="6.14" fill="#91c4de"/><rect x="31.80" y="304.31" width="6.23" height="6.14" fill="#df755d"/><rect x="38.03" y="304.31" width="6.23" height="6.14" fill="#eb9072"/><rect x="44.26" y="304.31" width="6.23" height="6.14" fill="#f4a582"/><rect x="50.49" y="304.31" width="6.23" height="6.14" fill="#facbb2"/><rect x="56.72" y="304.31" width="6.23" height="6.14" fill="#b2182b"/><rect x="62.95" y="304.31" width="6.23" height="6.14" fill="#8ac0db"/><rect x="69.18" y="304.31" width="6.23" height="6.14" fill="#70afd2"/><rect x="75.41" y="304.31" width="6.23" height="6.14" fill="#83bcd9"/><rect x="81.64" y="304.31" width="6.23" height="6.14" fill="#a5cfe3"/><rect x="87.87" y="304.31" width="6.23" height="6.14" fill="#83bcd9"/><rect x="31.80" y="310.45" width="6.23" height="6.14" fill="#f4a582"/><rect x="38.03" y="310.45" width="6.23" height="6.14" fill="#eb9072"/><rect x="44.26" y="310.45" width="6.23" height="6.14" fill="#fddbc7"/><rect x="50.49" y="310.45" width="6.23" height="6.14" fill="#fddbc7"/><rect x="56.72" y="310.45" width="6.23" height="6.14" fill="#7e0723"/><rect x="62.95" y="310.45" width="6.23" height="6.14" fill="#8cc1dc"/><rect x="69.18" y="310.45" width="6.23" height="6.14" fill="#8ec3dd"/><rect x="75.41" y="310.45" width="6.23" height="6.14" fill="#94c6df"/><rect x="81.64" y="310.45" width="6.23" height="6.14" fill="#8ec2dd"/><rect x="87.87" y="310.45" width="6.23" height="6.14" fill="#8dc2dc"/></g>
<rect x="31.8" y="190.2" width="31.15" height="2.3" fill="#0d4d8c"/><rect x="62.95" y="190.2" width="31.15" height="2.3" fill="#c8102e"/>
<g font-family="Liberation Sans, Arial, Helvetica, sans-serif" font-size="6.1" fill="#111" stroke="#111" stroke-width="0.15" text-anchor="end">
<text x="27.5" y="199.07">Srsf1</text>
<text x="27.5" y="205.22">Srsf10</text>
<text x="27.5" y="211.36">Rbm17</text>
<text x="27.5" y="217.51">U2af1</text>
<text x="27.5" y="223.65">Bcas2</text>
<text x="27.5" y="229.80">Sf3a3</text>
<text x="27.5" y="235.94">Rtcb</text>
<text x="27.5" y="242.09">Puf60</text>
<text x="27.5" y="248.23">Srsf6</text>
<text x="27.5" y="254.38">U2af2</text>
<text x="27.5" y="260.52">Ddx39b</text>
<text x="27.5" y="266.67">Srsf2</text>
<text x="27.5" y="272.81">Sf3a1</text>
<text x="27.5" y="278.96">Sf3a2</text>
<text x="27.5" y="285.10">Sf1</text>
<text x="27.5" y="291.25">Sfpq</text>
<text x="27.5" y="297.39">Sf3b1</text>
<text x="27.5" y="303.54">Dhx15</text>
<text x="27.5" y="309.68">Sf3b3</text>
<text x="27.5" y="315.83">Prpf8</text>
</g>
<g stroke="#8a8f99" stroke-width="0.35" stroke-opacity="0.4"><rect x="424.50" y="122.80" width="6.26" height="6.16" fill="#d6604d"/><rect x="430.76" y="122.80" width="6.26" height="6.16" fill="#facbb2"/><rect x="437.02" y="122.80" width="6.26" height="6.16" fill="#f4a582"/><rect x="443.28" y="122.80" width="6.26" height="6.16" fill="#d6604d"/><rect x="449.54" y="122.80" width="6.26" height="6.16" fill="#d1e5f0"/><rect x="455.80" y="122.80" width="6.26" height="6.16" fill="#a5cfe3"/><rect x="462.06" y="122.80" width="6.26" height="6.16" fill="#a5cfe3"/><rect x="468.32" y="122.80" width="6.26" height="6.16" fill="#74b2d4"/><rect x="474.58" y="122.80" width="6.26" height="6.16" fill="#77b4d5"/><rect x="480.84" y="122.80" width="6.26" height="6.16" fill="#78b4d5"/><rect x="424.50" y="128.96" width="6.26" height="6.16" fill="#b2182b"/><rect x="430.76" y="128.96" width="6.26" height="6.16" fill="#f7b597"/><rect x="437.02" y="128.96" width="6.26" height="6.16" fill="#f4a582"/><rect x="443.28" y="128.96" width="6.26" height="6.16" fill="#facbb2"/><rect x="449.54" y="128.96" width="6.26" height="6.16" fill="#f6e8e0"/><rect x="455.80" y="128.96" width="6.26" height="6.16" fill="#92c5de"/><rect x="462.06" y="128.96" width="6.26" height="6.16" fill="#71b0d3"/><rect x="468.32" y="128.96" width="6.26" height="6.16" fill="#d1e5f0"/><rect x="474.58" y="128.96" width="6.26" height="6.16" fill="#91c4dd"/><rect x="480.84" y="128.96" width="6.26" height="6.16" fill="#7eb8d7"/><rect x="424.50" y="135.12" width="6.26" height="6.16" fill="#d6604d"/><rect x="430.76" y="135.12" width="6.26" height="6.16" fill="#df755d"/><rect x="437.02" y="135.12" width="6.26" height="6.16" fill="#f4a582"/><rect x="443.28" y="135.12" width="6.26" height="6.16" fill="#f4a582"/><rect x="449.54" y="135.12" width="6.26" height="6.16" fill="#f3eeeb"/><rect x="455.80" y="135.12" width="6.26" height="6.16" fill="#8fc3dd"/><rect x="462.06" y="135.12" width="6.26" height="6.16" fill="#83bbd9"/><rect x="468.32" y="135.12" width="6.26" height="6.16" fill="#a5cfe3"/><rect x="474.58" y="135.12" width="6.26" height="6.16" fill="#dbe8ee"/><rect x="480.84" y="135.12" width="6.26" height="6.16" fill="#95c7df"/><rect x="424.50" y="141.28" width="6.26" height="6.16" fill="#67001f"/><rect x="430.76" y="141.28" width="6.26" height="6.16" fill="#fddbc7"/><rect x="437.02" y="141.28" width="6.26" height="6.16" fill="#fddbc7"/><rect x="443.28" y="141.28" width="6.26" height="6.16" fill="#d1e5f0"/><rect x="449.54" y="141.28" width="6.26" height="6.16" fill="#f7b597"/><rect x="455.80" y="141.28" width="6.26" height="6.16" fill="#80bad8"/><rect x="462.06" y="141.28" width="6.26" height="6.16" fill="#77b4d5"/><rect x="468.32" y="141.28" width="6.26" height="6.16" fill="#7fb9d8"/><rect x="474.58" y="141.28" width="6.26" height="6.16" fill="#88bfdb"/><rect x="480.84" y="141.28" width="6.26" height="6.16" fill="#76b4d5"/><rect x="424.50" y="147.44" width="6.26" height="6.16" fill="#9b1127"/><rect x="430.76" y="147.44" width="6.26" height="6.16" fill="#facbb2"/><rect x="437.02" y="147.44" width="6.26" height="6.16" fill="#fddbc7"/><rect x="443.28" y="147.44" width="6.26" height="6.16" fill="#fddbc7"/><rect x="449.54" y="147.44" width="6.26" height="6.16" fill="#f4a582"/><rect x="455.80" y="147.44" width="6.26" height="6.16" fill="#8ac0db"/><rect x="462.06" y="147.44" width="6.26" height="6.16" fill="#70afd2"/><rect x="468.32" y="147.44" width="6.26" height="6.16" fill="#f6e8e0"/><rect x="474.58" y="147.44" width="6.26" height="6.16" fill="#92c5de"/><rect x="480.84" y="147.44" width="6.26" height="6.16" fill="#71b0d3"/><rect x="424.50" y="153.60" width="6.26" height="6.16" fill="#bd2e35"/><rect x="430.76" y="153.60" width="6.26" height="6.16" fill="#f4a582"/><rect x="437.02" y="153.60" width="6.26" height="6.16" fill="#fddbc7"/><rect x="443.28" y="153.60" width="6.26" height="6.16" fill="#f4a582"/><rect x="449.54" y="153.60" width="6.26" height="6.16" fill="#f4a582"/><rect x="455.80" y="153.60" width="6.26" height="6.16" fill="#83bcd9"/><rect x="462.06" y="153.60" width="6.26" height="6.16" fill="#99c8e0"/><rect x="468.32" y="153.60" width="6.26" height="6.16" fill="#7eb8d7"/><rect x="474.58" y="153.60" width="6.26" height="6.16" fill="#87beda"/><rect x="480.84" y="153.60" width="6.26" height="6.16" fill="#96c7df"/><rect x="424.50" y="159.76" width="6.26" height="6.16" fill="#b2182b"/><rect x="430.76" y="159.76" width="6.26" height="6.16" fill="#facbb2"/><rect x="437.02" y="159.76" width="6.26" height="6.16" fill="#facbb2"/><rect x="443.28" y="159.76" width="6.26" height="6.16" fill="#fddbc7"/><rect x="449.54" y="159.76" width="6.26" height="6.16" fill="#df755d"/><rect x="455.80" y="159.76" width="6.26" height="6.16" fill="#89bfdb"/><rect x="462.06" y="159.76" width="6.26" height="6.16" fill="#97c7df"/><rect x="468.32" y="159.76" width="6.26" height="6.16" fill="#8ec2dd"/><rect x="474.58" y="159.76" width="6.26" height="6.16" fill="#94c6df"/><rect x="480.84" y="159.76" width="6.26" height="6.16" fill="#8fc3dd"/><rect x="424.50" y="165.92" width="6.26" height="6.16" fill="#61a6cd"/><rect x="430.76" y="165.92" width="6.26" height="6.16" fill="#f3eeeb"/><rect x="437.02" y="165.92" width="6.26" height="6.16" fill="#d1e5f0"/><rect x="443.28" y="165.92" width="6.26" height="6.16" fill="#61a6cd"/><rect x="449.54" y="165.92" width="6.26" height="6.16" fill="#d1e5f0"/><rect x="455.80" y="165.92" width="6.26" height="6.16" fill="#f3eeeb"/><rect x="462.06" y="165.92" width="6.26" height="6.16" fill="#9b1127"/><rect x="468.32" y="165.92" width="6.26" height="6.16" fill="#f4a582"/><rect x="474.58" y="165.92" width="6.26" height="6.16" fill="#f4a582"/><rect x="480.84" y="165.92" width="6.26" height="6.16" fill="#f6e8e0"/><rect x="424.50" y="172.08" width="6.26" height="6.16" fill="#dbe8ee"/><rect x="430.76" y="172.08" width="6.26" height="6.16" fill="#f7b597"/><rect x="437.02" y="172.08" width="6.26" height="6.16" fill="#f6e8e0"/><rect x="443.28" y="172.08" width="6.26" height="6.16" fill="#cb4a43"/><rect x="449.54" y="172.08" width="6.26" height="6.16" fill="#b2182b"/><rect x="455.80" y="172.08" width="6.26" height="6.16" fill="#70afd2"/><rect x="462.06" y="172.08" width="6.26" height="6.16" fill="#d1e5f0"/><rect x="468.32" y="172.08" width="6.26" height="6.16" fill="#d1e5f0"/><rect x="474.58" y="172.08" width="6.26" height="6.16" fill="#85bdd9"/><rect x="480.84" y="172.08" width="6.26" height="6.16" fill="#7ab6d6"/><rect x="424.50" y="178.24" width="6.26" height="6.16" fill="#a5cfe3"/><rect x="430.76" y="178.24" width="6.26" height="6.16" fill="#d1e5f0"/><rect x="437.02" y="178.24" width="6.26" height="6.16" fill="#b2182b"/><rect x="443.28" y="178.24" width="6.26" height="6.16" fill="#eb9072"/><rect x="449.54" y="178.24" width="6.26" height="6.16" fill="#d6604d"/><rect x="455.80" y="178.24" width="6.26" height="6.16" fill="#8ac0db"/><rect x="462.06" y="178.24" width="6.26" height="6.16" fill="#91c5de"/><rect x="468.32" y="178.24" width="6.26" height="6.16" fill="#73b1d3"/><rect x="474.58" y="178.24" width="6.26" height="6.16" fill="#90c4dd"/><rect x="480.84" y="178.24" width="6.26" height="6.16" fill="#81bad8"/><rect x="424.50" y="184.40" width="6.26" height="6.16" fill="#d1e5f0"/><rect x="430.76" y="184.40" width="6.26" height="6.16" fill="#fddbc7"/><rect x="437.02" y="184.40" width="6.26" height="6.16" fill="#bd2e35"/><rect x="443.28" y="184.40" width="6.26" height="6.16" fill="#b2182b"/><rect x="449.54" y="184.40" width="6.26" height="6.16" fill="#fddbc7"/><rect x="455.80" y="184.40" width="6.26" height="6.16" fill="#79b5d5"/><rect x="462.06" y="184.40" width="6.26" height="6.16" fill="#75b2d4"/><rect x="468.32" y="184.40" width="6.26" height="6.16" fill="#8ec3dd"/><rect x="474.58" y="184.40" width="6.26" height="6.16" fill="#81bbd8"/><rect x="480.84" y="184.40" width="6.26" height="6.16" fill="#72b1d3"/><rect x="424.50" y="190.56" width="6.26" height="6.16" fill="#a5cfe3"/><rect x="430.76" y="190.56" width="6.26" height="6.16" fill="#facbb2"/><rect x="437.02" y="190.56" width="6.26" height="6.16" fill="#d6604d"/><rect x="443.28" y="190.56" width="6.26" height="6.16" fill="#b2182b"/><rect x="449.54" y="190.56" width="6.26" height="6.16" fill="#f4a582"/><rect x="455.80" y="190.56" width="6.26" height="6.16" fill="#7ab6d6"/><rect x="462.06" y="190.56" width="6.26" height="6.16" fill="#73b1d3"/><rect x="468.32" y="190.56" width="6.26" height="6.16" fill="#7cb7d6"/><rect x="474.58" y="190.56" width="6.26" height="6.16" fill="#77b4d5"/><rect x="480.84" y="190.56" width="6.26" height="6.16" fill="#81bad8"/><rect x="424.50" y="196.72" width="6.26" height="6.16" fill="#d1e5f0"/><rect x="430.76" y="196.72" width="6.26" height="6.16" fill="#f4a582"/><rect x="437.02" y="196.72" width="6.26" height="6.16" fill="#eb9072"/><rect x="443.28" y="196.72" width="6.26" height="6.16" fill="#9b1127"/><rect x="449.54" y="196.72" width="6.26" height="6.16" fill="#eb9072"/><rect x="455.80" y="196.72" width="6.26" height="6.16" fill="#74b2d4"/><rect x="462.06" y="196.72" width="6.26" height="6.16" fill="#71b0d3"/><rect x="468.32" y="196.72" width="6.26" height="6.16" fill="#8bc1dc"/><rect x="474.58" y="196.72" width="6.26" height="6.16" fill="#70afd2"/><rect x="480.84" y="196.72" width="6.26" height="6.16" fill="#97c7df"/><rect x="424.50" y="202.88" width="6.26" height="6.16" fill="#d1e5f0"/><rect x="430.76" y="202.88" width="6.26" height="6.16" fill="#facbb2"/><rect x="437.02" y="202.88" width="6.26" height="6.16" fill="#eb9072"/><rect x="443.28" y="202.88" width="6.26" height="6.16" fill="#cb4a43"/><rect x="449.54" y="202.88" width="6.26" height="6.16" fill="#cb4a43"/><rect x="455.80" y="202.88" width="6.26" height="6.16" fill="#d1e5f0"/><rect x="462.06" y="202.88" width="6.26" height="6.16" fill="#8dc2dc"/><rect x="468.32" y="202.88" width="6.26" height="6.16" fill="#75b3d4"/><rect x="474.58" y="202.88" width="6.26" height="6.16" fill="#a5cfe3"/><rect x="480.84" y="202.88" width="6.26" height="6.16" fill="#98c8e0"/><rect x="424.50" y="209.04" width="6.26" height="6.16" fill="#a5cfe3"/><rect x="430.76" y="209.04" width="6.26" height="6.16" fill="#f6e8e0"/><rect x="437.02" y="209.04" width="6.26" height="6.16" fill="#df755d"/><rect x="443.28" y="209.04" width="6.26" height="6.16" fill="#bd2e35"/><rect x="449.54" y="209.04" width="6.26" height="6.16" fill="#d6604d"/><rect x="455.80" y="209.04" width="6.26" height="6.16" fill="#a5cfe3"/><rect x="462.06" y="209.04" width="6.26" height="6.16" fill="#91c5de"/><rect x="468.32" y="209.04" width="6.26" height="6.16" fill="#97c7df"/><rect x="474.58" y="209.04" width="6.26" height="6.16" fill="#80b9d8"/><rect x="480.84" y="209.04" width="6.26" height="6.16" fill="#85bdda"/><rect x="424.50" y="215.20" width="6.26" height="6.16" fill="#f4a582"/><rect x="430.76" y="215.20" width="6.26" height="6.16" fill="#b2182b"/><rect x="437.02" y="215.20" width="6.26" height="6.16" fill="#fddbc7"/><rect x="443.28" y="215.20" width="6.26" height="6.16" fill="#f4a582"/><rect x="449.54" y="215.20" width="6.26" height="6.16" fill="#f4a582"/><rect x="455.80" y="215.20" width="6.26" height="6.16" fill="#88bfdb"/><rect x="462.06" y="215.20" width="6.26" height="6.16" fill="#a5cfe3"/><rect x="468.32" y="215.20" width="6.26" height="6.16" fill="#99c9e0"/><rect x="474.58" y="215.20" width="6.26" height="6.16" fill="#97c7df"/><rect x="480.84" y="215.20" width="6.26" height="6.16" fill="#7db8d7"/><rect x="424.50" y="221.36" width="6.26" height="6.16" fill="#f4a582"/><rect x="430.76" y="221.36" width="6.26" height="6.16" fill="#b2182b"/><rect x="437.02" y="221.36" width="6.26" height="6.16" fill="#d1e5f0"/><rect x="443.28" y="221.36" width="6.26" height="6.16" fill="#f4a582"/><rect x="449.54" y="221.36" width="6.26" height="6.16" fill="#eb9072"/><rect x="455.80" y="221.36" width="6.26" height="6.16" fill="#72b0d3"/><rect x="462.06" y="221.36" width="6.26" height="6.16" fill="#88bfdb"/><rect x="468.32" y="221.36" width="6.26" height="6.16" fill="#8ec3dd"/><rect x="474.58" y="221.36" width="6.26" height="6.16" fill="#73b2d4"/><rect x="480.84" y="221.36" width="6.26" height="6.16" fill="#94c6df"/><rect x="424.50" y="227.52" width="6.26" height="6.16" fill="#eb9072"/><rect x="430.76" y="227.52" width="6.26" height="6.16" fill="#eb9072"/><rect x="437.02" y="227.52" width="6.26" height="6.16" fill="#df755d"/><rect x="443.28" y="227.52" width="6.26" height="6.16" fill="#fddbc7"/><rect x="449.54" y="227.52" width="6.26" height="6.16" fill="#eb9072"/><rect x="455.80" y="227.52" width="6.26" height="6.16" fill="#74b2d4"/><rect x="462.06" y="227.52" width="6.26" height="6.16" fill="#8cc1dc"/><rect x="468.32" y="227.52" width="6.26" height="6.16" fill="#8fc3dd"/><rect x="474.58" y="227.52" width="6.26" height="6.16" fill="#83bcd9"/><rect x="480.84" y="227.52" width="6.26" height="6.16" fill="#98c8e0"/><rect x="424.50" y="233.68" width="6.26" height="6.16" fill="#d6604d"/><rect x="430.76" y="233.68" width="6.26" height="6.16" fill="#f4a582"/><rect x="437.02" y="233.68" width="6.26" height="6.16" fill="#facbb2"/><rect x="443.28" y="233.68" width="6.26" height="6.16" fill="#fddbc7"/><rect x="449.54" y="233.68" width="6.26" height="6.16" fill="#f4a582"/><rect x="455.80" y="233.68" width="6.26" height="6.16" fill="#7cb7d6"/><rect x="462.06" y="233.68" width="6.26" height="6.16" fill="#84bcd9"/><rect x="468.32" y="233.68" width="6.26" height="6.16" fill="#75b3d4"/><rect x="474.58" y="233.68" width="6.26" height="6.16" fill="#8cc1dc"/><rect x="480.84" y="233.68" width="6.26" height="6.16" fill="#98c8e0"/><rect x="424.50" y="239.84" width="6.26" height="6.16" fill="#f4a582"/><rect x="430.76" y="239.84" width="6.26" height="6.16" fill="#dbe8ee"/><rect x="437.02" y="239.84" width="6.26" height="6.16" fill="#f4a582"/><rect x="443.28" y="239.84" width="6.26" height="6.16" fill="#d6604d"/><rect x="449.54" y="239.84" width="6.26" height="6.16" fill="#d6604d"/><rect x="455.80" y="239.84" width="6.26" height="6.16" fill="#a5cfe3"/><rect x="462.06" y="239.84" width="6.26" height="6.16" fill="#70afd2"/><rect x="468.32" y="239.84" width="6.26" height="6.16" fill="#d1e5f0"/><rect x="474.58" y="239.84" width="6.26" height="6.16" fill="#61a6cd"/><rect x="480.84" y="239.84" width="6.26" height="6.16" fill="#96c7df"/><rect x="424.50" y="246.00" width="6.26" height="6.16" fill="#f7b597"/><rect x="430.76" y="246.00" width="6.26" height="6.16" fill="#f4a582"/><rect x="437.02" y="246.00" width="6.26" height="6.16" fill="#facbb2"/><rect x="443.28" y="246.00" width="6.26" height="6.16" fill="#d6604d"/><rect x="449.54" y="246.00" width="6.26" height="6.16" fill="#d6604d"/><rect x="455.80" y="246.00" width="6.26" height="6.16" fill="#71b0d3"/><rect x="462.06" y="246.00" width="6.26" height="6.16" fill="#70afd2"/><rect x="468.32" y="246.00" width="6.26" height="6.16" fill="#76b3d4"/><rect x="474.58" y="246.00" width="6.26" height="6.16" fill="#99c9e0"/><rect x="480.84" y="246.00" width="6.26" height="6.16" fill="#96c7df"/><rect x="424.50" y="252.16" width="6.26" height="6.16" fill="#f3eeeb"/><rect x="430.76" y="252.16" width="6.26" height="6.16" fill="#df755d"/><rect x="437.02" y="252.16" width="6.26" height="6.16" fill="#f4a582"/><rect x="443.28" y="252.16" width="6.26" height="6.16" fill="#d6604d"/><rect x="449.54" y="252.16" width="6.26" height="6.16" fill="#eb9072"/><rect x="455.80" y="252.16" width="6.26" height="6.16" fill="#8ec2dd"/><rect x="462.06" y="252.16" width="6.26" height="6.16" fill="#8fc3dd"/><rect x="468.32" y="252.16" width="6.26" height="6.16" fill="#81bad8"/><rect x="474.58" y="252.16" width="6.26" height="6.16" fill="#89bfdb"/><rect x="480.84" y="252.16" width="6.26" height="6.16" fill="#95c6df"/><rect x="424.50" y="258.32" width="6.26" height="6.16" fill="#d1e5f0"/><rect x="430.76" y="258.32" width="6.26" height="6.16" fill="#9b1127"/><rect x="437.02" y="258.32" width="6.26" height="6.16" fill="#df755d"/><rect x="443.28" y="258.32" width="6.26" height="6.16" fill="#fddbc7"/><rect x="449.54" y="258.32" width="6.26" height="6.16" fill="#fddbc7"/><rect x="455.80" y="258.32" width="6.26" height="6.16" fill="#f3eeeb"/><rect x="462.06" y="258.32" width="6.26" height="6.16" fill="#82bbd9"/><rect x="468.32" y="258.32" width="6.26" height="6.16" fill="#80bad8"/><rect x="474.58" y="258.32" width="6.26" height="6.16" fill="#7cb7d6"/><rect x="480.84" y="258.32" width="6.26" height="6.16" fill="#82bbd9"/><rect x="424.50" y="264.48" width="6.26" height="6.16" fill="#fddbc7"/><rect x="430.76" y="264.48" width="6.26" height="6.16" fill="#df755d"/><rect x="437.02" y="264.48" width="6.26" height="6.16" fill="#bd2e35"/><rect x="443.28" y="264.48" width="6.26" height="6.16" fill="#facbb2"/><rect x="449.54" y="264.48" width="6.26" height="6.16" fill="#facbb2"/><rect x="455.80" y="264.48" width="6.26" height="6.16" fill="#88beda"/><rect x="462.06" y="264.48" width="6.26" height="6.16" fill="#83bcd9"/><rect x="468.32" y="264.48" width="6.26" height="6.16" fill="#a5cfe3"/><rect x="474.58" y="264.48" width="6.26" height="6.16" fill="#7ab6d6"/><rect x="480.84" y="264.48" width="6.26" height="6.16" fill="#83bcd9"/><rect x="424.50" y="270.64" width="6.26" height="6.16" fill="#a5cfe3"/><rect x="430.76" y="270.64" width="6.26" height="6.16" fill="#d6604d"/><rect x="437.02" y="270.64" width="6.26" height="6.16" fill="#9b1127"/><rect x="443.28" y="270.64" width="6.26" height="6.16" fill="#f4a582"/><rect x="449.54" y="270.64" width="6.26" height="6.16" fill="#f4a582"/><rect x="455.80" y="270.64" width="6.26" height="6.16" fill="#76b3d5"/><rect x="462.06" y="270.64" width="6.26" height="6.16" fill="#79b5d6"/><rect x="468.32" y="270.64" width="6.26" height="6.16" fill="#75b3d4"/><rect x="474.58" y="270.64" width="6.26" height="6.16" fill="#76b4d5"/><rect x="480.84" y="270.64" width="6.26" height="6.16" fill="#81bad8"/><rect x="424.50" y="276.80" width="6.26" height="6.16" fill="#f4a582"/><rect x="430.76" y="276.80" width="6.26" height="6.16" fill="#f4a582"/><rect x="437.02" y="276.80" width="6.26" height="6.16" fill="#facbb2"/><rect x="443.28" y="276.80" width="6.26" height="6.16" fill="#f4a582"/><rect x="449.54" y="276.80" width="6.26" height="6.16" fill="#f4a582"/><rect x="455.80" y="276.80" width="6.26" height="6.16" fill="#fddbc7"/><rect x="462.06" y="276.80" width="6.26" height="6.16" fill="#61a6cd"/><rect x="468.32" y="276.80" width="6.26" height="6.16" fill="#61a6cd"/><rect x="474.58" y="276.80" width="6.26" height="6.16" fill="#a5cfe3"/><rect x="480.84" y="276.80" width="6.26" height="6.16" fill="#8fc3dd"/><rect x="424.50" y="282.96" width="6.26" height="6.16" fill="#fddbc7"/><rect x="430.76" y="282.96" width="6.26" height="6.16" fill="#df755d"/><rect x="437.02" y="282.96" width="6.26" height="6.16" fill="#fddbc7"/><rect x="443.28" y="282.96" width="6.26" height="6.16" fill="#df755d"/><rect x="449.54" y="282.96" width="6.26" height="6.16" fill="#f4a582"/><rect x="455.80" y="282.96" width="6.26" height="6.16" fill="#f6e8e0"/><rect x="462.06" y="282.96" width="6.26" height="6.16" fill="#61a6cd"/><rect x="468.32" y="282.96" width="6.26" height="6.16" fill="#80bad8"/><rect x="474.58" y="282.96" width="6.26" height="6.16" fill="#8bc1dc"/><rect x="480.84" y="282.96" width="6.26" height="6.16" fill="#61a6cd"/><rect x="424.50" y="289.12" width="6.26" height="6.16" fill="#d1e5f0"/><rect x="430.76" y="289.12" width="6.26" height="6.16" fill="#df755d"/><rect x="437.02" y="289.12" width="6.26" height="6.16" fill="#d6604d"/><rect x="443.28" y="289.12" width="6.26" height="6.16" fill="#facbb2"/><rect x="449.54" y="289.12" width="6.26" height="6.16" fill="#f4a582"/><rect x="455.80" y="289.12" width="6.26" height="6.16" fill="#fddbc7"/><rect x="462.06" y="289.12" width="6.26" height="6.16" fill="#70afd2"/><rect x="468.32" y="289.12" width="6.26" height="6.16" fill="#83bcd9"/><rect x="474.58" y="289.12" width="6.26" height="6.16" fill="#84bcd9"/><rect x="480.84" y="289.12" width="6.26" height="6.16" fill="#83bcd9"/></g>
<rect x="424.5" y="119.1" width="31.3" height="2.7" fill="#0d4d8c"/><rect x="455.8" y="119.1" width="31.3" height="2.7" fill="#c8102e"/>
<g font-family="Liberation Sans, Arial, Helvetica, sans-serif" font-size="6.0" fill="#111" stroke="#111" stroke-width="0.15">
<text x="489.1" y="128.28">Psma3</text>
<text x="489.1" y="134.44">Psmb5</text>
<text x="489.1" y="140.60">Psmb7</text>
<text x="489.1" y="146.76">Ecm29</text>
<text x="489.1" y="152.92">Psmb3</text>
<text x="489.1" y="159.08">Pitrm1</text>
<text x="489.1" y="165.24">Psmd12</text>
<text x="489.1" y="171.40">Psme2</text>
<text x="489.1" y="177.56">Psmd1</text>
<text x="489.1" y="183.72">Clpx</text>
<text x="489.1" y="189.88">Psmc6</text>
<text x="489.1" y="196.04">Psmd4</text>
<text x="489.1" y="202.20">Psmd11</text>
<text x="489.1" y="208.36">Psmd8</text>
<text x="489.1" y="214.52">Psmf1</text>
<text x="489.1" y="220.68">Psmb4</text>
<text x="489.1" y="226.84">Psma1</text>
<text x="489.1" y="233.00">Psmd2</text>
<text x="489.1" y="239.16">Lonp1</text>
<text x="489.1" y="245.32">Psme3</text>
<text x="489.1" y="251.48">Psmd6</text>
<text x="489.1" y="257.64">Yme1l1</text>
<text x="489.1" y="263.80">Psmd13</text>
<text x="489.1" y="269.96">Psmc1</text>
<text x="489.1" y="276.12">Psma7</text>
<text x="489.1" y="282.28">Psmc5</text>
<text x="489.1" y="288.44">Psmb2</text>
<text x="489.1" y="294.60">Psma5</text>
</g>
<g font-family="Liberation Sans, Arial, Helvetica, sans-serif" font-size="9.4" fill="#111" stroke="#111" stroke-width="0.2"><text x="428" y="116.6" textLength="23.3" lengthAdjust="spacingAndGlyphs">E10.5</text><text x="458.4" y="116.6" textLength="23.6" lengthAdjust="spacingAndGlyphs">E12.5</text></g>
<defs><linearGradient id="cb" x1="0" x2="1" y1="0" y2="0">
<stop offset="0.00" stop-color="#053061"/>
<stop offset="0.10" stop-color="#2166ac"/>
<stop offset="0.20" stop-color="#4393c3"/>
<stop offset="0.30" stop-color="#92c5de"/>
<stop offset="0.40" stop-color="#d1e5f0"/>
<stop offset="0.50" stop-color="#f3eeeb"/>
<stop offset="0.60" stop-color="#fddbc7"/>
<stop offset="0.70" stop-color="#f4a582"/>
<stop offset="0.80" stop-color="#d6604d"/>
<stop offset="0.90" stop-color="#b2182b"/>
<stop offset="1.00" stop-color="#67001f"/>
</linearGradient></defs>
<rect x="439.6" y="306.3" width="62.1" height="3.9" fill="url(#cb)"/>
<g font-family="Liberation Sans, Arial, Helvetica, sans-serif" font-size="7.4" fill="#111" stroke="#111" stroke-width="0.12" text-anchor="middle"><text x="441" y="317.8">−2</text><text x="470.4" y="317.8">0</text><text x="499.4" y="317.8">2</text></g>
<g stroke="#9aa0aa" stroke-width="0.35" stroke-opacity="0.6">
<line x1="508.8" x2="512.9" y1="36.75" y2="36.75"/>
<line x1="508" x2="512.8" y1="340.05" y2="340.05"/>
<line x1="508.8" x2="512.9" y1="43.00" y2="43.00"/>
<line x1="508" x2="512.8" y1="345.40" y2="345.40"/>
<line x1="508.8" x2="512.9" y1="49.25" y2="49.25"/>
<line x1="508" x2="512.8" y1="350.75" y2="350.75"/>
<line x1="508.8" x2="512.9" y1="55.50" y2="55.50"/>
<line x1="508" x2="512.8" y1="356.10" y2="356.10"/>
<line x1="508.8" x2="512.9" y1="61.75" y2="61.75"/>
<line x1="508" x2="512.8" y1="361.45" y2="361.45"/>
<line x1="508.8" x2="512.9" y1="68.00" y2="68.00"/>
<line x1="508" x2="512.8" y1="366.80" y2="366.80"/>
<line x1="508.8" x2="512.9" y1="74.25" y2="74.25"/>
<line x1="508" x2="512.8" y1="372.15" y2="372.15"/>
<line x1="508.8" x2="512.9" y1="80.50" y2="80.50"/>
<line x1="508" x2="512.8" y1="377.50" y2="377.50"/>
<line x1="508.8" x2="512.9" y1="86.75" y2="86.75"/>
<line x1="508" x2="512.8" y1="382.85" y2="382.85"/>
<line y1="190.2" y2="192.5" x1="38.03" x2="38.03"/>
<line y1="119.1" y2="121.8" x1="430.76" x2="430.76"/>
<line y1="190.2" y2="192.5" x1="44.26" x2="44.26"/>
<line y1="119.1" y2="121.8" x1="437.02" x2="437.02"/>
<line y1="190.2" y2="192.5" x1="50.49" x2="50.49"/>
<line y1="119.1" y2="121.8" x1="443.28" x2="443.28"/>
<line y1="190.2" y2="192.5" x1="56.72" x2="56.72"/>
<line y1="119.1" y2="121.8" x1="449.54" x2="449.54"/>
<line y1="190.2" y2="192.5" x1="62.95" x2="62.95"/>
<line y1="119.1" y2="121.8" x1="455.80" x2="455.80"/>
<line y1="190.2" y2="192.5" x1="69.18" x2="69.18"/>
<line y1="119.1" y2="121.8" x1="462.06" x2="462.06"/>
<line y1="190.2" y2="192.5" x1="75.41" x2="75.41"/>
<line y1="119.1" y2="121.8" x1="468.32" x2="468.32"/>
<line y1="190.2" y2="192.5" x1="81.64" x2="81.64"/>
<line y1="119.1" y2="121.8" x1="474.58" x2="474.58"/>
<line y1="190.2" y2="192.5" x1="87.87" x2="87.87"/>
<line y1="119.1" y2="121.8" x1="480.84" x2="480.84"/>
</g>
<g stroke="#9a9a9a" stroke-width="0.6" fill="none">
<line x1="111.5" y1="93" x2="137.5" y2="147.5"/>
<line x1="506.7" y1="93" x2="185" y2="149.5"/>
<line x1="424.5" y1="121" x2="397.5" y2="148.75"/>
<line x1="424.5" y1="295.5" x2="396.75" y2="204.5"/>
<line x1="94.1" y1="192.7" x2="137.5" y2="267"/>
<line x1="94.1" y1="316.6" x2="152" y2="321.5"/>
<line x1="8.1" y1="334.7" x2="343.5" y2="317.5"/>
<line x1="505.2" y1="334.7" x2="393.75" y2="317.5"/>
</g>
<defs>
<linearGradient id="arr" x1="0" x2="0" y1="0" y2="1"><stop offset="0" stop-color="#fbd3d6"/><stop offset="0.55" stop-color="#e8747a"/><stop offset="1" stop-color="#c4262e"/></linearGradient>
<filter id="bl" x="-20%" y="-20%" width="140%" height="140%"><feGaussianBlur stdDeviation="0.7"/></filter>
<filter id="bl2" x="-20%" y="-20%" width="140%" height="140%"><feGaussianBlur stdDeviation="0.35"/></filter>
<clipPath id="cpg"><path id="pg" d="M157.42 143.88 C160.26 142.49 158.73 143.10 162.00 142.97 C165.27 142.84 163.96 142.53 167.23 143.49 C170.50 144.45 169.41 143.75 171.81 145.85 C174.21 147.94 172.68 146.94 174.42 149.77 C176.17 152.60 175.30 151.73 177.04 154.35 C178.78 156.96 178.48 154.78 179.65 157.62 C180.83 160.45 180.57 159.36 180.57 162.85 C180.57 166.33 181.05 165.24 179.65 168.08 C178.26 170.91 179.00 169.82 176.38 171.35 C173.77 172.87 174.86 172.35 171.81 172.65 C168.76 172.96 170.06 172.92 167.23 172.26 C164.40 171.61 165.92 170.34 163.31 170.69 C160.69 171.04 161.78 171.56 159.38 173.31 C156.99 175.05 158.73 175.27 156.12 175.92 C153.50 176.58 154.37 176.36 151.54 175.27 C148.71 174.18 149.80 174.62 147.62 172.65 C145.44 170.69 147.18 170.82 145.00 169.38 C142.82 167.95 143.47 169.86 141.08 168.34 C138.68 166.81 139.03 167.51 137.81 164.81 C136.59 162.11 136.76 162.85 137.42 160.23 C138.07 157.62 137.46 158.71 139.77 156.96 C142.08 155.22 141.08 156.09 144.35 155.00 C147.62 153.91 147.40 155.22 149.58 153.69 C151.76 152.17 149.58 152.60 150.88 150.42 C152.19 148.24 151.32 149.33 153.50 147.15 C155.68 144.97 154.59 145.28 157.42 143.88 Z"/></clipPath>
<clipPath id="cpb"><path id="pb" d="M140.42 172.00 C142.38 170.69 142.60 171.56 145.00 170.69 C147.40 169.82 144.56 170.04 147.62 169.38 C150.67 168.73 148.92 168.95 154.15 168.73 C159.38 168.51 157.42 168.08 163.31 168.73 C169.19 169.38 167.45 169.82 171.81 170.69 C176.17 171.56 173.55 171.00 176.38 171.35 C179.22 171.70 178.35 170.65 180.31 171.74 C182.27 172.83 181.49 172.35 182.27 174.62 C183.05 176.88 182.88 175.71 182.66 178.54 C182.44 181.37 182.84 180.28 181.62 183.12 C180.40 185.95 181.40 184.86 179.00 187.04 C176.60 189.22 177.47 188.35 174.42 189.65 C171.37 190.96 172.90 190.31 169.85 190.96 C166.80 191.62 168.10 191.31 165.27 191.62 C162.44 191.92 163.96 192.31 161.35 191.88 C158.73 191.44 160.26 191.05 157.42 190.31 C154.59 189.57 155.90 190.31 152.85 189.65 C149.80 189.00 151.32 189.44 148.27 188.35 C145.22 187.26 146.53 188.13 143.69 186.38 C140.86 184.64 141.51 185.73 139.77 183.12 C138.03 180.50 138.68 181.37 138.46 178.54 C138.24 175.71 138.46 176.80 139.12 174.62 C139.77 172.44 138.46 173.31 140.42 172.00 Z"/></clipPath>
<clipPath id="cps"><path id="ps" d="M147.62 274.00 C148.49 272.26 149.58 272.39 152.19 272.04 C154.81 271.69 155.33 271.65 157.42 272.69 C159.52 273.74 158.47 274.22 160.04 275.96 C161.61 277.71 161.39 277.84 163.31 279.23 C165.23 280.63 165.14 279.97 167.23 281.19 C169.32 282.41 168.71 283.28 171.15 283.81 C173.60 284.33 174.12 282.28 176.38 283.15 C178.65 284.03 179.31 284.98 179.65 287.08 C180.00 289.17 179.44 289.26 177.69 291.00 C175.95 292.74 173.64 292.22 173.12 293.62 C172.59 295.01 173.99 295.01 175.73 296.23 C177.47 297.45 178.78 296.45 179.65 298.19 C180.53 299.94 180.40 300.85 179.00 302.77 C177.61 304.69 176.86 305.38 174.42 305.38 C171.98 305.38 172.11 302.94 169.85 302.77 C167.58 302.60 167.67 303.34 165.92 304.73 C164.18 306.13 165.23 307.30 163.31 308.00 C161.39 308.70 161.00 308.57 158.73 307.35 C156.46 306.13 156.20 305.52 154.81 303.42 C153.41 301.33 155.07 300.37 153.50 299.50 C151.93 298.63 151.19 300.33 148.92 300.15 C146.66 299.98 146.05 300.42 145.00 298.85 C143.95 297.28 144.30 296.36 145.00 294.27 C145.70 292.18 145.70 292.22 147.62 291.00 C149.53 289.78 150.45 291.09 152.19 289.69 C153.94 288.30 154.33 287.86 154.15 285.77 C153.98 283.68 152.93 283.76 151.54 281.85 C150.14 279.93 149.97 280.67 148.92 278.58 C147.88 276.48 146.74 275.74 147.62 274.00 Z"/></clipPath>
</defs>
<circle cx="54.9" cy="47.6" r="18.2" fill="#4e6fd3"/><circle cx="54.9" cy="47.6" r="17.4" fill="none" stroke="#6f8ee6" stroke-width="1.2"/>
<circle cx="55.8" cy="48" r="14.2" fill="#1e3d7b"/>
<g font-family="Liberation Sans, Arial, Helvetica, sans-serif" font-size="9.4" fill="#111" stroke="#111" stroke-width="0.2" lengthAdjust="spacingAndGlyphs">
<text transform="translate(32.6,62.8) rotate(-90)" textLength="23.6" lengthAdjust="spacingAndGlyphs">E10.5</text>
<text x="41.5" y="76.7" textLength="25.8" lengthAdjust="spacingAndGlyphs">BasoE</text>
<text transform="translate(37,145.9) rotate(-90)" textLength="23" lengthAdjust="spacingAndGlyphs">E12.5</text>
<text x="40.8" y="158.8" textLength="28.1" lengthAdjust="spacingAndGlyphs">OrthoE</text>
</g>
<path d="M52.2 81 H59.9 V111 H63.6 L56 118.5 L48.2 111 H52.2 Z" fill="url(#arr)"/>
<circle cx="54.9" cy="134.6" r="13.1" fill="#f5c3c6"/><circle cx="54.9" cy="134.6" r="12.6" fill="none" stroke="#f2b3b7" stroke-width="0.9"/>
<circle cx="53.5" cy="135.4" r="6.6" fill="#efaeb3"/><circle cx="53.5" cy="135.4" r="5.6" fill="#eaa2a8"/>
<circle cx="267.8" cy="243.9" r="66.8" fill="#eee8f6" stroke="#b7a3db" stroke-width="2.4"/>
<circle cx="267.8" cy="243.9" r="64.4" fill="none" stroke="#dccfee" stroke-width="1.8"/>
<path d="M274.56 194.05 A22.80 22.80 0 1 1 262.06 237.64" fill="none" stroke="#5746a0" stroke-width="2.6" stroke-dasharray="12.0 3.2 13.4 3.3 12.9 3.3 7.2 3.1 14.5 3.2 14.2 3.0" stroke-linecap="round"/>
<path d="M276.87 191.37 A25.90 25.90 0 0 1 264.33 241.63" fill="none" stroke="#5746a0" stroke-width="2.6" stroke-dasharray="10.8 3.0 11.4 3.2 7.1 3.0 9.2 3.3 13.1 3.0 13.4 3.0" stroke-linecap="round"/>
<path d="M280.52 189.25 A29.00 29.00 0 0 1 267.57 245.34" fill="none" stroke="#5746a0" stroke-width="2.6" stroke-dasharray="11.9 3.0 7.0 3.3 8.7 3.0 14.9 3.3 9.3 3.3 11.3 3.2" stroke-linecap="round"/>
<path d="M286.65 188.70 A32.10 32.10 0 0 1 272.84 248.52" fill="none" stroke="#5746a0" stroke-width="2.6" stroke-dasharray="8.6 3.3 12.5 3.3 14.1 3.1 9.9 3.0 8.2 3.0 9.4 3.2" stroke-linecap="round"/>
<path d="M295.05 191.18 A35.20 35.20 0 0 1 281.48 249.98" fill="none" stroke="#5746a0" stroke-width="2.6" stroke-dasharray="7.0 3.2 9.7 3.1 13.5 3.1 9.5 3.1 12.6 3.0 14.8 3.0" stroke-linecap="round"/>
<path d="M302.27 195.14 A38.20 38.20 0 0 1 291.96 248.17" fill="none" stroke="#5746a0" stroke-width="2.6" stroke-dasharray="13.0 3.2 7.1 3.2 9.9 3.2 7.1 3.0 8.4 3.3 8.6 3.2" stroke-linecap="round"/>
<path d="M276.49 192.87 A24.35 24.35 0 0 1 264.71 240.13" fill="none" stroke="#e6def4" stroke-width="0.5" stroke-dasharray="0.6 0.9"/>
<path d="M279.99 190.71 A27.45 27.45 0 0 1 267.73 243.80" fill="none" stroke="#e6def4" stroke-width="0.5" stroke-dasharray="0.6 0.9"/>
<path d="M285.88 190.04 A30.55 30.55 0 0 1 272.73 246.98" fill="none" stroke="#e6def4" stroke-width="0.5" stroke-dasharray="0.6 0.9"/>
<path d="M293.98 192.29 A33.65 33.65 0 0 1 281.00 248.50" fill="none" stroke="#e6def4" stroke-width="0.5" stroke-dasharray="0.6 0.9"/>
<path d="M301.03 195.98 A36.70 36.70 0 0 1 291.12 246.93" fill="none" stroke="#e6def4" stroke-width="0.5" stroke-dasharray="0.6 0.9"/>
<path d="M250.77 227.95 A22.90 22.90 0 0 1 267.41 193.82" fill="none" stroke="#5746a0" stroke-width="2.3" stroke-dasharray="6.7 3.2 4.4 2.9 5.1 3.1 3.4 3.1 6.2 3.1" stroke-linecap="round"/>
<path d="M246.77 226.13 A25.70 25.70 0 0 1 261.81 192.35" fill="none" stroke="#5746a0" stroke-width="2.3" stroke-dasharray="3.1 3.2 3.4 2.9 5.4 3.2 4.4 3.2 5.2 2.9" stroke-linecap="round"/>
<path d="M242.48 220.45 A28.40 28.40 0 0 1 253.12 194.12" fill="none" stroke="#5746a0" stroke-width="2.3" stroke-dasharray="4.3 2.8 3.3 2.8 5.8 3.2 3.6 2.7 6.9 3.0" stroke-linecap="round"/>
<path d="M262.02 237.73 A22.90 22.90 0 0 1 250.77 227.95" fill="none" stroke="#5746a0" stroke-width="2.2" stroke-dasharray="4.6 2.8 5.4 3.1 4.8 2.9 3.2 3.2 3.1 2.9" stroke-linecap="round"/>
<path d="M262.66 240.94 A25.70 25.70 0 0 1 250.35 232.32" fill="none" stroke="#5746a0" stroke-width="2.2" stroke-dasharray="6.4 2.8 5.9 3.2 5.5 3.1 3.4 2.9 3.6 3.1" stroke-linecap="round"/>
<path d="M263.73 244.06 A28.40 28.40 0 0 1 250.87 236.93" fill="none" stroke="#5746a0" stroke-width="2.2" stroke-dasharray="4.2 2.9 7.0 3.1 6.9 2.9 5.0 3.1 4.9 2.8" stroke-linecap="round"/>
<path d="M265.22 247.03 A31.00 31.00 0 0 1 253.27 242.20" fill="none" stroke="#5746a0" stroke-width="2.2" stroke-dasharray="4.6 2.8 4.5 3.2 6.8 3.0 5.0 2.9 3.4 2.8" stroke-linecap="round"/>
<circle cx="270.6" cy="216.5" r="20.2" fill="#a893d4" stroke="#917bc8" stroke-width="1.1"/>
<g filter="url(#bl2)"><circle cx="277" cy="222" r="8" fill="#b7a5de" opacity="0.7"/><circle cx="278" cy="208" r="5" fill="#b7a5de" opacity="0.6"/><circle cx="262" cy="228" r="4" fill="#b7a5de" opacity="0.6"/></g>
<circle cx="265.4" cy="214.6" r="6.2" fill="#7557bb"/>
<g fill="none" stroke="#9079c8" stroke-width="0.7"><path d="M273 205 q5 -2 8 2 q2 4 -2 6"/><path d="M276 222 q4 0 6 -3 q1 4 -2 7"/><path d="M268 228 q4 3 9 1"/><path d="M280 212 q3 3 2 7"/><path d="M258 224 q2 4 6 4"/></g>
<g fill="#a48cd4">
<rect x="275.00" y="253.80" width="6.00" height="2.40" rx="1.20" transform="rotate(-22 278 255)"/>
<rect x="281.90" y="250.90" width="5.20" height="2.20" rx="1.10" transform="rotate(-28 284.5 252)"/>
<rect x="288.50" y="247.90" width="5.00" height="2.20" rx="1.10" transform="rotate(-22 291 249)"/>
<rect x="295.00" y="245.50" width="4.00" height="2.00" rx="1.00" transform="rotate(-25 297 246.5)"/>
<rect x="278.90" y="258.50" width="4.20" height="2.00" rx="1.00" transform="rotate(-10 281 259.5)"/>
<rect x="285.40" y="255.50" width="4.20" height="2.00" rx="1.00" transform="rotate(-30 287.5 256.5)"/>
<rect x="291.70" y="252.55" width="3.60" height="1.90" rx="0.95" transform="rotate(-25 293.5 253.5)"/>
<rect x="273.00" y="258.15" width="3.00" height="1.70" rx="0.85" transform="rotate(0 274.5 259)"/>
<rect x="298.70" y="249.70" width="2.60" height="1.60" rx="0.80" transform="rotate(-25 300 250.5)"/>
<rect x="260.50" y="248.75" width="3.00" height="1.50" rx="0.75" transform="rotate(0 262 249.5)"/>
<rect x="255.80" y="246.35" width="2.40" height="1.30" rx="0.65" transform="rotate(0 257 247)"/>
</g>
<g fill="none" stroke="#a78fd4" stroke-width="2.5" stroke-linecap="round">
<path d="M285.23 268.85 C288.04 268.31 288.65 269.08 293.65 267.23 C298.65 265.38 296.88 265.08 300.23 263.31 C303.58 261.54 302.54 262.38 303.69 261.92"/>
<path d="M279.00 273.00 C282.15 272.38 281.85 272.92 288.46 271.15 C295.08 269.38 292.50 269.73 298.85 267.69 C305.19 265.65 302.65 265.27 307.50 265.04 C312.34 264.81 311.42 266.35 313.38 267.00"/>
<path d="M280.61 281.31 C282.85 279.65 282.00 278.96 287.31 276.34 C292.61 273.73 290.77 274.77 296.54 273.46 C302.31 272.15 300.00 272.42 304.61 272.42 C309.23 272.42 308.46 273.11 310.38 273.46"/>
<path d="M282.00 284.54 C284.15 282.81 283.61 281.84 288.46 279.34 C293.31 276.84 291.15 278.00 296.54 277.04 C301.92 276.08 301.92 276.65 304.61 276.46"/>
<path d="M290.42 284.54 C291.38 283.38 290.50 282.81 293.31 281.08 C296.11 279.34 295.15 279.77 298.85 279.34 C302.54 278.92 302.54 279.65 304.38 279.81"/>
<path d="M295.04 284.54 C295.92 283.77 295.73 283.19 297.69 282.23 C299.65 281.27 299.85 281.84 300.92 281.65"/>
</g>
<g fill="#a78fd4">
<circle cx="283.3" cy="265.6" r="1.25"/>
<circle cx="288.5" cy="289.0" r="1.25"/>
<circle cx="300.6" cy="283.4" r="1.25"/>
<circle cx="307.5" cy="278.1" r="1.25"/>
<circle cx="306.3" cy="258.5" r="1.25"/>
<circle cx="304.8" cy="276.7" r="1.25"/>
</g>
<g transform="translate(245.6 193.8) rotate(-36)">
<rect x="-9.0" y="-3.9" width="18.0" height="7.8" rx="3.9" fill="#f6d3dc" stroke="#d77c94" stroke-width="1.1"/>
<path d="M-6.4 2.9 V-1.3 M-4.1 -2.9 V1.3 M-1.8 2.9 V-1.3 M0.5 -2.9 V1.3 M2.8 2.9 V-1.3 M5.1 -2.9 V1.3 " stroke="#d77c94" stroke-width="0.9" fill="none"/>
</g>
<g transform="translate(229.5 267) rotate(36)">
<rect x="-9.8" y="-4.3" width="19.5" height="8.6" rx="4.3" fill="#f6d3dc" stroke="#d77c94" stroke-width="1.1"/>
<path d="M-7.2 3.3 V-1.7 M-4.9 -3.3 V1.7 M-2.6 3.3 V-1.7 M-0.3 -3.3 V1.7 M2.0 3.3 V-1.7 M4.3 -3.3 V1.7 " stroke="#d77c94" stroke-width="0.9" fill="none"/>
</g>
<circle cx="231.5" cy="212" r="4.4" fill="#ef8d8d" stroke="#dc4848" stroke-width="1.1"/><circle cx="231.5" cy="212" r="2.112" fill="#c62828"/>
<circle cx="242.5" cy="257.5" r="4.4" fill="#ef8d8d" stroke="#dc4848" stroke-width="1.1"/><circle cx="242.5" cy="257.5" r="2.112" fill="#c62828"/>
<circle cx="247" cy="278.8" r="4.6" fill="#ef8d8d" stroke="#dc4848" stroke-width="1.1"/><circle cx="247" cy="278.8" r="2.2079999999999997" fill="#c62828"/>
<circle cx="240.2" cy="235.8" r="6.6" fill="#fdf3f1" stroke="#e26a6a" stroke-width="1.2"/>
<circle cx="237.8" cy="234.0" r="0.9" fill="#d94a4a"/>
<circle cx="241.8" cy="233.2" r="0.9" fill="#d94a4a"/>
<circle cx="243.0" cy="236.6" r="0.9" fill="#d94a4a"/>
<circle cx="239.8" cy="236.2" r="0.9" fill="#d94a4a"/>
<circle cx="237.6" cy="238.0" r="0.9" fill="#d94a4a"/>
<circle cx="241.0" cy="238.8" r="0.9" fill="#d94a4a"/>
<circle cx="263.4" cy="292.7" r="6.6" fill="#fdf3f1" stroke="#e26a6a" stroke-width="1.2"/>
<circle cx="261.0" cy="290.9" r="0.9" fill="#d94a4a"/>
<circle cx="265.0" cy="290.1" r="0.9" fill="#d94a4a"/>
<circle cx="266.2" cy="293.5" r="0.9" fill="#d94a4a"/>
<circle cx="263.0" cy="293.1" r="0.9" fill="#d94a4a"/>
<circle cx="260.8" cy="294.9" r="0.9" fill="#d94a4a"/>
<circle cx="264.2" cy="295.7" r="0.9" fill="#d94a4a"/>
<circle cx="219.2" cy="208.7" r="1.1" fill="#ef7d7d"/>
<circle cx="210.9" cy="222.8" r="1.1" fill="#ef7d7d"/>
<circle cx="219.8" cy="221" r="1.1" fill="#ef7d7d"/>
<circle cx="232.5" cy="250.5" r="1.1" fill="#ef7d7d"/>
<g stroke="#1d2f6f" stroke-width="0.9" fill="none">
<line x1="193.7" y1="176.3" x2="253.8" y2="193.6"/>
<line x1="191.3" y1="276.3" x2="253" y2="246.4"/>
<line x1="345" y1="202.5" x2="330.8" y2="214.2"/>
<line x1="328.8" y1="257.2" x2="345" y2="272.5"/>
</g>
<g fill="#f4f5fc" fill-opacity="0.18" stroke="#1d2f6f" stroke-width="1.1">
<circle cx="264.8" cy="196.9" r="11.6"/><circle cx="264.2" cy="241.2" r="12.1"/>
</g>
<g fill="#eef1fa" stroke="#1d2f6f" stroke-width="1.1"><circle cx="321.5" cy="222.4" r="12.4"/><circle cx="319.6" cy="249" r="12.4"/></g>
<g transform="translate(321.5 223.2) rotate(-9)">
<path d="M-3.4 -8 q-1.8 -2.4 1.2 -3.4" stroke="#2ea3dc" stroke-width="1.7" fill="none" stroke-linecap="round"/>
<path d="M3.6 8 q1.4 2.6 -1.6 3.2" stroke="#2ea3dc" stroke-width="1.7" fill="none" stroke-linecap="round"/>
<rect x="-4.6" y="-8" width="9.2" height="3.8" rx="1.2" fill="#2e9ad6"/><rect x="-4.6" y="-4.6" width="9.2" height="2.6" fill="#45649c"/><rect x="-4.6" y="-2.2" width="9.2" height="4.8" fill="#ee93a1"/><rect x="-4.6" y="2.4" width="9.2" height="2.6" fill="#45649c"/><rect x="-4.6" y="4.6" width="9.2" height="3.6" rx="1.2" fill="#2e9ad6"/>
</g>
<g transform="translate(317.2 250.6) rotate(58)"><rect x="-9.2" y="-4.2" width="18.4" height="8.4" rx="4.2" fill="#f4c9d6" stroke="#c9688a" stroke-width="1"/><path d="M-6 2.8 V-1.4 M-3.6 -2.8 V1.4 M-1.2 2.8 V-1.4 M1.2 -2.8 V1.4 M3.6 2.8 V-1.4 M6 -2.8 V1.4" stroke="#c9688a" stroke-width="0.85" fill="none"/></g>
<circle cx="325.2" cy="243.4" r="0.9" fill="#ef7d7d"/>
<circle cx="161.25" cy="171.5" r="32" fill="#eef1f9" stroke="#1d2f6f" stroke-width="1.15"/>
<circle cx="161.25" cy="290.7" r="31.9" fill="#eef1f9" stroke="#1d2f6f" stroke-width="1.15"/>
<circle cx="371.4" cy="175.7" r="36.4" fill="#eef1f9" stroke="#1d2f6f" stroke-width="1.15"/>
<circle cx="368.1" cy="295.7" r="31.9" fill="#eef1f9" stroke="#1d2f6f" stroke-width="1.15"/>
<g font-family="Liberation Sans, Arial, Helvetica, sans-serif" font-size="9.4" fill="#111" stroke="#111" stroke-width="0.2"><text x="143.7" y="136.9" textLength="39.3" lengthAdjust="spacingAndGlyphs">Ribosome</text><text x="133.7" y="254.6" textLength="50.8" lengthAdjust="spacingAndGlyphs">Spliceosome</text><text x="345" y="135.9" textLength="47.5" lengthAdjust="spacingAndGlyphs">Proteasome</text><text x="346.7" y="259.6" textLength="50.8" lengthAdjust="spacingAndGlyphs">Mitochondria</text></g>
<use href="#pb" fill="#5b8ec4"/>
<g clip-path="url(#cpb)" filter="url(#bl)">
<ellipse cx="160.0" cy="179.2" rx="2.9" ry="2.1" fill="#7cc6de" opacity="0.7"/>
<ellipse cx="173.1" cy="177.2" rx="2.4" ry="1.6" fill="#78bfe0" opacity="0.65"/>
<ellipse cx="150.9" cy="186.4" rx="2.4" ry="1.8" fill="#74bcdc" opacity="0.6"/>
<ellipse cx="145.0" cy="175.9" rx="2.6" ry="1.8" fill="#72b4da" opacity="0.6"/>
<ellipse cx="167.2" cy="187.7" rx="5.2" ry="2.4" fill="#4876b0" opacity="0.8"/>
<ellipse cx="179.0" cy="181.2" rx="2.9" ry="3.9" fill="#4b7ab4" opacity="0.7"/>
<ellipse cx="154.2" cy="181.2" rx="3.3" ry="2.0" fill="#4f80b8" opacity="0.6"/>
<ellipse cx="142.4" cy="182.5" rx="2.4" ry="2.4" fill="#4d7cb6" opacity="0.6"/>
<ellipse cx="168.5" cy="182.5" rx="2.6" ry="1.6" fill="#6aa6d4" opacity="0.6"/>
</g>
<use href="#pg" fill="#7cb98b"/>
<g clip-path="url(#cpg)" filter="url(#bl)">
<ellipse cx="143.7" cy="162.2" rx="5.5" ry="5.2" fill="#a6d596" opacity="0.95"/>
<ellipse cx="141.7" cy="159.6" rx="2.6" ry="2.1" fill="#cfeaa6" opacity="0.9"/>
<ellipse cx="160.7" cy="153.7" rx="3.9" ry="6.5" fill="#9cd09a" opacity="0.8"/>
<ellipse cx="167.2" cy="160.2" rx="3.3" ry="5.2" fill="#98cc98" opacity="0.7"/>
<ellipse cx="173.8" cy="164.2" rx="5.2" ry="6.5" fill="#5e9e7e" opacity="0.75"/>
<ellipse cx="165.9" cy="148.5" rx="5.2" ry="3.3" fill="#6aa884" opacity="0.7"/>
<ellipse cx="154.2" cy="168.1" rx="5.2" ry="3.9" fill="#5f9f7f" opacity="0.7"/>
<ellipse cx="172.5" cy="153.7" rx="2.6" ry="3.9" fill="#69a782" opacity="0.6"/>
<ellipse cx="148.9" cy="170.7" rx="3.9" ry="2.6" fill="#68a783" opacity="0.6"/>
<ellipse cx="158.1" cy="162.8" rx="2.1" ry="3.9" fill="#a4d49c" opacity="0.7"/>
</g>
<path d="M133.88 291.65 C134.49 289.82 135.93 289.91 137.15 288.38 C138.37 286.86 137.89 285.57 139.12 285.12 C140.34 284.66 141.01 285.36 142.38 286.42 C143.76 287.49 144.02 287.86 145.00 289.69 C145.98 291.52 146.51 292.13 146.57 294.27 C146.63 296.41 146.39 297.32 145.26 298.85 C144.13 300.37 143.01 299.89 141.73 300.81 C140.45 301.72 140.99 303.07 139.77 302.77 C138.55 302.46 137.72 301.03 136.50 299.50 C135.28 297.97 135.15 298.06 134.54 296.23 C133.93 294.40 133.27 293.48 133.88 291.65 Z" fill="#7a72b2"/>
<use href="#ps" fill="#a9bcc9"/>
<g clip-path="url(#cps)" filter="url(#bl)">
<ellipse cx="167.2" cy="298.8" rx="6.5" ry="3.9" fill="#9bb0bf" opacity="0.7"/>
<ellipse cx="154.2" cy="277.9" rx="3.9" ry="3.3" fill="#b9c9d4" opacity="0.7"/>
<ellipse cx="173.8" cy="301.5" rx="3.9" ry="2.6" fill="#b7c7d2" opacity="0.6"/>
<ellipse cx="148.9" cy="296.2" rx="3.3" ry="2.6" fill="#b5c6d1" opacity="0.6"/>
</g>
<path d="M160.04 270.08 C160.56 269.01 161.13 268.73 162.65 268.12 C164.18 267.51 165.05 267.16 166.58 267.46 C168.10 267.77 167.67 268.97 169.19 269.42 C170.72 269.88 171.80 268.81 173.12 269.42 C174.43 270.03 174.82 270.67 174.82 272.04 C174.82 273.41 174.12 274.09 173.12 275.31 C172.11 276.53 171.26 276.05 170.50 277.27 C169.74 278.49 170.76 279.62 169.85 280.54 C168.93 281.45 167.80 281.80 166.58 281.19 C165.36 280.58 165.68 279.30 164.62 277.92 C163.55 276.55 162.98 276.53 162.00 275.31 C161.02 274.09 160.89 273.91 160.43 272.69 C159.97 271.47 159.52 271.14 160.04 270.08 Z" fill="#39a2b5"/>
<path d="M166.32 281.32 C166.93 280.41 168.26 280.26 169.85 280.54 C171.43 280.81 172.20 281.43 173.12 282.50 C174.03 283.57 174.38 284.29 173.77 285.12 C173.16 285.94 172.03 286.18 170.50 286.03 C168.97 285.88 168.21 285.56 167.23 284.46 C166.25 283.36 165.71 282.24 166.32 281.32 Z" fill="#2f9a84"/>
<rect x="171.8" y="288.3" width="4.4" height="6" rx="1.4" fill="#8c9be2" transform="rotate(20 174.0 291.3)"/>
<circle cx="169.8" cy="290.5" r="1.5" fill="#6b9be0"/>
<g stroke="#b450b0" stroke-width="1.1" stroke-linecap="round" fill="none">
<path d="M148.5 276.9 L154.5 284.9"/>
<path d="M147.6 289.0 L152.2 289.7"/>
<path d="M151.9 290.0 L155.9 294.1"/>
<path d="M159.4 291.8 L159.4 298.1"/>
<path d="M156.4 296.2 L162.3 298.8"/>
</g>
<circle cx="157.6" cy="307.0" r="1.5" fill="#4aa0d0"/>
<ellipse cx="161.0" cy="309.7" rx="3.7" ry="2.3" fill="#b54a9c"/>
<ellipse cx="159.4" cy="276.6" rx="2" ry="1.1" fill="#7f8fe0"/>
<ellipse cx="163.3" cy="281.8" rx="1.1" ry="1.1" fill="#7f8fe0"/>
<ellipse cx="161.3" cy="287.1" rx="1" ry="1" fill="#7f8fe0"/>
<circle cx="368.1" cy="143.8" r="4.2" fill="#2fa8e0"/>
<circle cx="363.0" cy="147.1" r="4.2" fill="#2fa8e0"/>
<circle cx="360.3" cy="151.9" r="4.2" fill="#2fa8e0"/>
<circle cx="361.5" cy="156.3" r="4.2" fill="#2fa8e0"/>
<circle cx="384.2" cy="198.2" r="4.2" fill="#2fa8e0"/>
<circle cx="380.5" cy="202.3" r="4.2" fill="#2fa8e0"/>
<circle cx="375.4" cy="205.5" r="4.2" fill="#2fa8e0"/>
<rect x="356.4" y="155.5" width="30.7" height="40.9" rx="3" fill="#3f6496"/>
<circle cx="366.6" cy="154.8" r="4.15" fill="#3f6a9a"/>
<circle cx="375.4" cy="154.5" r="4.15" fill="#3f6a9a"/>
<circle cx="382.7" cy="157.4" r="4.15" fill="#3f6a9a"/>
<circle cx="360.8" cy="156.3" r="4.15" fill="#3f6a9a"/>
<rect x="357.1" y="170.9" width="29.2" height="13.6" fill="#e8869a"/>
<circle cx="359.7" cy="158.5" r="4.15" fill="#2b8fc8"/>
<circle cx="384.2" cy="159.2" r="4.15" fill="#2b84bc"/>
<circle cx="365.2" cy="161.4" r="4.15" fill="#2a9ad2"/>
<circle cx="378.3" cy="160.7" r="4.15" fill="#2a9ad2"/>
<circle cx="371.7" cy="162.1" r="4.15" fill="#35aee4"/>
<circle cx="359.7" cy="165.2" r="4.15" fill="#4a6aa0"/>
<circle cx="384.2" cy="165.8" r="4.15" fill="#4a6aa0"/>
<circle cx="365.2" cy="168.0" r="4.15" fill="#5b7fc0"/>
<circle cx="378.3" cy="168.0" r="4.15" fill="#5b7fc0"/>
<circle cx="371.7" cy="169.3" r="4.15" fill="#6f8fd0"/>
<circle cx="359.7" cy="172.3" r="4.15" fill="#e07a8c"/>
<circle cx="384.2" cy="172.8" r="4.15" fill="#e07a8c"/>
<circle cx="365.2" cy="174.5" r="4.15" fill="#ee8fa0"/>
<circle cx="378.3" cy="174.5" r="4.15" fill="#ee8fa0"/>
<circle cx="371.7" cy="175.7" r="4.15" fill="#f5a8b4"/>
<circle cx="359.7" cy="179.7" r="4.15" fill="#e07a8c"/>
<circle cx="384.2" cy="180.1" r="4.15" fill="#e07a8c"/>
<circle cx="365.2" cy="181.8" r="4.15" fill="#ee8fa0"/>
<circle cx="378.3" cy="181.8" r="4.15" fill="#ee8fa0"/>
<circle cx="371.7" cy="183.0" r="4.15" fill="#f7b4bc"/>
<circle cx="359.7" cy="186.2" r="4.15" fill="#3f5f95"/>
<circle cx="384.2" cy="186.7" r="4.15" fill="#3f5f95"/>
<circle cx="365.2" cy="188.4" r="4.15" fill="#5574b4"/>
<circle cx="378.3" cy="188.4" r="4.15" fill="#5574b4"/>
<circle cx="371.7" cy="189.4" r="4.15" fill="#6a8ccc"/>
<circle cx="359.7" cy="192.8" r="4.15" fill="#2b84bc"/>
<circle cx="384.2" cy="193.2" r="4.15" fill="#2b84bc"/>
<circle cx="365.2" cy="195.0" r="4.15" fill="#2a9ad2"/>
<circle cx="378.3" cy="195.0" r="4.15" fill="#2a9ad2"/>
<circle cx="371.7" cy="196.0" r="4.15" fill="#2fa8e0"/>
<path d="M341.85 292.73 C341.85 288.59 341.19 290.77 343.81 287.50 C346.42 284.23 344.68 285.10 349.69 282.92 C354.71 280.74 352.31 281.75 358.85 280.96 C365.38 280.18 362.33 280.35 369.31 280.57 C376.28 280.79 373.23 280.18 379.77 281.62 C386.31 283.05 384.13 282.05 388.92 284.88 C393.72 287.72 392.32 286.41 394.15 290.12 C395.99 293.82 395.29 291.86 394.42 296.00 C393.54 300.14 394.68 298.83 391.54 302.54 C388.40 306.24 389.80 305.02 385.00 307.12 C380.21 309.21 382.38 308.38 377.15 308.82 C371.92 309.25 373.88 308.25 369.31 308.42 C364.73 308.60 367.78 309.21 363.42 309.34 C359.06 309.47 361.03 309.99 356.23 308.82 C351.44 307.64 353.18 308.77 349.04 305.81 C344.90 302.84 346.21 304.28 343.81 299.92 C341.41 295.56 341.85 296.87 341.85 292.73 Z" fill="#9d6d6a"/>
<path d="M341.85 292.73 C341.63 288.81 341.19 290.77 343.81 287.50 C346.42 284.23 344.68 285.10 349.69 282.92 C354.71 280.74 352.31 281.75 358.85 280.96 C365.38 280.18 362.33 280.35 369.31 280.57 C376.28 280.79 373.23 280.18 379.77 281.62 C386.31 283.05 384.13 282.05 388.92 284.88 C393.72 287.72 392.32 286.63 394.15 290.12 C395.99 293.60 395.72 292.16 394.42 295.35 C393.11 298.53 395.11 297.79 390.23 299.66 C385.35 301.54 386.74 300.75 379.77 300.97 C372.80 301.19 376.28 300.66 369.31 300.32 C362.33 299.97 364.95 299.62 358.85 299.92 C352.74 300.23 355.80 301.45 351.00 301.23 C346.21 301.01 347.51 302.10 344.46 299.27 C341.41 296.44 342.06 296.65 341.85 292.73 Z" fill="#8a5a58"/>
<path d="M343.68 293.38 C343.68 290.16 343.50 291.29 346.03 288.42 C348.56 285.54 346.77 286.58 351.26 284.75 C355.75 282.92 353.48 283.66 359.50 282.92 C365.52 282.18 362.77 282.36 369.31 282.53 C375.85 282.71 373.10 282.14 379.12 283.45 C385.13 284.75 382.95 283.93 387.35 286.45 C391.76 288.98 390.58 288.20 392.32 291.03 C394.07 293.86 393.81 292.60 392.59 294.95 C391.36 297.31 392.93 296.65 388.66 298.09 C384.39 299.53 386.22 299.10 379.77 299.27 C373.32 299.44 376.28 298.96 369.31 298.62 C362.33 298.27 364.95 297.92 358.85 298.22 C352.74 298.53 355.27 299.57 351.00 299.53 C346.73 299.49 348.47 300.14 346.03 298.09 C343.59 296.04 343.68 296.61 343.68 293.38 Z" fill="#7b4947"/>
<path d="M373.23 305.81 C375.41 305.50 375.41 306.20 379.77 304.89 C384.13 303.58 384.13 302.89 386.31 301.88" fill="none" stroke="#b58a86" stroke-width="0.8" opacity="0.8"/>
<g stroke="#eddedb" stroke-width="2.3" stroke-linecap="round" fill="none">
<path d="M347.1 291.8 V295.7"/>
<path d="M350.3 289.2 V295.5"/>
<path d="M353.6 287.8 V293.1"/>
<path d="M357.0 286.3 V294.4"/>
<path d="M360.8 285.7 V293.1"/>
<path d="M364.7 285.0 V293.9"/>
<path d="M368.7 284.9 V293.1"/>
<path d="M372.6 285.5 V294.4"/>
<path d="M376.5 285.5 V293.6"/>
<path d="M380.4 286.8 V294.4"/>
<path d="M384.3 288.2 V295.0"/>
<path d="M388.3 290.5 V295.5"/>
<path d="M345.5 295.7 L350.3 296.3" stroke-width="1.5"/>
<path d="M353.6 293.1 L356.2 294.2" stroke-width="1.5"/>
<path d="M384.3 295.0 L388.3 295.5" stroke-width="1.5"/>
</g>
<defs>
<radialGradient id="gy" cx="0.5" cy="0.5" r="0.5"><stop offset="0" stop-color="#c4bc00"/><stop offset="0.5" stop-color="#d6cc00"/><stop offset="0.8" stop-color="#fff400"/><stop offset="1" stop-color="#3a3600"/></radialGradient>
<radialGradient id="gy2" cx="0.5" cy="0.5" r="0.5"><stop offset="0" stop-color="#8f8a10"/><stop offset="0.6" stop-color="#a8a214"/><stop offset="0.85" stop-color="#cfc820"/><stop offset="1" stop-color="#3a3800"/></radialGradient>
<radialGradient id="gp" cx="0.5" cy="0.5" r="0.5"><stop offset="0" stop-color="#b84af0"/><stop offset="0.7" stop-color="#a83ce0"/><stop offset="1" stop-color="#1a0628"/></radialGradient>
<radialGradient id="gr" cx="0.5" cy="0.5" r="0.5"><stop offset="0" stop-color="#a81a1a"/><stop offset="0.55" stop-color="#d02424"/><stop offset="1" stop-color="#0c0000"/></radialGradient>
<radialGradient id="gg" cx="0.5" cy="0.5" r="0.5"><stop offset="0" stop-color="#40f050"/><stop offset="0.5" stop-color="#22d232"/><stop offset="1" stop-color="#011003"/></radialGradient>
</defs>
<g font-family="Liberation Sans, Arial, Helvetica, sans-serif" font-size="9.1" fill="#111" stroke="#111" stroke-width="0.25"><text x="69.6" y="446.8">BF</text><text x="86.8" y="446.8" textLength="27" lengthAdjust="spacingAndGlyphs">Ter119</text><text x="117.6" y="446.8">DNA</text><text x="141.4" y="446.8">MtDR</text><text x="170.6" y="446.8">TO</text></g>
<g font-family="Liberation Sans, Arial, Helvetica, sans-serif" font-size="9.6" fill="#111" stroke="#111" stroke-width="0.2"><text transform="translate(53.6,512.8) rotate(-90)" textLength="24" lengthAdjust="spacingAndGlyphs">E10.5</text><text transform="translate(53.6,600.5) rotate(-90)" textLength="24" lengthAdjust="spacingAndGlyphs">E12.5</text></g>
<line x1="58.6" y1="450" x2="58.6" y2="550" stroke="#2566a8" stroke-width="1.2"/>
<line x1="58.6" y1="562.3" x2="58.6" y2="641.3" stroke="#c8102e" stroke-width="1.2"/>
<rect x="88.2" y="448.2" width="102.6" height="201.4" fill="#000"/>
<rect x="63.1" y="448.2" width="25.2" height="18.0" fill="#d9d9d9"/><rect x="63.1" y="465.8" width="25.2" height="0.8" fill="#6e6e6e"/>
<circle cx="75.7" cy="457.2" r="4.7" fill="#dedede" stroke="#868686" stroke-width="0.9"/>
<circle cx="75.5" cy="457.3" r="2.2" fill="#c4c4c4" stroke="#9a9a9a" stroke-width="0.5"/>
<rect x="63.1" y="466.2" width="25.2" height="17.2" fill="#d9d9d9"/><rect x="63.1" y="483.0" width="25.2" height="0.8" fill="#6e6e6e"/>
<circle cx="75.7" cy="474.8" r="4.7" fill="#dedede" stroke="#868686" stroke-width="0.9"/>
<circle cx="75.7" cy="475.0" r="2.2" fill="#c4c4c4" stroke="#9a9a9a" stroke-width="0.5"/>
<rect x="63.1" y="483.4" width="25.2" height="17.6" fill="#d9d9d9"/><rect x="63.1" y="500.6" width="25.2" height="0.8" fill="#6e6e6e"/>
<circle cx="75.7" cy="492.2" r="4.7" fill="#dedede" stroke="#868686" stroke-width="0.9"/>
<circle cx="76.1" cy="491.5" r="2.2" fill="#c4c4c4" stroke="#9a9a9a" stroke-width="0.5"/>
<rect x="63.1" y="501.0" width="25.2" height="17.6" fill="#d9d9d9"/><rect x="63.1" y="518.2" width="25.2" height="0.8" fill="#6e6e6e"/>
<circle cx="75.7" cy="509.8" r="4.7" fill="#dedede" stroke="#868686" stroke-width="0.9"/>
<circle cx="75.1" cy="510.3" r="2.2" fill="#c4c4c4" stroke="#9a9a9a" stroke-width="0.5"/>
<rect x="63.1" y="518.6" width="25.2" height="18.4" fill="#d9d9d9"/><rect x="63.1" y="536.6" width="25.2" height="0.8" fill="#6e6e6e"/>
<circle cx="75.7" cy="527.8" r="4.7" fill="#dedede" stroke="#868686" stroke-width="0.9"/>
<circle cx="75.5" cy="527.4" r="2.2" fill="#c4c4c4" stroke="#9a9a9a" stroke-width="0.5"/>
<rect x="63.1" y="537.0" width="25.2" height="18.2" fill="#d9d9d9"/><rect x="63.1" y="554.8" width="25.2" height="0.8" fill="#6e6e6e"/>
<circle cx="75.7" cy="546.1" r="4.7" fill="#dedede" stroke="#868686" stroke-width="0.9"/>
<circle cx="76.7" cy="546.1" r="2.2" fill="#c4c4c4" stroke="#9a9a9a" stroke-width="0.5"/>
<rect x="63.1" y="556.2" width="25.2" height="13.6" fill="#b3b3b3"/><rect x="63.1" y="569.0" width="25.2" height="1.5" fill="#5c5c5c"/>
<circle cx="75.8" cy="562.7" r="4.2" fill="none" stroke="#d8d8d8" stroke-width="0.6"/>
<circle cx="75.8" cy="562.7" r="3.1" fill="#a8a8a8" stroke="#141414" stroke-width="1.15"/>
<circle cx="76.1" cy="562.7" r="1" fill="#9a9a9a" opacity="0.8"/>
<rect x="63.1" y="569.8" width="25.2" height="15.2" fill="#b3b3b3"/><rect x="63.1" y="584.2" width="25.2" height="1.5" fill="#5c5c5c"/>
<circle cx="75.8" cy="577.1" r="4.2" fill="none" stroke="#d8d8d8" stroke-width="0.6"/>
<circle cx="75.8" cy="577.1" r="3.1" fill="#5a5a5a" stroke="#141414" stroke-width="1.15"/>
<circle cx="75.9" cy="576.8" r="1" fill="#9a9a9a" opacity="0.8"/>
<rect x="63.1" y="585.0" width="25.2" height="15.5" fill="#b3b3b3"/><rect x="63.1" y="599.8" width="25.2" height="1.5" fill="#5c5c5c"/>
<circle cx="75.8" cy="592.5" r="4.2" fill="none" stroke="#d8d8d8" stroke-width="0.6"/>
<circle cx="75.8" cy="592.5" r="3.1" fill="#b4b4b4" stroke="#141414" stroke-width="1.15"/>
<circle cx="75.9" cy="592.8" r="1" fill="#9a9a9a" opacity="0.8"/>
<rect x="63.1" y="600.5" width="25.2" height="16.0" fill="#b3b3b3"/><rect x="63.1" y="615.8" width="25.2" height="1.5" fill="#5c5c5c"/>
<circle cx="75.8" cy="608.2" r="4.2" fill="none" stroke="#d8d8d8" stroke-width="0.6"/>
<circle cx="75.8" cy="608.2" r="3.1" fill="#6a6a6a" stroke="#141414" stroke-width="1.15"/>
<circle cx="75.8" cy="608.4" r="1" fill="#9a9a9a" opacity="0.8"/>
<rect x="63.1" y="616.5" width="25.2" height="16.5" fill="#b3b3b3"/><rect x="63.1" y="632.2" width="25.2" height="1.5" fill="#5c5c5c"/>
<circle cx="75.8" cy="624.5" r="4.2" fill="none" stroke="#d8d8d8" stroke-width="0.6"/>
<circle cx="75.8" cy="624.5" r="3.1" fill="#2e2e2e" stroke="#141414" stroke-width="1.15"/>
<circle cx="76.0" cy="624.0" r="1" fill="#9a9a9a" opacity="0.8"/>
<rect x="63.1" y="633.0" width="25.2" height="16.6" fill="#b3b3b3"/><rect x="63.1" y="648.9" width="25.2" height="1.5" fill="#5c5c5c"/>
<circle cx="75.8" cy="641.0" r="4.2" fill="none" stroke="#d8d8d8" stroke-width="0.6"/>
<circle cx="75.8" cy="641.0" r="3.1" fill="#303030" stroke="#141414" stroke-width="1.15"/>
<circle cx="76.1" cy="641.1" r="1" fill="#9a9a9a" opacity="0.8"/>
<rect x="88.8" y="465.8" width="102" height="0.7" fill="#262626"/>
<rect x="88.8" y="483.0" width="102" height="0.7" fill="#262626"/>
<rect x="88.8" y="500.6" width="102" height="0.7" fill="#262626"/>
<rect x="88.8" y="518.2" width="102" height="0.7" fill="#262626"/>
<rect x="88.8" y="536.6" width="102" height="0.7" fill="#262626"/>
<rect x="88.8" y="569.4" width="102" height="0.7" fill="#1c1c1c"/>
<rect x="88.8" y="584.6" width="102" height="0.7" fill="#1c1c1c"/>
<rect x="88.8" y="600.1" width="102" height="0.7" fill="#1c1c1c"/>
<rect x="88.8" y="616.1" width="102" height="0.7" fill="#1c1c1c"/>
<rect x="88.8" y="632.6" width="102" height="0.7" fill="#1c1c1c"/>
<rect x="63.1" y="554.5" width="25.2" height="1" fill="#f2f2f2"/><rect x="63.1" y="555.5" width="25.2" height="0.9" fill="#555"/><rect x="88.2" y="554.9" width="102.6" height="1" fill="#9a9a9a"/>
<circle cx="101.5" cy="457.2" r="5.4" fill="url(#gy)"/>
<circle cx="126.8" cy="457.2" r="4.4" fill="url(#gp)"/>
<circle cx="152.3" cy="457.2" r="4.8" fill="url(#gr)" opacity="0.85"/>
<circle cx="177" cy="457.2" r="5.5" fill="url(#gg)"/>
<circle cx="101.5" cy="474.8" r="5.4" fill="url(#gy)"/>
<circle cx="126.8" cy="474.8" r="4.4" fill="url(#gp)"/>
<circle cx="152.3" cy="474.8" r="4.8" fill="url(#gr)" opacity="0.85"/>
<circle cx="177" cy="474.8" r="4.8" fill="url(#gg)"/>
<circle cx="101.5" cy="492.2" r="5.4" fill="url(#gy)"/>
<circle cx="126.8" cy="492.2" r="4.4" fill="url(#gp)"/>
<circle cx="152.3" cy="492.2" r="4.8" fill="url(#gr)" opacity="0.60"/>
<circle cx="177" cy="492.2" r="4.5" fill="url(#gg)"/>
<circle cx="101.5" cy="509.8" r="5.4" fill="url(#gy)"/>
<circle cx="126.8" cy="509.8" r="4.4" fill="url(#gp)"/>
<circle cx="152.3" cy="509.8" r="4.8" fill="url(#gr)" opacity="1.00"/>
<circle cx="177" cy="509.8" r="4.5" fill="url(#gg)"/>
<circle cx="101.5" cy="527.8" r="5.4" fill="url(#gy)"/>
<circle cx="126.8" cy="527.8" r="4.4" fill="url(#gp)"/>
<circle cx="152.3" cy="527.8" r="4.8" fill="url(#gr)" opacity="0.95"/>
<circle cx="177" cy="527.8" r="5.0" fill="url(#gg)"/>
<circle cx="101.5" cy="546.1" r="5.4" fill="url(#gy)"/>
<circle cx="126.8" cy="546.1" r="4.4" fill="url(#gp)"/>
<circle cx="152.3" cy="546.1" r="4.8" fill="url(#gr)" opacity="0.85"/>
<circle cx="177" cy="546.1" r="5.0" fill="url(#gg)"/>
<circle cx="101.3" cy="563.0" r="4.3" fill="url(#gy2)"/>
<circle cx="126.6" cy="563.0" r="1.7" fill="#a63ad8" opacity="1.00"/>
<circle cx="152" cy="563.0" r="2.2" fill="#7a1010" opacity="0.60"/>
<circle cx="177" cy="563.0" r="1.4" fill="#0e4a12" opacity="0.8"/>
<circle cx="101.3" cy="577.4" r="4.3" fill="url(#gy2)"/>
<circle cx="126.6" cy="577.4" r="1.5" fill="#a63ad8" opacity="0.75"/>
<circle cx="152" cy="577.4" r="2.2" fill="#7a1010" opacity="0.80"/>
<circle cx="177" cy="577.4" r="1.4" fill="#0e4a12" opacity="0.8"/>
<circle cx="101.3" cy="592.8" r="4.3" fill="url(#gy2)"/>
<circle cx="126.6" cy="592.8" r="1.8" fill="#a63ad8" opacity="1.00"/>
<circle cx="152" cy="592.8" r="2.2" fill="#7a1010" opacity="0.75"/>
<circle cx="177" cy="592.8" r="1.4" fill="#0e4a12" opacity="0.8"/>
<circle cx="101.3" cy="608.5" r="4.3" fill="url(#gy2)"/>
<circle cx="126.6" cy="608.5" r="1.4" fill="#a63ad8" opacity="0.70"/>
<circle cx="152" cy="608.5" r="2.2" fill="#7a1010" opacity="0.55"/>
<circle cx="177" cy="608.5" r="1.4" fill="#0e4a12" opacity="0.8"/>
<circle cx="101.3" cy="624.8" r="4.3" fill="url(#gy2)"/>
<circle cx="126.6" cy="624.8" r="1.6" fill="#a63ad8" opacity="0.95"/>
<circle cx="152" cy="624.8" r="2.2" fill="#7a1010" opacity="0.70"/>
<circle cx="177" cy="624.8" r="1.4" fill="#0e4a12" opacity="0.8"/>
<circle cx="101.3" cy="641.3" r="4.3" fill="url(#gy2)"/>
<circle cx="126.6" cy="641.3" r="1.5" fill="#a63ad8" opacity="0.70"/>
<circle cx="152" cy="641.3" r="2.2" fill="#7a1010" opacity="0.50"/>
<circle cx="177" cy="641.3" r="1.4" fill="#0e4a12" opacity="0.8"/>
<rect x="64.8" y="644.6" width="9.5" height="1.2" fill="#fff"/><text x="75" y="647" font-family="Liberation Sans, Arial, Helvetica, sans-serif" font-size="3.5" fill="#eee">7 µm</text>
<path d="M286.60 524.00 L286.60 523.69 L287.20 523.69 L287.20 523.64 L287.80 523.64 L287.80 523.64 L288.40 523.64 L288.40 523.67 L289.00 523.67 L289.00 523.65 L289.60 523.65 L289.60 523.64 L290.20 523.64 L290.20 523.62 L290.80 523.62 L290.80 523.61 L291.40 523.61 L291.40 523.65 L292.00 523.65 L292.00 523.65 L292.60 523.65 L292.60 523.58 L293.20 523.58 L293.20 523.61 L293.80 523.61 L293.80 523.58 L294.40 523.58 L294.40 523.63 L295.00 523.63 L295.00 523.59 L295.60 523.59 L295.60 523.56 L296.20 523.56 L296.20 523.60 L296.80 523.60 L296.80 523.53 L297.40 523.53 L297.40 523.53 L298.00 523.53 L298.00 523.60 L298.60 523.60 L298.60 523.59 L299.20 523.59 L299.20 523.54 L299.80 523.54 L299.80 523.50 L300.40 523.50 L300.40 523.54 L301.00 523.54 L301.00 523.55 L301.60 523.55 L301.60 523.53 L302.20 523.53 L302.20 523.56 L302.80 523.56 L302.80 523.54 L303.40 523.54 L303.40 523.51 L304.00 523.51 L304.00 523.50 L304.60 523.50 L304.60 523.48 L305.20 523.48 L305.20 523.22 L305.80 523.22 L305.80 522.97 L306.40 522.97 L306.40 521.62 L307.00 521.62 L307.00 518.45 L307.60 518.45 L307.60 515.49 L308.20 515.49 L308.20 509.16 L308.80 509.16 L308.80 505.40 L309.40 505.40 L309.40 499.89 L310.00 499.89 L310.00 496.42 L310.60 496.42 L310.60 485.09 L311.20 485.09 L311.20 479.62 L311.80 479.62 L311.80 479.63 L312.40 479.63 L312.40 471.09 L313.00 471.09 L313.00 459.80 L313.60 459.80 L313.60 453.68 L314.20 453.68 L314.20 444.14 L314.80 444.14 L314.80 450.59 L315.40 450.59 L315.40 448.08 L316.00 448.08 L316.00 453.08 L316.60 453.08 L316.60 460.41 L317.20 460.41 L317.20 459.08 L317.80 459.08 L317.80 458.49 L318.40 458.49 L318.40 462.13 L319.00 462.13 L319.00 469.07 L319.60 469.07 L319.60 470.97 L320.20 470.97 L320.20 478.92 L320.80 478.92 L320.80 479.12 L321.40 479.12 L321.40 476.41 L322.00 476.41 L322.00 482.17 L322.60 482.17 L322.60 486.43 L323.20 486.43 L323.20 485.79 L323.80 485.79 L323.80 487.40 L324.40 487.40 L324.40 490.70 L325.00 490.70 L325.00 495.55 L325.60 495.55 L325.60 498.13 L326.20 498.13 L326.20 500.77 L326.80 500.77 L326.80 502.67 L327.40 502.67 L327.40 506.72 L328.00 506.72 L328.00 510.09 L328.60 510.09 L328.60 512.50 L329.20 512.50 L329.20 515.73 L329.80 515.73 L329.80 517.88 L330.40 517.88 L330.40 519.48 L331.00 519.48 L331.00 521.87 L331.60 521.87 L331.60 523.14 L332.20 523.14 L332.20 523.19 L332.80 523.19 L332.80 523.24 L333.40 523.24 L333.40 523.20 L334.00 523.20 L334.00 523.13 L334.60 523.13 L334.60 523.18 L335.20 523.18 L335.20 523.23 L335.80 523.23 L335.80 523.19 L336.40 523.19 L336.40 523.30 L337.00 523.30 L337.00 523.27 L337.60 523.27 L337.60 523.22 L338.20 523.22 L338.20 523.28 L338.80 523.28 L338.80 523.31 L339.40 523.31 L339.40 523.35 L340.00 523.35 L340.00 523.33 L340.60 523.33 L340.60 523.28 L341.20 523.28 L341.20 523.42 L341.80 523.42 L341.80 523.33 L342.40 523.33 L342.40 523.34 L343.00 523.34 L343.00 523.35 L343.60 523.35 L343.60 523.38 L344.20 523.38 L344.20 523.38 L344.80 523.38 L344.80 523.43 L345.40 523.43 L345.40 523.44 L346.00 523.44 L346.00 523.46 L346.60 523.46 L346.60 523.51 L347.20 523.51 L347.20 523.44 L347.80 523.44 L347.80 523.48 L348.40 523.48 L348.40 523.53 L349.00 523.53 L349.00 523.52 L349.60 523.52 L349.60 523.53 L350.20 523.53 L350.20 523.55 L350.80 523.55 L350.80 523.57 L351.40 523.57 L351.40 523.56 L352.00 523.56 L352.00 523.57 L352.60 523.57 L352.60 523.58 L353.20 523.58 L353.20 523.61 L353.80 523.61 L353.80 523.65 L354.40 523.65 L354.40 523.65 L355.00 523.65 L355.00 523.66 L355.60 523.66 L355.60 523.65 L356.20 523.65 L356.20 523.64 L356.80 523.64 L356.80 523.66 L357.40 523.66 L357.40 523.67 L358.00 523.67 L358.00 523.68 L358.60 523.68 L358.60 523.73 L359.20 523.73 L359.20 523.71 L359.80 523.71 L359.80 523.73 L360.40 523.73 L360.40 523.77 L361.00 523.77 L361.00 523.79 L361.60 523.79 L361.60 523.80 L362.20 523.80 L362.20 523.78 L362.80 523.78 L362.80 523.81 L363.40 523.81 L363.40 523.83 L364.00 523.83 L364.00 523.82 L364.60 523.82 L364.60 523.84 L365.20 523.84 L365.20 523.86 L365.80 523.86 L365.80 523.87 L366.40 523.87 L366.40 523.87 L367.00 523.87 L367.00 523.89 L367.60 523.89 L367.60 523.90 L368.20 523.90 L368.20 523.91 L368.80 523.91 L368.80 523.92 L369.40 523.92 L369.40 523.94 L370.00 523.94 L370.00 523.95 L370.60 523.95 L370.60 523.96 L371.20 523.96 L371.20 523.97 L371.80 523.97 L371.80 523.99 L372.40 523.99 L372.60 524.00 Z" fill="#c9143a"/>
<path d="M286.60 524.00 L286.60 524.00 L287.20 524.00 L287.20 524.00 L287.80 524.00 L287.80 524.00 L288.40 524.00 L288.40 524.00 L289.00 524.00 L289.00 524.00 L289.60 524.00 L289.60 524.00 L290.20 524.00 L290.20 524.00 L290.80 524.00 L290.80 524.00 L291.40 524.00 L291.40 524.00 L292.00 524.00 L292.00 524.00 L292.60 524.00 L292.60 524.00 L293.20 524.00 L293.20 524.00 L293.80 524.00 L293.80 524.00 L294.40 524.00 L294.40 524.00 L295.00 524.00 L295.00 524.00 L295.60 524.00 L295.60 524.00 L296.20 524.00 L296.20 524.00 L296.80 524.00 L296.80 524.00 L297.40 524.00 L297.40 524.00 L298.00 524.00 L298.00 524.00 L298.60 524.00 L298.60 524.00 L299.20 524.00 L299.20 524.00 L299.80 524.00 L299.80 524.00 L300.40 524.00 L300.40 524.00 L301.00 524.00 L301.00 524.00 L301.60 524.00 L301.60 524.00 L302.20 524.00 L302.20 524.00 L302.80 524.00 L302.80 524.00 L303.40 524.00 L303.40 524.00 L304.00 524.00 L304.00 524.00 L304.60 524.00 L304.60 524.00 L305.20 524.00 L305.20 524.00 L305.80 524.00 L305.80 524.00 L306.40 524.00 L306.40 524.00 L307.00 524.00 L307.00 524.00 L307.60 524.00 L307.60 524.00 L308.20 524.00 L308.20 524.00 L308.80 524.00 L308.80 524.00 L309.40 524.00 L309.40 524.00 L310.00 524.00 L310.00 524.00 L310.60 524.00 L310.60 524.00 L311.20 524.00 L311.20 524.00 L311.80 524.00 L311.80 524.00 L312.40 524.00 L312.40 524.00 L313.00 524.00 L313.00 524.00 L313.60 524.00 L313.60 523.86 L314.20 523.86 L314.20 523.68 L314.80 523.68 L314.80 523.53 L315.40 523.53 L315.40 523.41 L316.00 523.41 L316.00 523.25 L316.60 523.25 L316.60 522.51 L317.20 522.51 L317.20 520.18 L317.80 520.18 L317.80 518.61 L318.40 518.61 L318.40 515.47 L319.00 515.47 L319.00 513.56 L319.60 513.56 L319.60 508.78 L320.20 508.78 L320.20 505.42 L320.80 505.42 L320.80 504.37 L321.40 504.37 L321.40 500.78 L322.00 500.78 L322.00 495.71 L322.60 495.71 L322.60 494.24 L323.20 494.24 L323.20 493.37 L323.80 493.37 L323.80 493.05 L324.40 493.05 L324.40 489.66 L325.00 489.66 L325.00 483.63 L325.60 483.63 L325.60 487.77 L326.20 487.77 L326.20 478.68 L326.80 478.68 L326.80 484.28 L327.40 484.28 L327.40 475.78 L328.00 475.78 L328.00 481.97 L328.60 481.97 L328.60 473.85 L329.20 473.85 L329.20 476.15 L329.80 476.15 L329.80 478.34 L330.40 478.34 L330.40 478.69 L331.00 478.69 L331.00 477.64 L331.60 477.64 L331.60 478.88 L332.20 478.88 L332.20 482.56 L332.80 482.56 L332.80 484.45 L333.40 484.45 L333.40 481.85 L334.00 481.85 L334.00 478.10 L334.60 478.10 L334.60 482.24 L335.20 482.24 L335.20 488.70 L335.80 488.70 L335.80 481.85 L336.40 481.85 L336.40 483.65 L337.00 483.65 L337.00 483.17 L337.60 483.17 L337.60 491.15 L338.20 491.15 L338.20 487.28 L338.80 487.28 L338.80 494.50 L339.40 494.50 L339.40 490.60 L340.00 490.60 L340.00 494.90 L340.60 494.90 L340.60 496.38 L341.20 496.38 L341.20 493.00 L341.80 493.00 L341.80 499.99 L342.40 499.99 L342.40 498.60 L343.00 498.60 L343.00 498.06 L343.60 498.06 L343.60 503.22 L344.20 503.22 L344.20 504.69 L344.80 504.69 L344.80 502.26 L345.40 502.26 L345.40 505.69 L346.00 505.69 L346.00 505.42 L346.60 505.42 L346.60 509.52 L347.20 509.52 L347.20 509.16 L347.80 509.16 L347.80 510.92 L348.40 510.92 L348.40 510.21 L349.00 510.21 L349.00 513.21 L349.60 513.21 L349.60 511.47 L350.20 511.47 L350.20 514.91 L350.80 514.91 L350.80 513.90 L351.40 513.90 L351.40 516.39 L352.00 516.39 L352.00 516.64 L352.60 516.64 L352.60 516.41 L353.20 516.41 L353.20 518.37 L353.80 518.37 L353.80 518.82 L354.40 518.82 L354.40 518.52 L355.00 518.52 L355.00 519.34 L355.60 519.34 L355.60 520.14 L356.20 520.14 L356.20 519.53 L356.80 519.53 L356.80 520.78 L357.40 520.78 L357.40 521.25 L358.00 521.25 L358.00 521.33 L358.60 521.33 L358.60 521.44 L359.20 521.44 L359.20 521.68 L359.80 521.68 L359.80 522.31 L360.40 522.31 L360.40 522.48 L361.00 522.48 L361.00 522.87 L361.60 522.87 L361.60 522.84 L362.20 522.84 L362.20 522.85 L362.80 522.85 L362.80 522.96 L363.40 522.96 L363.40 523.03 L364.00 523.03 L364.00 523.17 L364.60 523.17 L364.60 523.26 L365.20 523.26 L365.20 523.39 L365.80 523.39 L365.80 523.53 L366.40 523.53 L366.40 523.62 L367.00 523.62 L367.00 523.62 L367.60 523.62 L367.60 523.69 L368.20 523.69 L368.20 523.74 L368.80 523.74 L368.80 523.76 L369.40 523.76 L369.40 523.77 L370.00 523.77 L370.00 523.85 L370.60 523.85 L370.60 523.87 L371.20 523.87 L371.20 523.92 L371.80 523.92 L371.80 523.95 L372.40 523.95 L372.60 524.00 Z" fill="#155289"/>
<rect x="286.9" y="513.4" width="1" height="10.6" fill="#5a9ad2"/><rect x="288" y="520" width="0.8" height="4" fill="#5a9ad2"/>
<g stroke="#2a2a2a" stroke-width="1.25" fill="none">
<path d="M286.00 435.50 V524.30 H372.60"/>
<path d="M287.50 524.30 v2.6" stroke-width="1"/>
<path d="M308.60 524.30 v2.6" stroke-width="1"/>
<path d="M330.00 524.30 v2.6" stroke-width="1"/>
<path d="M351.20 524.30 v2.6" stroke-width="1"/>
<path d="M372.50 524.30 v2.6" stroke-width="1"/>
<path d="M286.00 439.30 h-3" stroke-width="1"/>
<path d="M286.00 460.50 h-3" stroke-width="1"/>
<path d="M286.00 481.60 h-3" stroke-width="1"/>
<path d="M286.00 502.90 h-3" stroke-width="1"/>
<path d="M286.00 524.00 h-3" stroke-width="1"/>
</g>
<g font-family="Liberation Sans, Arial, Helvetica, sans-serif" font-size="8" fill="#111" stroke="#111" stroke-width="0.1">
<text x="287.50" y="535.00" text-anchor="middle">0</text>
<text x="308.60" y="535.00" text-anchor="middle">50</text>
<text x="330.00" y="535.00" text-anchor="middle">100</text>
<text x="351.20" y="535.00" text-anchor="middle">150</text>
<text x="372.50" y="535.00" text-anchor="middle">200</text>
<text x="280.40" y="442.15" text-anchor="end">2</text>
<text x="280.40" y="463.35" text-anchor="end">1.5</text>
<text x="280.40" y="484.45" text-anchor="end">1</text>
<text x="280.40" y="505.75" text-anchor="end">0.5</text>
<text x="280.40" y="526.85" text-anchor="end">0</text>
</g>
<rect x="338.90" y="440.10" width="3.9" height="3.9" fill="#0d4d8c"/><rect x="338.90" y="448.10" width="3.9" height="3.9" fill="#c8102e"/>
<g font-family="Liberation Sans, Arial, Helvetica, sans-serif" font-size="7.6" fill="#111" stroke="#111" stroke-width="0.15"><text x="345.70" y="444.10">E10.5</text><text x="345.70" y="452.10">E12.5</text></g>
<path d="M398.60 524.00 L398.60 523.72 L399.20 523.72 L399.20 523.70 L399.80 523.70 L399.80 523.70 L400.40 523.70 L400.40 523.68 L401.00 523.68 L401.00 523.67 L401.60 523.67 L401.60 523.70 L402.20 523.70 L402.20 523.69 L402.80 523.69 L402.80 523.64 L403.40 523.64 L403.40 523.67 L404.00 523.67 L404.00 523.66 L404.60 523.66 L404.60 523.61 L405.20 523.61 L405.20 523.64 L405.80 523.64 L405.80 523.61 L406.40 523.61 L406.40 523.62 L407.00 523.62 L407.00 523.61 L407.60 523.61 L407.60 523.63 L408.20 523.63 L408.20 523.59 L408.80 523.59 L408.80 523.57 L409.40 523.57 L409.40 523.59 L410.00 523.59 L410.00 523.56 L410.60 523.56 L410.60 523.56 L411.20 523.56 L411.20 523.60 L411.80 523.60 L411.80 523.53 L412.40 523.53 L412.40 523.13 L413.00 523.13 L413.00 522.77 L413.60 522.77 L413.60 520.01 L414.20 520.01 L414.20 513.72 L414.80 513.72 L414.80 508.95 L415.40 508.95 L415.40 499.99 L416.00 499.99 L416.00 488.51 L416.60 488.51 L416.60 478.77 L417.20 478.77 L417.20 465.94 L417.80 465.94 L417.80 459.51 L418.40 459.51 L418.40 444.09 L419.00 444.09 L419.00 445.66 L419.60 445.66 L419.60 444.58 L420.20 444.58 L420.20 452.18 L420.80 452.18 L420.80 467.58 L421.40 467.58 L421.40 474.24 L422.00 474.24 L422.00 480.69 L422.60 480.69 L422.60 481.27 L423.20 481.27 L423.20 489.72 L423.80 489.72 L423.80 493.90 L424.40 493.90 L424.40 499.01 L425.00 499.01 L425.00 501.14 L425.60 501.14 L425.60 504.50 L426.20 504.50 L426.20 507.54 L426.80 507.54 L426.80 510.06 L427.40 510.06 L427.40 513.21 L428.00 513.21 L428.00 515.45 L428.60 515.45 L428.60 517.66 L429.20 517.66 L429.20 519.41 L429.80 519.41 L429.80 521.12 L430.40 521.12 L430.40 521.87 L431.00 521.87 L431.00 522.73 L431.60 522.73 L431.60 523.45 L432.20 523.45 L432.20 523.38 L432.80 523.38 L432.80 523.38 L433.40 523.38 L433.40 523.39 L434.00 523.39 L434.00 523.42 L434.60 523.42 L434.60 523.41 L435.20 523.41 L435.20 523.46 L435.80 523.46 L435.80 523.40 L436.40 523.40 L436.40 523.43 L437.00 523.43 L437.00 523.46 L437.60 523.46 L437.60 523.48 L438.20 523.48 L438.20 523.41 L438.80 523.41 L438.80 523.40 L439.40 523.40 L439.40 523.49 L440.00 523.49 L440.00 523.43 L440.60 523.43 L440.60 523.46 L441.20 523.46 L441.20 523.49 L441.80 523.49 L441.80 523.48 L442.40 523.48 L442.40 523.44 L443.00 523.44 L443.00 523.43 L443.60 523.43 L443.60 523.51 L444.20 523.51 L444.20 523.46 L444.80 523.46 L444.80 523.51 L445.40 523.51 L445.40 523.46 L446.00 523.46 L446.00 523.49 L446.60 523.49 L446.60 523.45 L447.20 523.45 L447.20 523.44 L447.80 523.44 L447.80 523.49 L448.40 523.49 L448.40 523.45 L449.00 523.45 L449.00 523.51 L449.60 523.51 L449.60 523.53 L450.20 523.53 L450.20 523.49 L450.80 523.49 L450.80 523.54 L451.40 523.54 L451.40 523.53 L452.00 523.53 L452.00 523.51 L452.60 523.51 L452.60 523.50 L453.20 523.50 L453.20 523.54 L453.80 523.54 L453.80 523.55 L454.40 523.55 L454.40 523.49 L455.00 523.49 L455.00 523.53 L455.60 523.53 L455.60 523.48 L456.20 523.48 L456.20 523.49 L456.80 523.49 L456.80 523.53 L457.40 523.53 L457.40 523.53 L458.00 523.53 L458.00 523.53 L458.60 523.53 L458.60 523.52 L459.20 523.52 L459.20 523.53 L459.80 523.53 L459.80 523.53 L460.40 523.53 L460.40 523.53 L461.00 523.53 L461.00 523.51 L461.60 523.51 L461.60 523.55 L462.20 523.55 L462.20 523.55 L462.80 523.55 L462.80 523.54 L463.40 523.54 L463.40 523.57 L464.00 523.57 L464.00 523.57 L464.60 523.57 L464.60 523.53 L465.20 523.53 L465.20 523.56 L465.80 523.56 L465.80 523.56 L466.40 523.56 L466.40 523.60 L467.00 523.60 L467.00 523.58 L467.60 523.58 L467.60 523.57 L468.20 523.57 L468.20 523.61 L468.80 523.61 L468.80 523.57 L469.40 523.57 L469.40 523.57 L470.00 523.57 L470.00 523.61 L470.60 523.61 L470.60 523.58 L471.20 523.58 L471.20 523.59 L471.80 523.59 L471.80 523.58 L472.40 523.58 L472.40 523.60 L473.00 523.60 L473.00 523.58 L473.60 523.58 L473.60 523.58 L474.20 523.58 L474.20 523.63 L474.80 523.63 L474.80 523.63 L475.40 523.63 L475.40 523.60 L476.00 523.60 L476.00 523.58 L476.60 523.58 L476.60 523.63 L477.20 523.63 L477.20 523.62 L477.80 523.62 L477.80 523.61 L478.40 523.61 L478.40 523.63 L479.00 523.63 L479.00 523.63 L479.60 523.63 L479.60 523.64 L480.20 523.64 L480.20 523.64 L480.80 523.64 L480.80 523.62 L481.40 523.62 L481.40 523.64 L482.00 523.64 L482.00 523.64 L482.60 523.64 L482.60 523.62 L483.20 523.62 L483.20 523.67 L483.80 523.67 L483.80 523.64 L484.40 523.64 L484.40 523.63 L485.00 523.63 L485.60 524.00 Z" fill="#c9143a"/>
<path d="M398.60 524.00 L398.60 524.00 L399.20 524.00 L399.20 524.00 L399.80 524.00 L399.80 524.00 L400.40 524.00 L400.40 524.00 L401.00 524.00 L401.00 524.00 L401.60 524.00 L401.60 524.00 L402.20 524.00 L402.20 524.00 L402.80 524.00 L402.80 524.00 L403.40 524.00 L403.40 524.00 L404.00 524.00 L404.00 524.00 L404.60 524.00 L404.60 524.00 L405.20 524.00 L405.20 524.00 L405.80 524.00 L405.80 524.00 L406.40 524.00 L406.40 524.00 L407.00 524.00 L407.00 524.00 L407.60 524.00 L407.60 524.00 L408.20 524.00 L408.20 524.00 L408.80 524.00 L408.80 524.00 L409.40 524.00 L409.40 524.00 L410.00 524.00 L410.00 524.00 L410.60 524.00 L410.60 524.00 L411.20 524.00 L411.20 524.00 L411.80 524.00 L411.80 524.00 L412.40 524.00 L412.40 524.00 L413.00 524.00 L413.00 524.00 L413.60 524.00 L413.60 524.00 L414.20 524.00 L414.20 524.00 L414.80 524.00 L414.80 524.00 L415.40 524.00 L415.40 524.00 L416.00 524.00 L416.00 524.00 L416.60 524.00 L416.60 524.00 L417.20 524.00 L417.20 524.00 L417.80 524.00 L417.80 523.91 L418.40 523.91 L418.40 523.78 L419.00 523.78 L419.00 523.67 L419.60 523.67 L419.60 523.57 L420.20 523.57 L420.20 523.38 L420.80 523.38 L420.80 523.13 L421.40 523.13 L421.40 522.76 L422.00 522.76 L422.00 522.45 L422.60 522.45 L422.60 520.23 L423.20 520.23 L423.20 517.93 L423.80 517.93 L423.80 515.24 L424.40 515.24 L424.40 513.16 L425.00 513.16 L425.00 511.47 L425.60 511.47 L425.60 508.39 L426.20 508.39 L426.20 503.77 L426.80 503.77 L426.80 504.15 L427.40 504.15 L427.40 501.59 L428.00 501.59 L428.00 495.86 L428.60 495.86 L428.60 495.08 L429.20 495.08 L429.20 491.14 L429.80 491.14 L429.80 489.27 L430.40 489.27 L430.40 487.93 L431.00 487.93 L431.00 480.53 L431.60 480.53 L431.60 484.90 L432.20 484.90 L432.20 482.36 L432.80 482.36 L432.80 483.44 L433.40 483.44 L433.40 480.34 L434.00 480.34 L434.00 484.30 L434.60 484.30 L434.60 484.58 L435.20 484.58 L435.20 482.43 L435.80 482.43 L435.80 486.94 L436.40 486.94 L436.40 486.34 L437.00 486.34 L437.00 485.08 L437.60 485.08 L437.60 490.97 L438.20 490.97 L438.20 491.00 L438.80 491.00 L438.80 489.53 L439.40 489.53 L439.40 486.68 L440.00 486.68 L440.00 489.65 L440.60 489.65 L440.60 493.96 L441.20 493.96 L441.20 494.94 L441.80 494.94 L441.80 497.14 L442.40 497.14 L442.40 496.88 L443.00 496.88 L443.00 500.39 L443.60 500.39 L443.60 498.68 L444.20 498.68 L444.20 499.89 L444.80 499.89 L444.80 501.84 L445.40 501.84 L445.40 504.85 L446.00 504.85 L446.00 506.08 L446.60 506.08 L446.60 510.79 L447.20 510.79 L447.20 511.71 L447.80 511.71 L447.80 511.93 L448.40 511.93 L448.40 513.79 L449.00 513.79 L449.00 515.67 L449.60 515.67 L449.60 516.07 L450.20 516.07 L450.20 517.76 L450.80 517.76 L450.80 518.26 L451.40 518.26 L451.40 519.37 L452.00 519.37 L452.00 520.00 L452.60 520.00 L452.60 520.34 L453.20 520.34 L453.20 521.09 L453.80 521.09 L453.80 521.30 L454.40 521.30 L454.40 521.25 L455.00 521.25 L455.00 521.81 L455.60 521.81 L455.60 522.19 L456.20 522.19 L456.20 522.40 L456.80 522.40 L456.80 522.59 L457.40 522.59 L457.40 522.50 L458.00 522.50 L458.00 522.66 L458.60 522.66 L458.60 522.73 L459.20 522.73 L459.20 522.82 L459.80 522.82 L459.80 522.64 L460.40 522.64 L460.40 522.83 L461.00 522.83 L461.00 522.92 L461.60 522.92 L461.60 523.00 L462.20 523.00 L462.20 523.04 L462.80 523.04 L462.80 523.06 L463.40 523.06 L463.40 523.01 L464.00 523.01 L464.00 523.15 L464.60 523.15 L464.60 523.22 L465.20 523.22 L465.20 523.18 L465.80 523.18 L465.80 523.27 L466.40 523.27 L466.40 523.20 L467.00 523.20 L467.00 523.33 L467.60 523.33 L467.60 523.27 L468.20 523.27 L468.20 523.24 L468.80 523.24 L468.80 523.30 L469.40 523.30 L469.40 523.22 L470.00 523.22 L470.00 523.30 L470.60 523.30 L470.60 523.34 L471.20 523.34 L471.20 523.32 L471.80 523.32 L471.80 523.38 L472.40 523.38 L472.40 523.33 L473.00 523.33 L473.00 523.36 L473.60 523.36 L473.60 523.27 L474.20 523.27 L474.20 523.29 L474.80 523.29 L474.80 523.34 L475.40 523.34 L475.40 523.40 L476.00 523.40 L476.00 523.38 L476.60 523.38 L476.60 523.38 L477.20 523.38 L477.20 523.39 L477.80 523.39 L477.80 523.39 L478.40 523.39 L478.40 523.32 L479.00 523.32 L479.00 523.41 L479.60 523.41 L479.60 523.43 L480.20 523.43 L480.20 523.32 L480.80 523.32 L480.80 523.37 L481.40 523.37 L481.40 523.33 L482.00 523.33 L482.00 523.40 L482.60 523.40 L482.60 523.35 L483.20 523.35 L483.20 523.38 L483.80 523.38 L483.80 523.37 L484.40 523.37 L484.40 523.38 L485.00 523.38 L485.60 524.00 Z" fill="#155289"/>
<rect x="400.1" y="516.6" width="0.9" height="7.4" fill="#d8506a"/>
<g stroke="#2a2a2a" stroke-width="1.25" fill="none">
<path d="M398.00 433.00 V524.30 H485.60"/>
<path d="M400.50 524.30 v2.6" stroke-width="1"/>
<path d="M428.70 524.30 v2.6" stroke-width="1"/>
<path d="M457.00 524.30 v2.6" stroke-width="1"/>
<path d="M485.20 524.30 v2.6" stroke-width="1"/>
<path d="M398.00 436.30 h-3" stroke-width="1"/>
<path d="M398.00 451.00 h-3" stroke-width="1"/>
<path d="M398.00 465.50 h-3" stroke-width="1"/>
<path d="M398.00 480.10 h-3" stroke-width="1"/>
<path d="M398.00 494.70 h-3" stroke-width="1"/>
<path d="M398.00 509.40 h-3" stroke-width="1"/>
<path d="M398.00 524.00 h-3" stroke-width="1"/>
</g>
<g font-family="Liberation Sans, Arial, Helvetica, sans-serif" font-size="8" fill="#111" stroke="#111" stroke-width="0.1">
<text x="400.50" y="535.00" text-anchor="middle">0</text>
<text x="428.70" y="535.00" text-anchor="middle">30</text>
<text x="457.00" y="535.00" text-anchor="middle">60</text>
<text x="485.20" y="535.00" text-anchor="middle">90</text>
<text x="392.40" y="439.15" text-anchor="end">3</text>
<text x="392.40" y="453.85" text-anchor="end">2.5</text>
<text x="392.40" y="468.35" text-anchor="end">2</text>
<text x="392.40" y="482.95" text-anchor="end">1.5</text>
<text x="392.40" y="497.55" text-anchor="end">1</text>
<text x="392.40" y="512.25" text-anchor="end">0.5</text>
<text x="392.40" y="526.85" text-anchor="end">0</text>
</g>
<rect x="452.90" y="440.10" width="3.9" height="3.9" fill="#0d4d8c"/><rect x="452.90" y="448.10" width="3.9" height="3.9" fill="#c8102e"/>
<g font-family="Liberation Sans, Arial, Helvetica, sans-serif" font-size="7.6" fill="#111" stroke="#111" stroke-width="0.15"><text x="459.70" y="444.10">E10.5</text><text x="459.70" y="452.10">E12.5</text></g>
<path d="M285.90 638.00 L285.90 635.30 L286.50 635.30 L286.50 635.23 L287.10 635.23 L287.10 635.21 L287.70 635.21 L287.70 635.13 L288.30 635.13 L288.30 635.29 L288.90 635.29 L288.90 635.18 L289.50 635.18 L289.50 635.83 L290.10 635.83 L290.10 635.54 L290.70 635.54 L290.70 635.23 L291.30 635.23 L291.30 635.45 L291.90 635.45 L291.90 635.30 L292.50 635.30 L292.50 635.85 L293.10 635.85 L293.10 635.63 L293.70 635.63 L293.70 635.80 L294.30 635.80 L294.30 635.62 L294.90 635.62 L294.90 635.62 L295.50 635.62 L295.50 635.94 L296.10 635.94 L296.10 635.74 L296.70 635.74 L296.70 635.63 L297.30 635.63 L297.30 635.10 L297.90 635.10 L297.90 635.14 L298.50 635.14 L298.50 635.53 L299.10 635.53 L299.10 634.96 L299.70 634.96 L299.70 635.42 L300.30 635.42 L300.30 634.69 L300.90 634.69 L300.90 634.61 L301.50 634.61 L301.50 634.24 L302.10 634.24 L302.10 632.54 L302.70 632.54 L302.70 632.92 L303.30 632.92 L303.30 631.97 L303.90 631.97 L303.90 628.92 L304.50 628.92 L304.50 627.56 L305.10 627.56 L305.10 627.73 L305.70 627.73 L305.70 624.03 L306.30 624.03 L306.30 623.73 L306.90 623.73 L306.90 621.05 L307.50 621.05 L307.50 621.32 L308.10 621.32 L308.10 615.28 L308.70 615.28 L308.70 614.55 L309.30 614.55 L309.30 610.49 L309.90 610.49 L309.90 608.66 L310.50 608.66 L310.50 611.09 L311.10 611.09 L311.10 608.58 L311.70 608.58 L311.70 608.56 L312.30 608.56 L312.30 607.49 L312.90 607.49 L312.90 607.03 L313.50 607.03 L313.50 604.95 L314.10 604.95 L314.10 602.63 L314.70 602.63 L314.70 608.93 L315.30 608.93 L315.30 604.01 L315.90 604.01 L315.90 609.18 L316.50 609.18 L316.50 611.48 L317.10 611.48 L317.10 609.84 L317.70 609.84 L317.70 614.31 L318.30 614.31 L318.30 617.35 L318.90 617.35 L318.90 618.36 L319.50 618.36 L319.50 619.28 L320.10 619.28 L320.10 624.24 L320.70 624.24 L320.70 622.17 L321.30 622.17 L321.30 627.41 L321.90 627.41 L321.90 626.79 L322.50 626.79 L322.50 628.43 L323.10 628.43 L323.10 631.85 L323.70 631.85 L323.70 631.39 L324.30 631.39 L324.30 633.06 L324.90 633.06 L324.90 633.77 L325.50 633.77 L325.50 635.28 L326.10 635.28 L326.10 636.04 L326.70 636.04 L326.70 636.44 L327.30 636.44 L327.30 636.65 L327.90 636.65 L327.90 637.39 L328.50 637.39 L328.50 637.38 L329.10 637.38 L329.10 637.36 L329.70 637.36 L329.70 637.37 L330.30 637.37 L330.30 637.47 L330.90 637.47 L330.90 637.48 L331.50 637.48 L331.50 637.46 L332.10 637.46 L332.10 637.43 L332.70 637.43 L332.70 637.54 L333.30 637.54 L333.30 637.45 L333.90 637.45 L333.90 637.45 L334.50 637.45 L334.50 637.45 L335.10 637.45 L335.10 637.58 L335.70 637.58 L335.70 637.46 L336.30 637.46 L336.30 637.58 L336.90 637.58 L336.90 637.56 L337.50 637.56 L337.50 637.53 L338.10 637.53 L338.10 637.50 L338.70 637.50 L338.70 637.58 L339.30 637.58 L339.30 637.52 L339.90 637.52 L339.90 637.57 L340.50 637.57 L340.50 637.61 L341.10 637.61 L341.10 637.61 L341.70 637.61 L341.70 637.64 L342.30 637.64 L342.30 637.65 L342.90 637.65 L342.90 637.65 L343.50 637.65 L343.50 637.60 L344.10 637.60 L344.10 637.58 L344.70 637.58 L344.70 637.67 L345.30 637.67 L345.30 637.69 L345.90 637.69 L345.90 637.61 L346.50 637.61 L346.50 637.66 L347.10 637.66 L347.10 637.68 L347.70 637.68 L347.70 637.70 L348.30 637.70 L348.30 637.68 L348.90 637.68 L348.90 637.67 L349.50 637.67 L349.50 637.71 L350.10 637.71 L350.10 637.72 L350.70 637.72 L350.70 637.75 L351.30 637.75 L351.30 637.69 L351.90 637.69 L351.90 637.77 L352.50 637.77 L352.50 637.74 L353.10 637.74 L353.10 637.73 L353.70 637.73 L353.70 637.78 L354.30 637.78 L354.30 637.75 L354.90 637.75 L354.90 637.75 L355.50 637.75 L355.50 637.77 L356.10 637.77 L356.10 637.77 L356.70 637.77 L356.70 637.82 L357.30 637.82 L357.30 637.81 L357.90 637.81 L357.90 637.83 L358.50 637.83 L358.50 637.80 L359.10 637.80 L359.10 637.84 L359.70 637.84 L359.70 637.84 L360.30 637.84 L360.30 637.82 L360.90 637.82 L360.90 637.84 L361.50 637.84 L361.50 637.84 L362.10 637.84 L362.10 637.87 L362.70 637.87 L362.70 637.88 L363.30 637.88 L363.30 637.88 L363.90 637.88 L363.90 637.89 L364.50 637.89 L364.50 637.91 L365.10 637.91 L365.10 637.91 L365.70 637.91 L365.70 637.92 L366.30 637.92 L366.30 637.93 L366.90 637.93 L366.90 637.92 L367.50 637.92 L367.50 637.93 L368.10 637.93 L368.10 637.95 L368.70 637.95 L368.70 637.96 L369.30 637.96 L369.30 637.97 L369.90 637.97 L369.90 637.98 L370.50 637.98 L370.50 637.98 L371.10 637.98 L371.10 637.99 L371.70 637.99 L371.70 638.00 L372.30 638.00 L372.60 638.00 Z" fill="#c9143a"/>
<path d="M285.90 638.00 L285.90 638.00 L286.50 638.00 L286.50 637.99 L287.10 637.99 L287.10 637.99 L287.70 637.99 L287.70 637.98 L288.30 637.98 L288.30 637.98 L288.90 637.98 L288.90 637.97 L289.50 637.97 L289.50 637.96 L290.10 637.96 L290.10 637.96 L290.70 637.96 L290.70 637.95 L291.30 637.95 L291.30 637.94 L291.90 637.94 L291.90 637.94 L292.50 637.94 L292.50 637.93 L293.10 637.93 L293.10 637.93 L293.70 637.93 L293.70 637.93 L294.30 637.93 L294.30 637.92 L294.90 637.92 L294.90 637.91 L295.50 637.91 L295.50 637.91 L296.10 637.91 L296.10 637.90 L296.70 637.90 L296.70 637.89 L297.30 637.89 L297.30 637.89 L297.90 637.89 L297.90 637.88 L298.50 637.88 L298.50 637.88 L299.10 637.88 L299.10 637.87 L299.70 637.87 L299.70 637.87 L300.30 637.87 L300.30 637.87 L300.90 637.87 L300.90 637.85 L301.50 637.85 L301.50 637.84 L302.10 637.84 L302.10 637.85 L302.70 637.85 L302.70 637.85 L303.30 637.85 L303.30 637.84 L303.90 637.84 L303.90 637.82 L304.50 637.82 L304.50 637.83 L305.10 637.83 L305.10 637.80 L305.70 637.80 L305.70 637.81 L306.30 637.81 L306.30 637.82 L306.90 637.82 L306.90 637.80 L307.50 637.80 L307.50 637.80 L308.10 637.80 L308.10 637.77 L308.70 637.77 L308.70 637.77 L309.30 637.77 L309.30 637.78 L309.90 637.78 L309.90 637.77 L310.50 637.77 L310.50 637.76 L311.10 637.76 L311.10 637.75 L311.70 637.75 L311.70 637.74 L312.30 637.74 L312.30 637.77 L312.90 637.77 L312.90 637.75 L313.50 637.75 L313.50 637.73 L314.10 637.73 L314.10 637.74 L314.70 637.74 L314.70 637.72 L315.30 637.72 L315.30 637.74 L315.90 637.74 L315.90 637.70 L316.50 637.70 L316.50 637.71 L317.10 637.71 L317.10 637.72 L317.70 637.72 L317.70 637.69 L318.30 637.69 L318.30 637.70 L318.90 637.70 L318.90 637.70 L319.50 637.70 L319.50 637.68 L320.10 637.68 L320.10 637.69 L320.70 637.69 L320.70 637.69 L321.30 637.69 L321.30 637.64 L321.90 637.64 L321.90 637.65 L322.50 637.65 L322.50 637.68 L323.10 637.68 L323.10 637.63 L323.70 637.63 L323.70 637.67 L324.30 637.67 L324.30 637.65 L324.90 637.65 L324.90 637.61 L325.50 637.61 L325.50 637.62 L326.10 637.62 L326.10 637.63 L326.70 637.63 L326.70 637.62 L327.30 637.62 L327.30 637.61 L327.90 637.61 L327.90 637.63 L328.50 637.63 L328.50 637.56 L329.10 637.56 L329.10 637.62 L329.70 637.62 L329.70 637.59 L330.30 637.59 L330.30 637.56 L330.90 637.56 L330.90 637.58 L331.50 637.58 L331.50 637.53 L332.10 637.53 L332.10 637.57 L332.70 637.57 L332.70 637.41 L333.30 637.41 L333.30 637.32 L333.90 637.32 L333.90 637.25 L334.50 637.25 L334.50 637.13 L335.10 637.13 L335.10 637.09 L335.70 637.09 L335.70 636.94 L336.30 636.94 L336.30 636.85 L336.90 636.85 L336.90 636.80 L337.50 636.80 L337.50 636.72 L338.10 636.72 L338.10 636.58 L338.70 636.58 L338.70 636.05 L339.30 636.05 L339.30 633.24 L339.90 633.24 L339.90 629.47 L340.50 629.47 L340.50 625.05 L341.10 625.05 L341.10 618.90 L341.70 618.90 L341.70 612.06 L342.30 612.06 L342.30 608.22 L342.90 608.22 L342.90 601.99 L343.50 601.99 L343.50 594.24 L344.10 594.24 L344.10 585.18 L344.70 585.18 L344.70 581.69 L345.30 581.69 L345.30 577.36 L345.90 577.36 L345.90 577.10 L346.50 577.10 L346.50 575.82 L347.10 575.82 L347.10 587.12 L347.70 587.12 L347.70 590.96 L348.30 590.96 L348.30 592.94 L348.90 592.94 L348.90 600.08 L349.50 600.08 L349.50 607.18 L350.10 607.18 L350.10 611.12 L350.70 611.12 L350.70 615.02 L351.30 615.02 L351.30 619.96 L351.90 619.96 L351.90 623.09 L352.50 623.09 L352.50 626.02 L353.10 626.02 L353.10 627.78 L353.70 627.78 L353.70 631.07 L354.30 631.07 L354.30 632.49 L354.90 632.49 L354.90 633.20 L355.50 633.20 L355.50 634.20 L356.10 634.20 L356.10 635.39 L356.70 635.39 L356.70 636.22 L357.30 636.22 L357.30 636.66 L357.90 636.66 L357.90 636.75 L358.50 636.75 L358.50 636.85 L359.10 636.85 L359.10 636.91 L359.70 636.91 L359.70 637.01 L360.30 637.01 L360.30 637.16 L360.90 637.16 L360.90 637.22 L361.50 637.22 L361.50 637.17 L362.10 637.17 L362.10 637.24 L362.70 637.24 L362.70 637.25 L363.30 637.25 L363.30 637.17 L363.90 637.17 L363.90 637.27 L364.50 637.27 L364.50 637.21 L365.10 637.21 L365.10 637.27 L365.70 637.27 L365.70 637.21 L366.30 637.21 L366.30 637.24 L366.90 637.24 L366.90 637.34 L367.50 637.34 L367.50 637.34 L368.10 637.34 L368.10 637.27 L368.70 637.27 L368.70 637.33 L369.30 637.33 L369.30 637.36 L369.90 637.36 L369.90 637.34 L370.50 637.34 L370.50 637.35 L371.10 637.35 L371.10 637.40 L371.70 637.40 L371.70 637.41 L372.30 637.41 L372.60 638.00 Z" fill="#155289"/>
<g stroke="#2a2a2a" stroke-width="1.25" fill="none">
<path d="M285.30 547.50 V638.30 H372.60"/>
<path d="M285.60 638.30 v2.6" stroke-width="1"/>
<path d="M296.30 638.30 v2.6" stroke-width="1"/>
<path d="M321.30 638.30 v2.6" stroke-width="1"/>
<path d="M347.00 638.30 v2.6" stroke-width="1"/>
<path d="M372.50 638.30 v2.6" stroke-width="1"/>
<path d="M285.30 550.70 h-3" stroke-width="1"/>
<path d="M285.30 565.20 h-3" stroke-width="1"/>
<path d="M285.30 579.80 h-3" stroke-width="1"/>
<path d="M285.30 594.30 h-3" stroke-width="1"/>
<path d="M285.30 608.90 h-3" stroke-width="1"/>
<path d="M285.30 623.40 h-3" stroke-width="1"/>
<path d="M285.30 638.00 h-3" stroke-width="1"/>
</g>
<g font-family="Liberation Sans, Arial, Helvetica, sans-serif" font-size="8" fill="#111" stroke="#111" stroke-width="0.1">
<text x="285.60" y="648.20" text-anchor="middle">0</text>
<text x="296.30" y="648.20" text-anchor="middle">1e3</text>
<text x="321.30" y="648.20" text-anchor="middle">1e4</text>
<text x="347.00" y="648.20" text-anchor="middle">1e5</text>
<text x="372.50" y="648.20" text-anchor="middle">1e6</text>
<text x="279.80" y="553.55" text-anchor="end">3</text>
<text x="279.80" y="568.05" text-anchor="end">2.5</text>
<text x="279.80" y="582.65" text-anchor="end">2</text>
<text x="279.80" y="597.15" text-anchor="end">1.5</text>
<text x="279.80" y="611.75" text-anchor="end">1</text>
<text x="279.80" y="626.25" text-anchor="end">0.5</text>
<text x="279.80" y="640.85" text-anchor="end">0</text>
</g>
<rect x="292.70" y="555.80" width="3.9" height="3.9" fill="#0d4d8c"/><rect x="292.70" y="563.80" width="3.9" height="3.9" fill="#c8102e"/>
<g font-family="Liberation Sans, Arial, Helvetica, sans-serif" font-size="7.6" fill="#111" stroke="#111" stroke-width="0.15"><text x="299.50" y="559.80">E10.5</text><text x="299.50" y="567.80">E12.5</text></g>
<path d="M398.20 638.00 L398.20 637.71 L398.80 637.71 L398.80 637.68 L399.40 637.68 L399.40 637.59 L400.00 637.59 L400.00 637.61 L400.60 637.61 L400.60 637.52 L401.20 637.52 L401.20 637.49 L401.80 637.49 L401.80 637.49 L402.40 637.49 L402.40 637.39 L403.00 637.39 L403.00 637.41 L403.60 637.41 L403.60 637.31 L404.20 637.31 L404.20 637.33 L404.80 637.33 L404.80 637.28 L405.40 637.28 L405.40 637.17 L406.00 637.17 L406.00 637.04 L406.60 637.04 L406.60 637.15 L407.20 637.15 L407.20 637.08 L407.80 637.08 L407.80 636.94 L408.40 636.94 L408.40 636.81 L409.00 636.81 L409.00 636.86 L409.60 636.86 L409.60 636.86 L410.20 636.86 L410.20 636.65 L410.80 636.65 L410.80 636.88 L411.40 636.88 L411.40 636.58 L412.00 636.58 L412.00 636.71 L412.60 636.71 L412.60 636.72 L413.20 636.72 L413.20 636.69 L413.80 636.69 L413.80 636.46 L414.40 636.46 L414.40 636.07 L415.00 636.07 L415.00 636.17 L415.60 636.17 L415.60 635.79 L416.20 635.79 L416.20 635.57 L416.80 635.57 L416.80 635.54 L417.40 635.54 L417.40 635.24 L418.00 635.24 L418.00 635.40 L418.60 635.40 L418.60 635.15 L419.20 635.15 L419.20 634.78 L419.80 634.78 L419.80 634.09 L420.40 634.09 L420.40 634.05 L421.00 634.05 L421.00 633.89 L421.60 633.89 L421.60 633.33 L422.20 633.33 L422.20 633.20 L422.80 633.20 L422.80 633.17 L423.40 633.17 L423.40 632.36 L424.00 632.36 L424.00 632.29 L424.60 632.29 L424.60 632.70 L425.20 632.70 L425.20 632.06 L425.80 632.06 L425.80 631.94 L426.40 631.94 L426.40 631.23 L427.00 631.23 L427.00 631.25 L427.60 631.25 L427.60 631.52 L428.20 631.52 L428.20 629.91 L428.80 629.91 L428.80 631.02 L429.40 631.02 L429.40 630.05 L430.00 630.05 L430.00 628.94 L430.60 628.94 L430.60 629.79 L431.20 629.79 L431.20 628.64 L431.80 628.64 L431.80 628.93 L432.40 628.93 L432.40 626.16 L433.00 626.16 L433.00 624.63 L433.60 624.63 L433.60 624.00 L434.20 624.00 L434.20 621.32 L434.80 621.32 L434.80 621.24 L435.40 621.24 L435.40 617.28 L436.00 617.28 L436.00 615.47 L436.60 615.47 L436.60 611.70 L437.20 611.70 L437.20 608.44 L437.80 608.44 L437.80 601.28 L438.40 601.28 L438.40 595.92 L439.00 595.92 L439.00 596.56 L439.60 596.56 L439.60 591.67 L440.20 591.67 L440.20 595.55 L440.80 595.55 L440.80 586.17 L441.40 586.17 L441.40 585.66 L442.00 585.66 L442.00 583.84 L442.60 583.84 L442.60 589.86 L443.20 589.86 L443.20 599.81 L443.80 599.81 L443.80 604.45 L444.40 604.45 L444.40 607.61 L445.00 607.61 L445.00 614.66 L445.60 614.66 L445.60 614.70 L446.20 614.70 L446.20 618.98 L446.80 618.98 L446.80 621.81 L447.40 621.81 L447.40 623.95 L448.00 623.95 L448.00 623.13 L448.60 623.13 L448.60 626.87 L449.20 626.87 L449.20 628.16 L449.80 628.16 L449.80 629.50 L450.40 629.50 L450.40 629.62 L451.00 629.62 L451.00 632.01 L451.60 632.01 L451.60 632.44 L452.20 632.44 L452.20 633.35 L452.80 633.35 L452.80 633.97 L453.40 633.97 L453.40 634.85 L454.00 634.85 L454.00 635.66 L454.60 635.66 L454.60 636.69 L455.20 636.69 L455.20 637.15 L455.80 637.15 L455.80 637.18 L456.40 637.18 L456.40 637.09 L457.00 637.09 L457.00 637.09 L457.60 637.09 L457.60 637.27 L458.20 637.27 L458.20 637.28 L458.80 637.28 L458.80 637.28 L459.40 637.28 L459.40 637.30 L460.00 637.30 L460.00 637.27 L460.60 637.27 L460.60 637.27 L461.20 637.27 L461.20 637.34 L461.80 637.34 L461.80 637.40 L462.40 637.40 L462.40 637.35 L463.00 637.35 L463.00 637.37 L463.60 637.37 L463.60 637.36 L464.20 637.36 L464.20 637.32 L464.80 637.32 L464.80 637.38 L465.40 637.38 L465.40 637.42 L466.00 637.42 L466.00 637.42 L466.60 637.42 L466.60 637.43 L467.20 637.43 L467.20 637.53 L467.80 637.53 L467.80 637.44 L468.40 637.44 L468.40 637.47 L469.00 637.47 L469.00 637.48 L469.60 637.48 L469.60 637.51 L470.20 637.51 L470.20 637.57 L470.80 637.57 L470.80 637.58 L471.40 637.58 L471.40 637.63 L472.00 637.63 L472.00 637.59 L472.60 637.59 L472.60 637.66 L473.20 637.66 L473.20 637.68 L473.80 637.68 L473.80 637.68 L474.40 637.68 L474.40 637.70 L475.00 637.70 L475.00 637.70 L475.60 637.70 L475.60 637.74 L476.20 637.74 L476.20 637.76 L476.80 637.76 L476.80 637.76 L477.40 637.76 L477.40 637.78 L478.00 637.78 L478.00 637.78 L478.60 637.78 L478.60 637.82 L479.20 637.82 L479.20 637.79 L479.80 637.79 L479.80 637.82 L480.40 637.82 L480.40 637.86 L481.00 637.86 L481.00 637.87 L481.60 637.87 L481.60 637.88 L482.20 637.88 L482.20 637.90 L482.80 637.90 L482.80 637.92 L483.40 637.92 L483.40 637.92 L484.00 637.92 L484.00 637.94 L484.60 637.94 L484.60 637.96 L485.20 637.96 L485.20 637.98 L485.80 637.98 L485.80 637.99 L486.40 637.99 L486.60 638.00 Z" fill="#c9143a"/>
<path d="M398.20 638.00 L398.20 638.00 L398.80 638.00 L398.80 637.98 L399.40 637.98 L399.40 637.98 L400.00 637.98 L400.00 637.96 L400.60 637.96 L400.60 637.96 L401.20 637.96 L401.20 637.94 L401.80 637.94 L401.80 637.93 L402.40 637.93 L402.40 637.92 L403.00 637.92 L403.00 637.91 L403.60 637.91 L403.60 637.90 L404.20 637.90 L404.20 637.89 L404.80 637.89 L404.80 637.88 L405.40 637.88 L405.40 637.87 L406.00 637.87 L406.00 637.85 L406.60 637.85 L406.60 637.85 L407.20 637.85 L407.20 637.84 L407.80 637.84 L407.80 637.83 L408.40 637.83 L408.40 637.82 L409.00 637.82 L409.00 637.80 L409.60 637.80 L409.60 637.78 L410.20 637.78 L410.20 637.78 L410.80 637.78 L410.80 637.78 L411.40 637.78 L411.40 637.76 L412.00 637.76 L412.00 637.73 L412.60 637.73 L412.60 637.75 L413.20 637.75 L413.20 637.72 L413.80 637.72 L413.80 637.72 L414.40 637.72 L414.40 637.70 L415.00 637.70 L415.00 637.70 L415.60 637.70 L415.60 637.67 L416.20 637.67 L416.20 637.67 L416.80 637.67 L416.80 637.65 L417.40 637.65 L417.40 637.63 L418.00 637.63 L418.00 637.63 L418.60 637.63 L418.60 637.64 L419.20 637.64 L419.20 637.64 L419.80 637.64 L419.80 637.58 L420.40 637.58 L420.40 637.59 L421.00 637.59 L421.00 637.60 L421.60 637.60 L421.60 637.54 L422.20 637.54 L422.20 637.55 L422.80 637.55 L422.80 637.53 L423.40 637.53 L423.40 637.51 L424.00 637.51 L424.00 637.54 L424.60 637.54 L424.60 637.53 L425.20 637.53 L425.20 637.48 L425.80 637.48 L425.80 637.52 L426.40 637.52 L426.40 637.46 L427.00 637.46 L427.00 637.50 L427.60 637.50 L427.60 637.45 L428.20 637.45 L428.20 637.44 L428.80 637.44 L428.80 637.40 L429.40 637.40 L429.40 637.40 L430.00 637.40 L430.00 637.42 L430.60 637.42 L430.60 637.37 L431.20 637.37 L431.20 637.30 L431.80 637.30 L431.80 637.19 L432.40 637.19 L432.40 637.12 L433.00 637.12 L433.00 637.10 L433.60 637.10 L433.60 636.91 L434.20 636.91 L434.20 636.89 L434.80 636.89 L434.80 636.79 L435.40 636.79 L435.40 636.79 L436.00 636.79 L436.00 636.72 L436.60 636.72 L436.60 636.69 L437.20 636.69 L437.20 636.58 L437.80 636.58 L437.80 636.59 L438.40 636.59 L438.40 636.56 L439.00 636.56 L439.00 636.57 L439.60 636.57 L439.60 636.48 L440.20 636.48 L440.20 636.47 L440.80 636.47 L440.80 636.61 L441.40 636.61 L441.40 636.57 L442.00 636.57 L442.00 636.61 L442.60 636.61 L442.60 636.51 L443.20 636.51 L443.20 636.45 L443.80 636.45 L443.80 636.61 L444.40 636.61 L444.40 636.49 L445.00 636.49 L445.00 636.59 L445.60 636.59 L445.60 636.64 L446.20 636.64 L446.20 636.50 L446.80 636.50 L446.80 636.62 L447.40 636.62 L447.40 636.68 L448.00 636.68 L448.00 636.65 L448.60 636.65 L448.60 636.72 L449.20 636.72 L449.20 636.72 L449.80 636.72 L449.80 636.74 L450.40 636.74 L450.40 636.77 L451.00 636.77 L451.00 636.77 L451.60 636.77 L451.60 636.85 L452.20 636.85 L452.20 636.70 L452.80 636.70 L452.80 636.11 L453.40 636.11 L453.40 633.91 L454.00 633.91 L454.00 629.66 L454.60 629.66 L454.60 625.55 L455.20 625.55 L455.20 618.11 L455.80 618.11 L455.80 612.55 L456.40 612.55 L456.40 604.72 L457.00 604.72 L457.00 595.00 L457.60 595.00 L457.60 592.71 L458.20 592.71 L458.20 586.96 L458.80 586.96 L458.80 582.58 L459.40 582.58 L459.40 577.02 L460.00 577.02 L460.00 573.16 L460.60 573.16 L460.60 571.38 L461.20 571.38 L461.20 578.03 L461.80 578.03 L461.80 577.48 L462.40 577.48 L462.40 590.42 L463.00 590.42 L463.00 590.39 L463.60 590.39 L463.60 599.98 L464.20 599.98 L464.20 603.34 L464.80 603.34 L464.80 613.48 L465.40 613.48 L465.40 616.61 L466.00 616.61 L466.00 620.81 L466.60 620.81 L466.60 624.01 L467.20 624.01 L467.20 628.29 L467.80 628.29 L467.80 630.37 L468.40 630.37 L468.40 631.21 L469.00 631.21 L469.00 633.29 L469.60 633.29 L469.60 635.05 L470.20 635.05 L470.20 635.78 L470.80 635.78 L470.80 636.10 L471.40 636.10 L471.40 636.38 L472.00 636.38 L472.00 636.72 L472.60 636.72 L472.60 637.00 L473.20 637.00 L473.20 637.13 L473.80 637.13 L473.80 637.17 L474.40 637.17 L474.40 637.23 L475.00 637.23 L475.00 637.22 L475.60 637.22 L475.60 637.22 L476.20 637.22 L476.20 637.25 L476.80 637.25 L476.80 637.30 L477.40 637.30 L477.40 637.33 L478.00 637.33 L478.00 637.36 L478.60 637.36 L478.60 637.40 L479.20 637.40 L479.20 637.43 L479.80 637.43 L479.80 637.44 L480.40 637.44 L480.40 637.49 L481.00 637.49 L481.00 637.47 L481.60 637.47 L481.60 637.50 L482.20 637.50 L482.20 637.53 L482.80 637.53 L482.80 637.59 L483.40 637.59 L483.40 637.60 L484.00 637.60 L484.00 637.62 L484.60 637.62 L484.60 637.67 L485.20 637.67 L485.20 637.65 L485.80 637.65 L485.80 637.69 L486.40 637.69 L486.60 638.00 Z" fill="#155289"/>
<g stroke="#2a2a2a" stroke-width="1.25" fill="none">
<path d="M397.50 547.00 V638.30 H486.40"/>
<path d="M403.00 638.30 v2.6" stroke-width="1"/>
<path d="M428.30 638.30 v2.6" stroke-width="1"/>
<path d="M453.80 638.30 v2.6" stroke-width="1"/>
<path d="M479.30 638.30 v2.6" stroke-width="1"/>
<path d="M397.50 550.70 h-3" stroke-width="1"/>
<path d="M397.50 565.20 h-3" stroke-width="1"/>
<path d="M397.50 579.80 h-3" stroke-width="1"/>
<path d="M397.50 594.30 h-3" stroke-width="1"/>
<path d="M397.50 608.90 h-3" stroke-width="1"/>
<path d="M397.50 623.40 h-3" stroke-width="1"/>
<path d="M397.50 638.00 h-3" stroke-width="1"/>
</g>
<g font-family="Liberation Sans, Arial, Helvetica, sans-serif" font-size="8" fill="#111" stroke="#111" stroke-width="0.1">
<text x="403.00" y="648.20" text-anchor="middle">1e3</text>
<text x="428.30" y="648.20" text-anchor="middle">1e4</text>
<text x="453.80" y="648.20" text-anchor="middle">1e5</text>
<text x="479.30" y="648.20" text-anchor="middle">1e6</text>
<text x="392.00" y="553.55" text-anchor="end">3</text>
<text x="392.00" y="568.05" text-anchor="end">2.5</text>
<text x="392.00" y="582.65" text-anchor="end">2</text>
<text x="392.00" y="597.15" text-anchor="end">1.5</text>
<text x="392.00" y="611.75" text-anchor="end">1</text>
<text x="392.00" y="626.25" text-anchor="end">0.5</text>
<text x="392.00" y="640.85" text-anchor="end">0</text>
</g>
<rect x="405.40" y="555.80" width="3.9" height="3.9" fill="#0d4d8c"/><rect x="405.40" y="563.80" width="3.9" height="3.9" fill="#c8102e"/>
<g font-family="Liberation Sans, Arial, Helvetica, sans-serif" font-size="7.6" fill="#111" stroke="#111" stroke-width="0.15"><text x="412.20" y="559.80">E10.5</text><text x="412.20" y="567.80">E12.5</text></g>
<g font-family="Liberation Sans, Arial, Helvetica, sans-serif" font-size="9.9" fill="#111" stroke="#111" stroke-width="0.22">
<text x="313.7" y="545.8" textLength="34" lengthAdjust="spacingAndGlyphs">Cell area um</text><text x="348.3" y="542.2" font-size="6.6" textLength="3.1" lengthAdjust="spacingAndGlyphs">2</text>
<text x="415" y="545.8" textLength="44" lengthAdjust="spacingAndGlyphs">Nuclear area um</text><text x="459.6" y="542.2" font-size="6.6" textLength="3.1" lengthAdjust="spacingAndGlyphs">2</text>
<text x="311.2" y="659.8" textLength="43.8" lengthAdjust="spacingAndGlyphs">Thiazole orange</text>
<text x="412" y="659.8" textLength="58" lengthAdjust="spacingAndGlyphs">Mitotracker deep red</text>
<text transform="translate(262.4,566.2) rotate(-90)" font-size="8.6" textLength="61" lengthAdjust="spacingAndGlyphs">Normalized frequency</text>
</g>
<g font-family="Liberation Sans, Arial, Helvetica, sans-serif" font-size="11.5" font-weight="bold" fill="#000" stroke="#000" stroke-width="0.3"><text x="6.5" y="15.2">A</text><text x="7" y="435">B</text><text x="224" y="435.5">C</text></g>
<rect x="0.5" y="0.5" width="518" height="666" fill="none" stroke="#000" stroke-width="1"/></svg></body></html>
